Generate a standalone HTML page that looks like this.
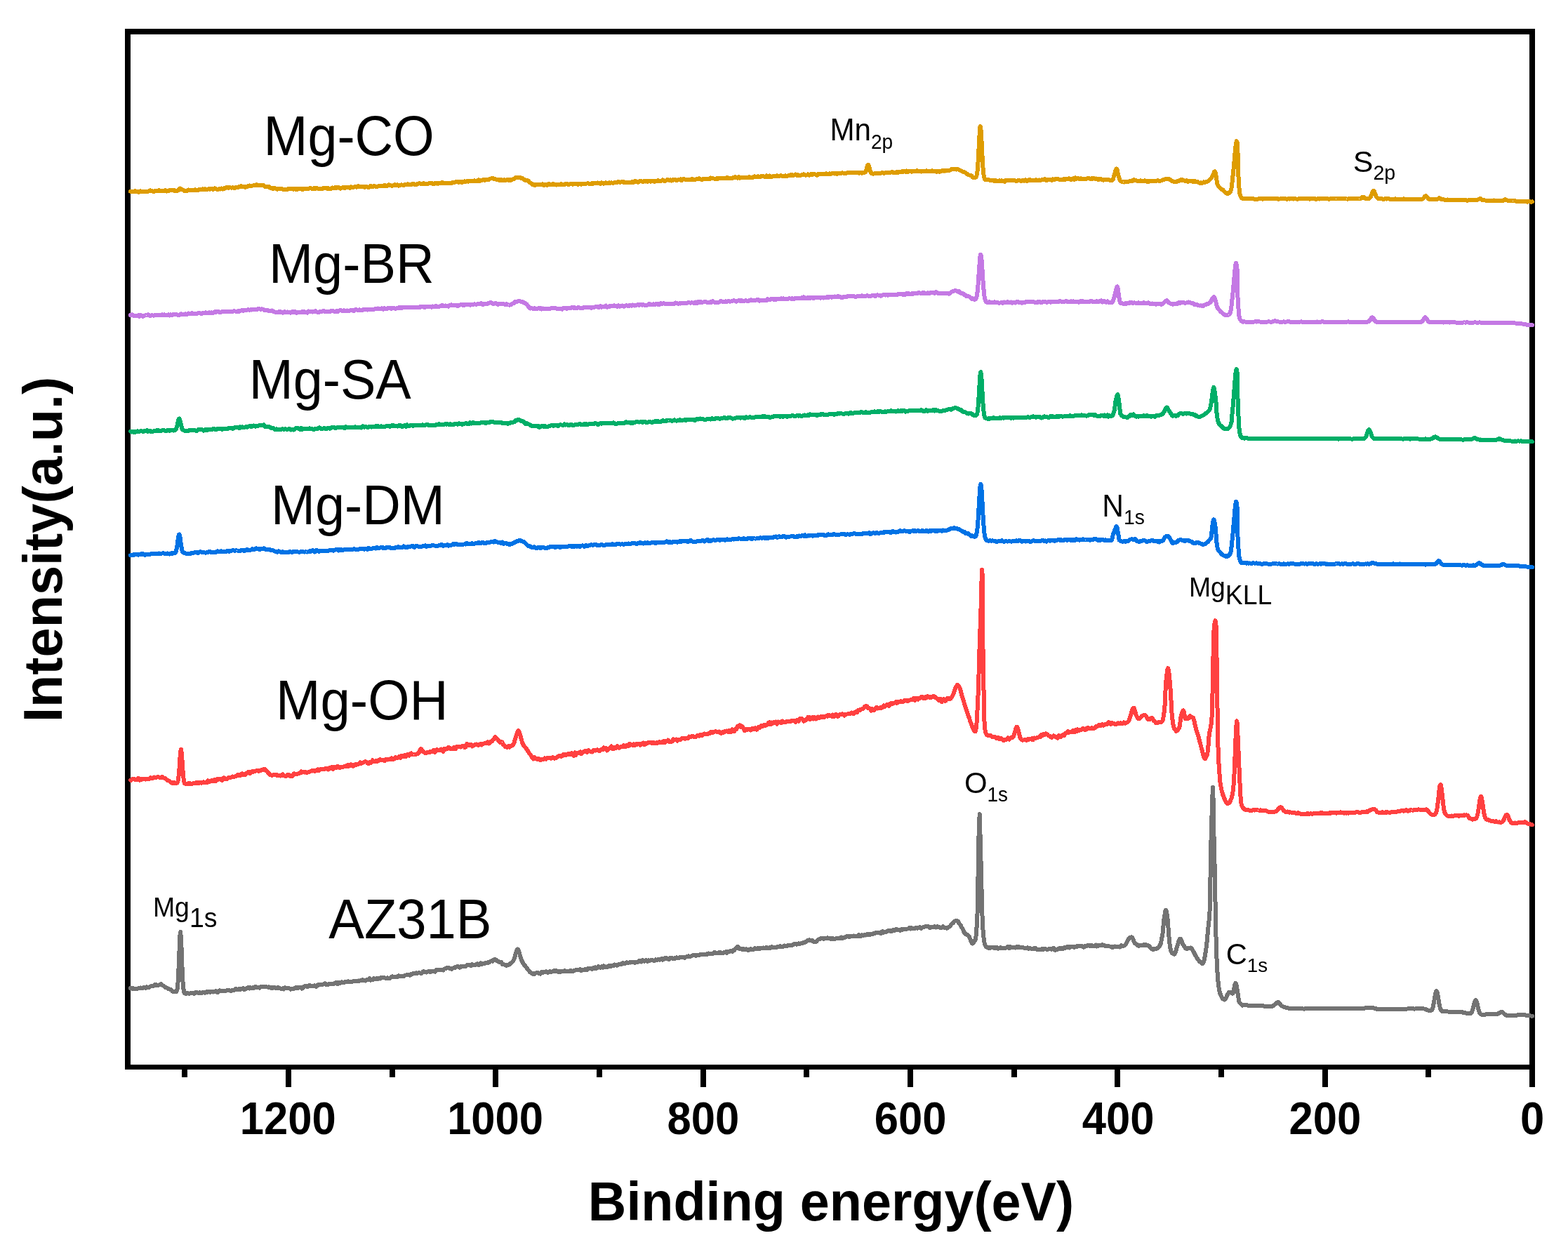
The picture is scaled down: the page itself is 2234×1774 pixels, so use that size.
<!DOCTYPE html>
<html lang="en"><head><meta charset="utf-8"><title>XPS survey spectra</title>
<style>
html,body{margin:0;padding:0;background:#fff;}
body{width:2234px;height:1774px;overflow:hidden;}
svg{display:block;}
text{white-space:pre;}
</style></head><body>
<svg xmlns="http://www.w3.org/2000/svg" width="2234" height="1774" viewBox="0 0 2234 1774">
<rect x="0" y="0" width="2234" height="1774" fill="#fff"/>
<g fill="#000" shape-rendering="crispEdges">
<rect x="178" y="41" width="2009" height="8"/>
<rect x="178" y="1517" width="2009" height="7"/>
<rect x="178" y="41" width="8" height="1483"/>
<rect x="2179" y="41" width="8" height="1483"/>
<rect x="2179" y="1520" width="8" height="29"/>
<rect x="2031" y="1520" width="8" height="15"/>
<rect x="1884" y="1520" width="8" height="29"/>
<rect x="1736" y="1520" width="8" height="15"/>
<rect x="1588" y="1520" width="8" height="29"/>
<rect x="1441" y="1520" width="8" height="15"/>
<rect x="1293" y="1520" width="8" height="29"/>
<rect x="1145" y="1520" width="8" height="15"/>
<rect x="998" y="1520" width="8" height="29"/>
<rect x="850" y="1520" width="8" height="15"/>
<rect x="702" y="1520" width="8" height="29"/>
<rect x="555" y="1520" width="8" height="15"/>
<rect x="407" y="1520" width="8" height="29"/>
<rect x="259" y="1520" width="8" height="15"/>
</g>
<g fill="none" stroke-width="6" stroke-linejoin="round" stroke-linecap="round" shape-rendering="crispEdges">
<path id="c-gray" stroke="#737373" d="M186.0,1408.0 L186.8,1408.0 L187.5,1408.3 L188.2,1408.7 L189.0,1408.6 L189.8,1408.4 L190.5,1408.5 L191.2,1408.6 L192.0,1408.9 L192.8,1409.1 L193.5,1409.2 L194.2,1409.1 L195.0,1409.0 L195.8,1408.8 L196.5,1408.4 L197.2,1408.0 L198.0,1407.8 L198.8,1407.7 L199.5,1407.6 L200.2,1407.5 L201.0,1407.7 L201.8,1407.8 L202.5,1407.9 L203.2,1407.9 L204.0,1407.5 L204.8,1407.1 L205.5,1407.0 L206.2,1407.0 L207.0,1407.5 L207.8,1407.8 L208.5,1406.9 L209.0,1406.3 L209.2,1406.3 L210.0,1406.8 L210.8,1407.3 L211.5,1407.4 L212.2,1407.2 L213.0,1406.5 L213.8,1405.8 L214.5,1405.5 L215.2,1405.3 L216.0,1405.2 L216.8,1405.2 L217.5,1405.5 L218.2,1405.4 L219.0,1404.8 L219.8,1404.1 L220.5,1403.2 L221.2,1402.8 L222.0,1403.1 L222.8,1403.5 L223.5,1403.9 L224.2,1404.0 L225.0,1403.8 L225.8,1403.7 L226.5,1403.5 L227.2,1403.2 L227.2,1403.2 L228.0,1402.9 L228.8,1402.5 L229.5,1402.1 L230.2,1402.6 L231.0,1403.7 L231.8,1404.2 L232.5,1404.4 L233.2,1404.9 L234.0,1405.4 L234.8,1406.2 L235.5,1407.2 L236.2,1407.4 L237.0,1407.2 L237.6,1407.5 L237.8,1407.5 L238.5,1408.0 L239.2,1408.5 L240.0,1409.1 L240.8,1409.3 L241.5,1409.4 L242.2,1409.8 L243.0,1410.1 L243.8,1410.5 L244.5,1410.9 L245.2,1411.9 L246.0,1412.8 L246.8,1413.0 L247.5,1413.1 L248.2,1413.0 L249.0,1413.2 L249.8,1413.3 L250.5,1413.4 L251.2,1413.0 L252.0,1411.7 L252.8,1408.2 L253.0,1406.2 L253.5,1400.5 L254.2,1387.1 L255.0,1368.2 L255.8,1347.7 L256.5,1332.2 L257.1,1328.0 L257.2,1328.3 L258.0,1337.7 L258.8,1356.4 L259.5,1377.3 L260.2,1394.5 L261.0,1405.7 L261.8,1411.8 L262.5,1414.4 L263.2,1415.5 L264.0,1415.8 L264.8,1415.8 L264.9,1415.8 L265.5,1415.7 L266.2,1415.4 L267.0,1415.1 L267.8,1415.3 L268.5,1415.6 L269.2,1415.9 L270.0,1415.8 L270.8,1415.4 L271.5,1415.1 L272.2,1414.9 L273.0,1414.8 L273.8,1414.8 L274.5,1414.9 L275.2,1415.2 L276.0,1415.5 L276.8,1415.8 L277.5,1415.3 L278.2,1414.4 L279.0,1413.9 L279.8,1413.6 L280.5,1413.9 L281.2,1414.6 L282.0,1414.7 L282.8,1414.6 L283.5,1414.4 L284.2,1414.1 L285.0,1414.5 L285.8,1415.1 L286.5,1415.2 L287.0,1415.2 L287.2,1415.2 L288.0,1414.7 L288.8,1414.1 L289.5,1414.1 L290.2,1414.1 L291.0,1414.4 L291.8,1414.7 L292.5,1414.3 L293.2,1413.8 L294.0,1413.4 L294.8,1412.9 L295.5,1413.4 L296.2,1413.8 L297.0,1413.4 L297.8,1413.1 L298.5,1413.5 L299.2,1413.9 L300.0,1413.5 L300.8,1413.1 L301.5,1413.2 L302.2,1413.3 L303.0,1413.5 L303.8,1413.6 L304.5,1413.3 L305.2,1413.0 L306.0,1412.7 L306.8,1412.5 L307.5,1412.2 L308.2,1412.4 L309.0,1413.4 L309.8,1414.0 L310.5,1413.7 L311.2,1413.1 L312.0,1412.0 L312.8,1411.3 L313.5,1411.4 L314.2,1411.7 L315.0,1412.3 L315.8,1412.4 L316.5,1411.9 L317.2,1411.7 L318.0,1411.8 L318.8,1412.1 L319.5,1412.3 L320.2,1412.2 L321.0,1411.9 L321.8,1411.6 L322.5,1411.5 L323.2,1411.3 L324.0,1411.1 L324.8,1411.0 L325.5,1411.1 L326.0,1411.2 L326.2,1411.2 L327.0,1411.4 L327.8,1411.7 L328.5,1412.2 L329.2,1412.1 L330.0,1411.7 L330.8,1411.2 L331.5,1410.6 L332.2,1410.7 L333.0,1411.1 L333.8,1410.8 L334.5,1410.4 L335.2,1409.7 L336.0,1409.0 L336.8,1409.3 L337.5,1409.7 L338.2,1410.1 L339.0,1410.4 L339.8,1409.8 L340.5,1409.0 L341.2,1409.5 L342.0,1410.0 L342.8,1409.4 L343.5,1408.8 L344.2,1408.9 L345.0,1408.9 L345.8,1408.3 L346.5,1407.8 L347.2,1409.1 L348.0,1410.1 L348.8,1409.3 L349.5,1408.7 L350.2,1408.8 L351.0,1408.8 L351.8,1408.1 L352.5,1407.5 L353.2,1407.0 L354.0,1406.9 L354.8,1407.9 L355.5,1408.4 L356.2,1407.5 L357.0,1407.2 L357.8,1408.1 L358.5,1408.4 L359.2,1407.6 L360.0,1407.3 L360.8,1408.0 L361.5,1408.0 L362.2,1407.0 L363.0,1406.2 L363.8,1405.8 L364.5,1406.0 L365.2,1407.0 L366.0,1407.3 L366.8,1406.9 L367.5,1406.8 L368.2,1406.8 L369.0,1407.0 L369.8,1407.5 L370.0,1407.6 L370.5,1407.2 L371.2,1406.4 L372.0,1406.0 L372.8,1405.8 L373.5,1405.8 L374.2,1405.9 L375.0,1405.8 L375.8,1405.6 L376.5,1405.5 L377.2,1405.5 L378.0,1405.7 L378.8,1405.9 L379.5,1406.1 L380.2,1406.3 L381.0,1406.5 L381.8,1406.7 L382.5,1406.5 L383.2,1406.3 L384.0,1406.6 L384.8,1407.1 L385.5,1407.5 L385.8,1407.6 L386.2,1407.9 L387.0,1407.6 L387.8,1407.2 L388.5,1407.5 L389.2,1407.8 L390.0,1407.3 L390.8,1406.9 L391.5,1407.4 L392.2,1407.9 L393.0,1408.1 L393.8,1408.2 L394.5,1407.8 L395.2,1407.4 L396.0,1407.1 L396.8,1407.0 L397.5,1407.6 L398.2,1408.1 L399.0,1408.2 L399.8,1408.5 L400.5,1409.1 L401.2,1409.4 L402.0,1408.7 L402.8,1408.5 L403.5,1409.3 L404.2,1409.5 L405.0,1408.0 L405.8,1407.3 L406.5,1408.0 L407.2,1408.5 L408.0,1408.4 L408.8,1408.4 L409.0,1408.4 L409.5,1408.4 L410.2,1408.4 L411.0,1408.4 L411.8,1408.4 L412.5,1408.6 L413.2,1409.0 L414.0,1409.6 L414.8,1409.5 L415.5,1408.8 L416.2,1408.7 L417.0,1409.2 L417.8,1409.1 L418.5,1408.5 L419.2,1408.3 L420.0,1408.3 L420.8,1407.7 L421.5,1406.8 L422.2,1407.0 L423.0,1407.8 L423.8,1408.1 L424.5,1408.2 L425.2,1407.7 L426.0,1406.9 L426.8,1406.8 L427.5,1406.9 L428.2,1406.8 L429.0,1406.6 L429.8,1407.5 L430.5,1408.6 L431.2,1407.6 L432.0,1406.2 L432.8,1406.1 L433.5,1406.1 L434.2,1405.5 L435.0,1404.9 L435.8,1404.9 L436.5,1405.0 L437.2,1405.6 L438.0,1406.2 L438.8,1405.5 L439.5,1404.8 L440.2,1404.4 L441.0,1404.0 L441.8,1404.6 L442.5,1405.1 L443.2,1405.2 L444.0,1405.2 L444.8,1405.2 L445.5,1405.1 L446.2,1405.1 L447.0,1404.9 L447.8,1404.4 L448.5,1404.3 L449.2,1405.4 L450.0,1405.9 L450.8,1404.6 L451.5,1403.8 L452.2,1404.1 L453.0,1404.0 L453.8,1403.2 L454.5,1402.8 L455.2,1403.0 L456.0,1402.9 L456.8,1402.5 L457.5,1402.5 L458.2,1403.1 L459.0,1403.2 L459.8,1402.9 L460.5,1402.6 L461.2,1402.3 L462.0,1401.8 L462.8,1401.4 L463.5,1401.7 L464.2,1402.6 L465.0,1403.0 L465.8,1403.0 L466.5,1403.0 L467.2,1402.9 L468.0,1402.6 L468.8,1402.1 L469.5,1402.1 L470.2,1402.3 L471.0,1402.4 L471.8,1402.4 L472.5,1402.2 L473.2,1402.0 L474.0,1402.1 L474.8,1402.4 L475.5,1401.9 L476.2,1401.2 L477.0,1401.1 L477.8,1401.2 L478.5,1400.5 L479.2,1399.7 L480.0,1400.8 L480.8,1402.2 L481.5,1401.2 L482.2,1400.0 L483.0,1400.2 L483.8,1400.6 L484.5,1400.6 L485.2,1400.6 L486.0,1400.0 L486.8,1399.4 L487.5,1399.6 L488.2,1399.8 L489.0,1400.0 L489.8,1400.1 L490.5,1399.7 L491.2,1399.4 L492.0,1399.2 L492.8,1399.1 L493.5,1399.0 L494.2,1398.8 L495.0,1398.6 L495.8,1398.4 L496.5,1398.6 L497.2,1398.7 L498.0,1398.8 L498.8,1398.9 L499.5,1398.9 L500.2,1398.9 L501.0,1399.1 L501.8,1399.0 L502.5,1398.5 L503.2,1398.1 L504.0,1397.8 L504.8,1397.8 L505.5,1398.2 L506.2,1398.4 L507.0,1398.1 L507.8,1398.0 L508.0,1398.1 L508.5,1398.2 L509.2,1398.1 L510.0,1397.7 L510.8,1397.5 L511.5,1397.6 L512.2,1397.6 L513.0,1397.4 L513.8,1397.4 L514.5,1397.5 L515.2,1397.0 L516.0,1396.3 L516.8,1396.2 L517.5,1396.5 L518.2,1396.6 L519.0,1396.6 L519.8,1397.0 L520.5,1397.6 L521.2,1397.1 L522.0,1396.3 L522.8,1396.3 L523.5,1396.4 L524.2,1396.2 L525.0,1395.9 L525.8,1395.1 L526.5,1394.3 L527.2,1395.3 L528.0,1396.6 L528.8,1396.4 L529.5,1396.1 L530.2,1396.2 L531.0,1396.4 L531.8,1395.3 L532.5,1394.2 L533.2,1394.8 L534.0,1395.4 L534.8,1395.2 L535.5,1395.1 L536.2,1394.3 L537.0,1393.7 L537.8,1394.4 L538.5,1395.0 L539.2,1394.5 L540.0,1394.2 L540.8,1394.5 L541.5,1394.6 L542.2,1393.7 L543.0,1393.0 L543.8,1393.3 L544.5,1393.5 L545.2,1393.4 L546.0,1393.3 L546.8,1392.9 L547.5,1392.8 L548.2,1393.4 L549.0,1393.9 L549.8,1394.3 L550.5,1394.3 L551.2,1393.7 L552.0,1393.4 L552.8,1393.6 L553.5,1393.8 L554.2,1394.1 L555.0,1394.0 L555.8,1393.6 L556.5,1393.1 L557.2,1392.6 L558.0,1392.0 L558.8,1391.3 L559.5,1391.5 L560.0,1392.0 L560.2,1392.3 L561.0,1392.4 L561.8,1392.1 L562.5,1391.8 L563.2,1391.7 L564.0,1391.9 L564.8,1392.2 L565.5,1392.2 L566.2,1392.1 L567.0,1391.3 L567.8,1390.4 L568.5,1390.6 L569.2,1391.2 L570.0,1391.1 L570.8,1390.7 L571.5,1391.0 L572.2,1391.3 L573.0,1391.0 L573.8,1390.5 L574.5,1390.7 L575.2,1391.0 L576.0,1390.3 L576.8,1389.5 L577.5,1389.5 L578.2,1389.5 L579.0,1389.3 L579.8,1389.1 L580.5,1389.1 L581.2,1389.2 L582.0,1389.0 L582.8,1388.9 L583.5,1389.3 L584.2,1389.7 L585.0,1388.7 L585.8,1387.8 L586.5,1388.1 L587.2,1388.3 L588.0,1387.7 L588.8,1387.1 L589.5,1386.9 L590.2,1386.7 L591.0,1386.9 L591.8,1387.0 L592.5,1386.5 L593.2,1386.3 L594.0,1386.8 L594.8,1387.0 L595.5,1386.5 L596.2,1386.2 L597.0,1386.2 L597.8,1386.2 L598.5,1386.5 L599.2,1386.8 L600.0,1387.1 L600.8,1386.8 L601.5,1385.9 L602.2,1385.0 L603.0,1384.3 L603.8,1384.3 L604.5,1384.8 L605.2,1385.0 L606.0,1385.0 L606.8,1385.2 L607.5,1385.6 L608.2,1385.4 L609.0,1384.8 L609.8,1384.3 L610.5,1383.8 L611.2,1384.0 L612.0,1384.6 L612.8,1384.8 L613.5,1384.7 L614.2,1384.3 L615.0,1383.6 L615.8,1383.5 L616.5,1383.6 L617.2,1383.6 L618.0,1383.5 L618.8,1384.0 L619.5,1384.6 L620.2,1383.7 L621.0,1382.4 L621.8,1382.2 L622.5,1382.1 L623.2,1382.1 L624.0,1382.1 L624.8,1382.3 L625.5,1382.5 L626.2,1382.0 L627.0,1381.5 L627.8,1381.7 L628.5,1381.9 L629.2,1381.9 L630.0,1382.0 L630.8,1382.3 L631.5,1382.5 L632.2,1381.5 L633.0,1380.6 L633.8,1380.5 L634.5,1380.3 L635.2,1380.1 L636.0,1379.9 L636.8,1379.2 L637.5,1378.6 L638.2,1378.8 L639.0,1379.0 L639.8,1379.4 L640.5,1379.7 L641.2,1379.6 L642.0,1379.7 L642.8,1380.4 L643.5,1380.7 L644.2,1380.2 L645.0,1379.8 L645.8,1379.5 L646.5,1379.3 L647.2,1379.5 L648.0,1379.2 L648.8,1378.2 L649.5,1377.7 L650.2,1377.6 L651.0,1377.4 L651.8,1377.3 L652.5,1377.2 L653.2,1377.4 L654.0,1377.9 L654.8,1378.7 L655.5,1378.4 L656.2,1377.3 L657.0,1376.7 L657.8,1376.5 L658.5,1376.5 L659.2,1376.7 L660.0,1376.9 L660.8,1377.1 L661.5,1377.0 L662.2,1376.7 L663.0,1376.7 L663.8,1376.8 L664.0,1376.7 L664.5,1376.0 L665.2,1375.1 L666.0,1375.0 L666.8,1375.0 L667.5,1375.2 L668.2,1375.4 L669.0,1375.4 L669.8,1375.5 L670.5,1375.9 L671.2,1376.3 L672.0,1375.3 L672.8,1374.1 L673.5,1374.8 L674.2,1375.5 L675.0,1375.1 L675.8,1374.6 L676.5,1374.9 L677.2,1375.1 L678.0,1374.5 L678.8,1374.0 L679.5,1373.6 L680.2,1373.4 L681.0,1374.3 L681.8,1375.1 L682.5,1374.6 L683.2,1374.1 L684.0,1373.1 L684.8,1372.5 L685.5,1373.5 L686.2,1374.0 L687.0,1373.2 L687.8,1372.7 L688.5,1372.9 L689.2,1373.1 L690.0,1373.0 L690.8,1372.6 L691.5,1371.9 L692.2,1371.7 L693.0,1372.4 L693.8,1372.4 L694.5,1371.5 L695.2,1371.2 L696.0,1371.6 L696.8,1371.5 L697.5,1370.8 L698.2,1370.2 L699.0,1369.9 L699.8,1369.5 L700.5,1369.1 L701.2,1369.2 L702.0,1369.6 L702.8,1369.0 L703.5,1367.7 L704.2,1367.2 L705.0,1367.2 L705.6,1367.2 L705.8,1367.2 L706.5,1367.4 L707.2,1368.0 L708.0,1369.0 L708.8,1369.5 L709.5,1369.9 L710.2,1370.1 L711.0,1370.2 L711.8,1370.7 L712.5,1371.3 L713.2,1371.3 L714.0,1371.1 L714.8,1372.3 L715.5,1373.8 L715.6,1374.0 L716.2,1373.8 L717.0,1373.6 L717.8,1374.1 L718.5,1374.6 L719.2,1374.8 L720.0,1375.0 L720.8,1375.5 L721.5,1376.0 L722.0,1375.9 L722.2,1375.7 L723.0,1375.3 L723.8,1375.3 L724.5,1375.1 L725.2,1374.6 L726.0,1374.1 L726.8,1373.4 L727.5,1372.6 L728.2,1372.0 L729.0,1371.4 L729.8,1370.7 L730.5,1370.0 L731.2,1369.2 L731.2,1369.1 L732.0,1367.8 L732.8,1365.8 L733.5,1363.5 L734.2,1360.9 L735.0,1358.3 L735.8,1355.7 L736.5,1353.7 L737.2,1352.6 L737.7,1352.4 L738.0,1352.5 L738.8,1353.8 L739.5,1356.0 L740.2,1358.8 L741.0,1361.8 L741.8,1364.5 L742.5,1366.8 L742.9,1367.6 L743.2,1368.3 L744.0,1369.8 L744.8,1371.5 L745.5,1372.9 L746.2,1374.1 L747.0,1375.0 L747.8,1375.6 L748.5,1376.5 L749.2,1377.6 L749.4,1377.8 L750.0,1378.7 L750.8,1379.8 L751.5,1380.8 L752.2,1381.5 L753.0,1382.4 L753.8,1383.4 L754.5,1384.4 L755.2,1385.3 L756.0,1385.9 L756.8,1386.2 L757.5,1386.9 L758.2,1387.5 L758.5,1387.6 L759.0,1387.4 L759.8,1386.9 L760.5,1387.3 L761.2,1388.1 L762.0,1387.6 L762.8,1386.8 L763.5,1386.5 L764.2,1386.3 L765.0,1386.0 L765.8,1385.6 L766.5,1386.1 L767.2,1386.6 L767.6,1386.8 L768.0,1387.0 L768.8,1387.3 L769.5,1387.5 L770.2,1387.6 L771.0,1386.2 L771.8,1384.8 L772.5,1385.4 L773.2,1385.9 L774.0,1385.2 L774.8,1384.7 L775.5,1385.1 L776.2,1385.4 L777.0,1384.8 L777.8,1384.4 L778.0,1384.5 L778.5,1384.6 L779.2,1385.0 L780.0,1385.5 L780.8,1385.8 L781.5,1385.1 L782.2,1384.5 L783.0,1384.4 L783.8,1384.4 L784.5,1384.9 L785.2,1385.1 L786.0,1384.8 L786.8,1384.5 L787.5,1384.3 L788.2,1383.9 L789.0,1383.3 L789.8,1383.2 L790.5,1383.7 L791.2,1383.7 L792.0,1383.2 L792.8,1383.2 L793.5,1384.0 L794.2,1384.4 L795.0,1384.6 L795.8,1384.5 L796.5,1384.3 L797.2,1384.6 L798.0,1385.3 L798.8,1384.8 L799.5,1383.6 L800.2,1383.5 L801.0,1384.1 L801.8,1384.2 L802.5,1384.0 L803.2,1383.6 L804.0,1383.1 L804.8,1383.4 L805.5,1384.1 L806.2,1384.3 L807.0,1384.4 L807.8,1384.4 L808.5,1384.5 L809.2,1384.1 L810.0,1383.5 L810.8,1383.6 L811.5,1383.9 L812.2,1383.4 L813.0,1382.8 L813.8,1383.5 L814.5,1384.3 L815.2,1384.4 L816.0,1384.5 L816.8,1383.8 L817.5,1383.1 L818.2,1383.0 L819.0,1382.9 L819.8,1382.4 L820.5,1381.8 L821.2,1382.2 L822.0,1382.5 L822.8,1382.3 L823.5,1382.1 L824.2,1382.2 L825.0,1382.2 L825.8,1381.5 L826.5,1381.1 L827.2,1382.3 L828.0,1383.1 L828.8,1382.4 L829.5,1381.9 L830.2,1382.2 L831.0,1382.2 L831.8,1381.9 L832.5,1381.6 L833.2,1381.2 L834.0,1381.2 L834.8,1382.0 L835.5,1382.3 L836.2,1381.9 L837.0,1381.1 L837.8,1380.0 L838.5,1379.6 L839.2,1380.1 L840.0,1380.3 L840.8,1380.1 L841.5,1379.8 L842.2,1379.5 L843.0,1379.9 L843.8,1381.0 L844.5,1380.6 L845.2,1379.2 L846.0,1379.2 L846.8,1380.2 L847.5,1379.7 L848.2,1378.3 L849.0,1378.6 L849.8,1379.7 L850.5,1379.5 L851.2,1378.6 L852.0,1377.8 L852.8,1377.0 L853.5,1377.5 L854.2,1378.4 L855.0,1378.6 L855.8,1378.6 L856.0,1378.5 L856.5,1378.1 L857.2,1377.4 L858.0,1377.9 L858.8,1378.6 L859.5,1377.6 L860.2,1376.4 L861.0,1377.2 L861.8,1378.3 L862.5,1378.0 L863.2,1377.7 L864.0,1378.1 L864.8,1378.4 L865.5,1377.4 L866.2,1376.5 L867.0,1376.9 L867.8,1377.2 L868.5,1376.5 L869.2,1375.9 L870.0,1376.4 L870.8,1376.7 L871.5,1376.4 L872.2,1376.1 L873.0,1376.2 L873.8,1376.1 L874.5,1375.1 L875.2,1374.5 L876.0,1375.1 L876.8,1375.5 L877.5,1375.3 L878.2,1375.3 L879.0,1375.6 L879.8,1375.6 L880.5,1374.7 L881.2,1374.2 L882.0,1374.1 L882.8,1374.1 L883.5,1374.3 L884.2,1374.4 L885.0,1374.2 L885.8,1373.6 L886.5,1372.4 L887.2,1372.0 L888.0,1372.7 L888.8,1373.2 L889.5,1373.5 L890.2,1373.4 L891.0,1372.8 L891.8,1372.1 L892.5,1371.4 L893.2,1371.4 L894.0,1371.9 L894.8,1372.0 L895.5,1372.1 L896.2,1371.7 L897.0,1371.3 L897.8,1371.3 L898.5,1371.6 L899.2,1371.3 L900.0,1370.7 L900.8,1370.8 L901.5,1371.0 L902.2,1371.1 L903.0,1371.1 L903.8,1371.6 L904.5,1372.1 L905.2,1371.7 L906.0,1371.0 L906.8,1371.2 L907.5,1371.4 L908.0,1371.2 L908.2,1371.0 L909.0,1370.5 L909.8,1369.9 L910.5,1369.2 L911.2,1369.1 L912.0,1369.0 L912.8,1369.7 L913.5,1370.4 L914.2,1369.3 L915.0,1368.3 L915.8,1368.3 L916.5,1368.3 L917.2,1369.2 L918.0,1369.9 L918.8,1369.1 L919.5,1368.5 L920.2,1368.3 L921.0,1368.3 L921.8,1369.3 L922.5,1369.9 L923.2,1368.8 L924.0,1368.1 L924.8,1368.7 L925.5,1368.9 L926.2,1368.6 L927.0,1368.4 L927.8,1368.4 L928.5,1368.3 L929.2,1368.2 L930.0,1368.3 L930.8,1368.6 L931.5,1368.8 L932.2,1369.0 L933.0,1368.6 L933.8,1367.5 L934.5,1367.4 L935.2,1368.3 L936.0,1368.4 L936.8,1367.6 L937.5,1367.3 L938.2,1367.2 L939.0,1367.3 L939.8,1367.6 L940.5,1367.4 L941.2,1366.8 L942.0,1366.5 L942.8,1366.2 L943.5,1366.8 L944.2,1367.7 L945.0,1367.3 L945.8,1366.4 L946.5,1365.7 L947.2,1365.0 L948.0,1364.7 L948.8,1364.6 L949.5,1365.3 L950.2,1366.3 L951.0,1366.2 L951.8,1366.0 L952.5,1366.5 L953.2,1367.2 L954.0,1366.2 L954.8,1364.9 L955.5,1364.7 L956.2,1364.6 L957.0,1365.0 L957.8,1365.4 L958.5,1365.9 L959.2,1366.3 L960.0,1366.3 L960.8,1366.2 L961.5,1365.6 L962.2,1365.0 L963.0,1364.6 L963.8,1364.3 L964.5,1364.5 L965.2,1364.8 L966.0,1365.2 L966.8,1365.5 L967.5,1364.8 L968.2,1364.1 L969.0,1363.9 L969.8,1363.8 L970.5,1364.0 L971.2,1364.2 L972.0,1364.0 L972.8,1363.8 L973.5,1363.7 L974.2,1363.8 L975.0,1364.5 L975.8,1364.8 L976.5,1364.1 L977.2,1363.6 L978.0,1363.2 L978.8,1362.9 L979.5,1362.7 L980.2,1362.5 L981.0,1362.4 L981.8,1362.5 L982.5,1362.7 L983.2,1362.8 L984.0,1362.8 L984.8,1362.4 L985.5,1361.8 L986.2,1361.5 L987.0,1361.4 L987.8,1361.4 L988.5,1361.4 L989.2,1361.2 L990.0,1360.8 L990.8,1361.2 L991.5,1361.9 L992.2,1361.5 L993.0,1360.6 L993.8,1360.6 L994.5,1360.9 L995.2,1361.2 L996.0,1361.4 L996.8,1360.8 L997.5,1359.9 L998.2,1359.7 L999.0,1359.6 L999.8,1359.8 L1000.5,1360.0 L1001.2,1360.1 L1002.0,1360.3 L1002.8,1360.1 L1003.5,1359.9 L1004.2,1359.7 L1005.0,1359.6 L1005.8,1360.0 L1006.5,1360.4 L1007.2,1359.5 L1008.0,1358.7 L1008.8,1358.6 L1009.5,1358.5 L1010.2,1358.9 L1011.0,1359.3 L1011.8,1359.0 L1012.0,1358.9 L1012.5,1358.8 L1013.2,1359.0 L1014.0,1359.3 L1014.8,1359.2 L1015.5,1359.0 L1016.2,1358.1 L1017.0,1357.3 L1017.8,1356.8 L1018.5,1356.7 L1019.2,1357.7 L1020.0,1358.3 L1020.8,1358.0 L1021.5,1357.9 L1022.2,1357.9 L1023.0,1357.8 L1023.8,1357.3 L1024.5,1357.2 L1025.2,1357.8 L1026.0,1358.0 L1026.8,1357.5 L1027.5,1357.4 L1028.2,1357.6 L1029.0,1357.8 L1029.8,1357.9 L1030.5,1357.7 L1031.2,1357.3 L1032.0,1357.0 L1032.8,1356.9 L1033.5,1356.6 L1034.2,1356.3 L1035.0,1356.8 L1035.8,1357.9 L1036.5,1357.3 L1037.2,1355.8 L1038.0,1355.7 L1038.8,1356.4 L1039.5,1356.0 L1040.2,1355.0 L1041.0,1354.8 L1041.8,1355.0 L1042.5,1355.4 L1043.0,1355.8 L1043.2,1356.0 L1044.0,1355.3 L1044.8,1354.1 L1045.5,1353.8 L1046.2,1353.8 L1047.0,1352.8 L1047.8,1351.6 L1048.5,1351.3 L1049.2,1351.2 L1050.0,1350.2 L1050.8,1349.2 L1051.0,1349.2 L1051.5,1349.3 L1052.2,1349.6 L1053.0,1350.8 L1053.8,1352.1 L1054.5,1352.2 L1055.2,1352.3 L1056.0,1352.2 L1056.8,1352.2 L1057.5,1352.7 L1058.2,1353.1 L1058.8,1352.6 L1059.0,1352.5 L1059.8,1352.0 L1060.5,1352.6 L1061.2,1353.2 L1062.0,1352.7 L1062.8,1352.4 L1063.5,1352.5 L1064.2,1352.8 L1065.0,1353.8 L1065.8,1354.3 L1066.5,1353.4 L1067.2,1352.8 L1068.0,1352.7 L1068.8,1352.5 L1069.5,1352.3 L1070.2,1352.3 L1071.0,1353.0 L1071.8,1353.3 L1072.5,1353.2 L1073.2,1352.9 L1074.0,1352.3 L1074.8,1351.7 L1075.5,1351.3 L1076.2,1351.3 L1077.0,1351.8 L1077.8,1352.1 L1078.5,1352.2 L1079.2,1351.7 L1080.0,1350.8 L1080.8,1351.0 L1081.5,1352.2 L1082.2,1352.2 L1083.0,1351.2 L1083.8,1351.1 L1084.5,1351.4 L1085.2,1351.2 L1086.0,1350.8 L1086.8,1350.6 L1087.5,1350.5 L1088.2,1350.9 L1089.0,1351.5 L1089.8,1351.4 L1090.0,1351.3 L1090.5,1351.0 L1091.2,1350.3 L1092.0,1349.6 L1092.8,1350.0 L1093.5,1350.7 L1094.2,1350.9 L1095.0,1351.0 L1095.8,1350.6 L1096.5,1350.1 L1097.2,1350.5 L1098.0,1350.9 L1098.8,1350.1 L1099.5,1349.2 L1100.2,1349.8 L1101.0,1350.5 L1101.8,1350.1 L1102.5,1349.8 L1103.2,1349.7 L1104.0,1349.6 L1104.8,1350.0 L1105.5,1350.3 L1106.2,1350.0 L1107.0,1349.6 L1107.8,1349.1 L1108.5,1348.7 L1109.2,1349.0 L1110.0,1349.1 L1110.8,1348.5 L1111.5,1348.2 L1112.2,1348.6 L1113.0,1348.9 L1113.8,1349.1 L1114.5,1349.3 L1115.2,1349.2 L1116.0,1348.8 L1116.8,1347.9 L1117.5,1347.4 L1118.2,1347.5 L1119.0,1347.6 L1119.8,1347.9 L1120.5,1348.0 L1121.2,1347.9 L1122.0,1347.5 L1122.8,1346.9 L1123.5,1346.6 L1124.2,1346.9 L1125.0,1347.1 L1125.8,1347.0 L1126.5,1347.2 L1127.2,1347.5 L1128.0,1347.3 L1128.8,1346.7 L1129.5,1346.3 L1130.2,1346.0 L1131.0,1345.6 L1131.8,1345.1 L1132.5,1344.7 L1133.2,1344.5 L1134.0,1344.9 L1134.8,1345.7 L1135.5,1345.6 L1136.2,1345.1 L1137.0,1344.8 L1137.8,1344.4 L1138.5,1344.7 L1139.2,1345.1 L1140.0,1344.9 L1140.8,1344.5 L1141.5,1344.2 L1142.0,1343.9 L1142.2,1343.8 L1143.0,1343.8 L1143.8,1343.9 L1144.5,1343.3 L1145.2,1342.6 L1146.0,1342.6 L1146.8,1342.7 L1147.5,1342.3 L1148.2,1341.8 L1149.0,1341.2 L1149.8,1340.6 L1150.5,1340.3 L1151.2,1340.1 L1152.0,1339.7 L1152.8,1339.4 L1153.5,1339.9 L1154.2,1340.3 L1155.0,1339.9 L1155.8,1339.6 L1156.5,1339.6 L1157.2,1339.8 L1158.0,1340.8 L1158.8,1341.8 L1159.5,1342.1 L1160.2,1342.3 L1161.0,1342.4 L1161.5,1342.3 L1161.8,1342.3 L1162.5,1342.1 L1163.2,1341.6 L1164.0,1340.8 L1164.8,1339.9 L1165.5,1339.1 L1166.2,1338.6 L1167.0,1338.5 L1167.8,1338.2 L1168.0,1338.0 L1168.5,1337.5 L1169.2,1337.0 L1170.0,1336.7 L1170.8,1336.5 L1171.5,1336.5 L1172.2,1336.8 L1173.0,1337.7 L1173.8,1337.7 L1174.5,1336.8 L1175.2,1336.6 L1176.0,1336.9 L1176.8,1336.9 L1177.5,1336.7 L1178.2,1336.5 L1179.0,1336.4 L1179.8,1336.5 L1180.5,1336.8 L1181.2,1336.9 L1182.0,1336.9 L1182.8,1337.5 L1183.5,1338.3 L1184.2,1337.8 L1185.0,1336.9 L1185.8,1336.8 L1186.5,1337.1 L1187.2,1337.6 L1188.0,1338.3 L1188.8,1338.2 L1189.5,1338.0 L1190.2,1337.6 L1191.0,1337.3 L1191.8,1337.3 L1192.5,1337.4 L1193.2,1337.0 L1194.0,1336.6 L1194.8,1336.8 L1195.5,1337.1 L1196.2,1336.9 L1197.0,1336.6 L1197.8,1336.1 L1198.5,1335.6 L1199.2,1336.6 L1200.0,1337.4 L1200.8,1336.7 L1201.5,1336.0 L1202.2,1336.2 L1203.0,1336.2 L1203.8,1335.7 L1204.5,1335.2 L1205.2,1334.9 L1206.0,1334.5 L1206.8,1334.2 L1207.5,1334.0 L1208.2,1333.7 L1209.0,1333.8 L1209.8,1334.8 L1210.5,1335.3 L1211.2,1334.2 L1212.0,1333.7 L1212.8,1334.1 L1213.5,1334.4 L1214.2,1334.5 L1215.0,1334.3 L1215.8,1333.6 L1216.5,1333.4 L1217.2,1333.7 L1218.0,1334.0 L1218.8,1334.2 L1219.5,1334.2 L1220.0,1334.0 L1220.2,1333.9 L1221.0,1333.8 L1221.8,1334.1 L1222.5,1333.5 L1223.2,1332.3 L1224.0,1332.4 L1224.8,1333.4 L1225.5,1333.9 L1226.2,1333.9 L1227.0,1333.3 L1227.8,1332.3 L1228.5,1332.4 L1229.2,1333.2 L1230.0,1333.0 L1230.8,1332.5 L1231.5,1332.3 L1232.2,1332.2 L1233.0,1332.4 L1233.8,1332.6 L1234.5,1331.9 L1235.2,1331.0 L1236.0,1331.5 L1236.8,1332.3 L1237.5,1331.9 L1238.2,1331.1 L1239.0,1331.5 L1239.8,1332.0 L1240.0,1331.9 L1240.5,1331.6 L1241.2,1331.2 L1242.0,1331.2 L1242.8,1331.2 L1243.5,1330.6 L1244.2,1330.1 L1245.0,1330.3 L1245.8,1330.4 L1246.5,1329.8 L1247.2,1329.3 L1248.0,1329.4 L1248.8,1329.4 L1249.5,1329.0 L1250.2,1328.6 L1251.0,1329.0 L1251.8,1329.3 L1252.5,1328.8 L1253.2,1328.6 L1254.0,1329.8 L1254.8,1330.4 L1255.5,1329.0 L1256.2,1327.8 L1257.0,1327.1 L1257.8,1327.0 L1258.5,1328.1 L1259.2,1328.7 L1260.0,1328.0 L1260.8,1327.6 L1261.5,1327.8 L1262.2,1327.8 L1263.0,1327.5 L1263.8,1327.1 L1264.5,1326.6 L1265.2,1326.3 L1266.0,1326.3 L1266.8,1326.1 L1267.5,1325.8 L1268.2,1326.1 L1269.0,1326.9 L1269.8,1327.1 L1270.5,1326.7 L1271.2,1326.0 L1272.0,1325.1 L1272.8,1325.2 L1273.5,1326.0 L1274.2,1326.1 L1275.0,1325.9 L1275.8,1325.1 L1276.5,1324.2 L1277.2,1324.0 L1278.0,1324.2 L1278.8,1324.6 L1279.0,1324.7 L1279.5,1325.0 L1280.2,1325.0 L1281.0,1324.9 L1281.8,1325.3 L1282.5,1326.0 L1283.2,1325.3 L1284.0,1324.4 L1284.8,1324.5 L1285.5,1324.8 L1286.2,1324.3 L1287.0,1323.7 L1287.8,1323.7 L1288.5,1323.7 L1289.2,1323.7 L1290.0,1323.7 L1290.8,1323.6 L1291.5,1323.5 L1292.2,1323.5 L1293.0,1323.5 L1293.8,1323.4 L1294.5,1323.3 L1295.2,1322.5 L1296.0,1321.9 L1296.8,1322.8 L1297.5,1323.4 L1298.2,1322.6 L1299.0,1322.1 L1299.8,1322.8 L1300.5,1323.4 L1301.2,1323.2 L1302.0,1323.1 L1302.8,1323.1 L1303.5,1322.9 L1304.2,1322.3 L1305.0,1322.0 L1305.8,1322.3 L1306.5,1322.5 L1307.2,1322.6 L1308.0,1322.5 L1308.8,1322.0 L1309.5,1321.5 L1310.2,1321.0 L1311.0,1321.3 L1311.8,1322.5 L1312.5,1322.8 L1313.2,1322.0 L1314.0,1321.5 L1314.8,1321.3 L1315.5,1321.1 L1316.2,1320.9 L1317.0,1320.7 L1317.8,1320.5 L1318.0,1320.5 L1318.5,1320.2 L1319.2,1319.8 L1320.0,1319.9 L1320.8,1320.3 L1321.5,1320.4 L1322.2,1320.3 L1323.0,1320.3 L1323.8,1320.4 L1324.5,1321.1 L1325.2,1322.2 L1326.0,1321.9 L1326.8,1321.0 L1327.5,1320.7 L1328.2,1320.5 L1329.0,1320.6 L1329.8,1320.8 L1330.5,1320.5 L1331.2,1320.1 L1332.0,1320.7 L1332.8,1321.5 L1333.5,1321.6 L1334.2,1321.5 L1335.0,1320.8 L1335.8,1320.0 L1336.5,1320.6 L1337.2,1321.3 L1338.0,1321.2 L1338.8,1321.1 L1338.8,1321.1 L1339.5,1321.7 L1340.2,1322.3 L1341.0,1322.0 L1341.8,1321.7 L1342.5,1320.8 L1343.2,1320.0 L1344.0,1320.5 L1344.8,1321.0 L1345.5,1321.7 L1346.2,1322.2 L1347.0,1322.2 L1347.8,1322.2 L1348.5,1322.5 L1349.0,1322.6 L1349.2,1322.5 L1350.0,1321.9 L1350.8,1321.3 L1351.5,1320.9 L1352.2,1320.6 L1353.0,1320.3 L1353.8,1319.7 L1354.5,1318.6 L1355.2,1317.5 L1356.0,1316.5 L1356.8,1315.8 L1357.5,1315.7 L1358.2,1315.1 L1359.0,1313.7 L1359.8,1312.8 L1360.5,1312.4 L1361.2,1312.0 L1362.0,1311.6 L1362.2,1311.5 L1362.8,1311.7 L1363.5,1312.3 L1364.2,1312.8 L1365.0,1313.0 L1365.8,1314.2 L1366.5,1316.1 L1367.2,1317.0 L1368.0,1317.3 L1368.8,1318.6 L1369.5,1320.4 L1370.0,1321.2 L1370.2,1321.5 L1371.0,1322.4 L1371.8,1323.9 L1372.5,1325.7 L1373.2,1327.4 L1374.0,1329.0 L1374.8,1329.9 L1375.2,1330.3 L1375.5,1330.5 L1376.2,1331.1 L1377.0,1331.7 L1377.8,1332.0 L1378.5,1332.3 L1379.2,1332.8 L1380.0,1333.5 L1380.4,1334.0 L1380.8,1334.6 L1381.5,1336.3 L1382.2,1338.0 L1383.0,1339.8 L1383.8,1341.9 L1384.5,1343.7 L1385.2,1344.5 L1385.6,1344.6 L1386.0,1344.4 L1386.8,1343.7 L1387.5,1342.7 L1388.2,1341.4 L1388.5,1341.0 L1389.0,1340.1 L1389.8,1338.3 L1390.1,1337.0 L1390.5,1334.3 L1391.2,1325.7 L1391.3,1325.0 L1392.0,1313.6 L1392.5,1302.0 L1392.8,1291.8 L1393.4,1255.0 L1393.5,1250.1 L1394.2,1201.0 L1394.2,1200.6 L1395.0,1176.5 L1395.2,1172.0 L1395.7,1160.0 L1395.8,1160.6 L1396.4,1185.0 L1396.5,1188.4 L1397.2,1214.6 L1397.3,1218.0 L1398.0,1245.9 L1398.4,1263.0 L1398.8,1277.9 L1399.3,1300.0 L1399.5,1304.9 L1400.2,1321.7 L1400.3,1322.0 L1401.0,1331.1 L1401.3,1334.0 L1401.8,1338.0 L1402.5,1343.0 L1403.2,1345.8 L1404.0,1347.8 L1404.5,1348.5 L1404.8,1348.7 L1405.5,1349.3 L1406.2,1349.8 L1407.0,1350.1 L1407.8,1350.1 L1408.0,1350.0 L1408.5,1350.2 L1409.2,1351.3 L1410.0,1351.5 L1410.8,1350.7 L1411.5,1350.3 L1412.2,1350.3 L1413.0,1350.3 L1413.8,1350.5 L1414.5,1350.3 L1415.2,1349.9 L1416.0,1350.3 L1416.8,1351.3 L1417.5,1351.1 L1418.2,1350.3 L1419.0,1349.9 L1419.8,1349.7 L1420.5,1350.4 L1421.2,1351.5 L1422.0,1351.6 L1422.8,1351.4 L1423.5,1351.2 L1424.2,1351.0 L1425.0,1350.6 L1425.8,1350.1 L1426.5,1350.7 L1427.2,1351.4 L1428.0,1351.0 L1428.8,1350.5 L1429.5,1350.5 L1430.2,1350.6 L1431.0,1350.9 L1431.8,1351.3 L1432.5,1350.9 L1433.2,1350.5 L1434.0,1350.3 L1434.8,1350.0 L1435.5,1349.3 L1436.2,1348.7 L1437.0,1350.1 L1437.8,1351.2 L1438.5,1349.8 L1439.2,1348.7 L1440.0,1349.3 L1440.8,1349.7 L1441.5,1349.7 L1442.2,1349.6 L1443.0,1349.8 L1443.8,1349.9 L1444.5,1350.0 L1445.2,1350.1 L1446.0,1350.4 L1446.8,1350.6 L1447.5,1350.3 L1448.0,1350.0 L1448.2,1349.8 L1449.0,1349.1 L1449.8,1348.9 L1450.5,1349.8 L1451.2,1350.1 L1452.0,1349.7 L1452.8,1349.5 L1453.5,1349.9 L1454.2,1349.9 L1455.0,1349.6 L1455.8,1349.7 L1456.5,1350.2 L1457.2,1350.4 L1458.0,1350.4 L1458.8,1350.6 L1459.5,1351.1 L1460.2,1351.3 L1461.0,1351.2 L1461.8,1351.3 L1462.5,1351.5 L1463.2,1351.1 L1464.0,1350.2 L1464.8,1350.6 L1465.5,1351.8 L1466.2,1351.7 L1467.0,1351.0 L1467.8,1351.1 L1468.5,1351.5 L1469.2,1351.7 L1470.0,1351.9 L1470.8,1352.0 L1471.5,1352.1 L1472.2,1351.8 L1473.0,1351.5 L1473.8,1351.0 L1474.0,1350.9 L1474.5,1350.6 L1475.2,1351.3 L1476.0,1352.2 L1476.8,1352.5 L1477.5,1352.8 L1478.2,1352.8 L1479.0,1352.8 L1479.8,1352.8 L1480.5,1352.8 L1481.2,1353.1 L1482.0,1353.3 L1482.8,1353.1 L1483.5,1352.8 L1484.2,1352.3 L1485.0,1351.9 L1485.8,1352.4 L1486.5,1352.8 L1487.2,1352.0 L1488.0,1351.5 L1488.8,1351.9 L1489.5,1352.3 L1490.2,1352.4 L1491.0,1352.6 L1491.8,1353.0 L1492.5,1353.2 L1493.2,1352.7 L1494.0,1352.3 L1494.8,1352.4 L1495.5,1352.4 L1496.2,1352.2 L1497.0,1352.3 L1497.8,1352.7 L1498.5,1352.7 L1499.2,1351.8 L1500.0,1351.2 L1500.8,1351.0 L1501.0,1351.0 L1501.5,1351.6 L1502.2,1353.1 L1503.0,1353.8 L1503.8,1353.6 L1504.5,1353.4 L1505.2,1353.1 L1506.0,1352.8 L1506.8,1352.6 L1507.5,1352.3 L1508.2,1351.8 L1509.0,1351.3 L1509.8,1350.9 L1510.5,1351.1 L1511.2,1351.8 L1512.0,1351.5 L1512.8,1350.8 L1513.5,1351.0 L1514.2,1351.7 L1515.0,1351.6 L1515.8,1351.2 L1516.5,1350.5 L1517.2,1349.8 L1518.0,1350.0 L1518.8,1350.5 L1519.5,1349.9 L1520.2,1349.0 L1521.0,1349.1 L1521.8,1349.4 L1522.5,1349.9 L1523.2,1350.5 L1524.0,1349.9 L1524.8,1349.1 L1525.5,1349.2 L1526.0,1349.2 L1526.2,1349.3 L1527.0,1349.1 L1527.8,1348.9 L1528.5,1348.9 L1529.2,1348.8 L1530.0,1349.4 L1530.8,1349.9 L1531.5,1349.6 L1532.2,1349.4 L1533.0,1349.3 L1533.8,1349.2 L1534.5,1348.3 L1535.2,1347.6 L1536.0,1348.1 L1536.8,1348.4 L1537.5,1348.2 L1538.2,1348.0 L1539.0,1348.3 L1539.8,1348.4 L1540.5,1347.9 L1541.2,1347.7 L1542.0,1348.5 L1542.8,1349.1 L1543.5,1349.6 L1544.2,1349.6 L1545.0,1348.7 L1545.8,1348.0 L1546.5,1347.7 L1547.2,1347.7 L1548.0,1348.2 L1548.8,1348.0 L1549.5,1347.0 L1550.2,1346.6 L1551.0,1347.0 L1551.8,1347.5 L1552.5,1348.0 L1553.2,1348.0 L1554.0,1347.4 L1554.8,1347.2 L1555.5,1347.3 L1556.2,1347.7 L1557.0,1348.2 L1557.8,1348.1 L1558.5,1347.6 L1559.2,1347.5 L1560.0,1347.6 L1560.8,1347.2 L1561.5,1346.6 L1562.2,1347.3 L1563.0,1348.5 L1563.8,1348.1 L1564.5,1347.0 L1565.2,1347.0 L1566.0,1347.4 L1566.8,1347.3 L1567.5,1347.1 L1568.2,1347.1 L1569.0,1347.0 L1569.8,1346.6 L1570.0,1346.4 L1570.5,1346.1 L1571.2,1346.4 L1572.0,1346.9 L1572.8,1347.1 L1573.5,1347.3 L1574.2,1347.9 L1575.0,1348.5 L1575.8,1348.1 L1576.5,1347.8 L1577.2,1347.6 L1578.0,1347.5 L1578.8,1347.9 L1579.5,1348.3 L1580.2,1348.4 L1581.0,1348.5 L1581.8,1348.5 L1582.5,1348.6 L1583.2,1348.8 L1584.0,1349.2 L1584.8,1349.8 L1585.5,1350.2 L1586.2,1349.7 L1587.0,1349.1 L1587.8,1348.7 L1588.5,1348.4 L1589.2,1348.7 L1590.0,1349.0 L1590.8,1349.1 L1591.5,1349.1 L1592.2,1348.8 L1593.0,1348.8 L1593.8,1349.1 L1594.5,1349.3 L1595.2,1349.6 L1596.0,1349.2 L1596.8,1347.9 L1597.5,1347.3 L1598.2,1347.5 L1599.0,1347.6 L1599.8,1347.8 L1600.5,1347.8 L1601.2,1347.8 L1602.0,1347.4 L1602.6,1346.9 L1602.8,1346.7 L1603.5,1346.0 L1604.2,1345.2 L1605.0,1343.7 L1605.8,1342.0 L1606.5,1340.3 L1607.2,1338.9 L1607.9,1338.0 L1608.0,1337.9 L1608.8,1337.2 L1609.5,1336.5 L1610.2,1335.7 L1611.0,1335.5 L1611.8,1335.4 L1612.1,1335.4 L1612.5,1335.5 L1613.2,1336.3 L1614.0,1337.7 L1614.8,1339.4 L1615.5,1341.3 L1616.2,1342.9 L1617.0,1344.0 L1617.3,1344.3 L1617.8,1344.6 L1618.5,1344.9 L1619.2,1345.2 L1620.0,1346.0 L1620.8,1347.0 L1621.5,1347.5 L1622.2,1347.9 L1623.0,1347.3 L1623.7,1346.6 L1623.8,1346.6 L1624.5,1346.5 L1625.2,1346.5 L1626.0,1346.5 L1626.8,1346.6 L1627.5,1346.8 L1628.2,1346.9 L1629.0,1346.2 L1629.8,1345.7 L1630.5,1346.5 L1631.2,1347.0 L1632.0,1346.6 L1632.1,1346.5 L1632.8,1346.4 L1633.5,1346.8 L1634.2,1347.1 L1635.0,1347.0 L1635.8,1347.0 L1636.5,1347.4 L1637.2,1348.0 L1638.0,1349.0 L1638.8,1350.1 L1639.5,1351.2 L1640.2,1351.9 L1641.0,1352.0 L1641.8,1352.2 L1642.5,1352.8 L1643.2,1353.0 L1644.0,1352.5 L1644.7,1352.2 L1644.8,1352.2 L1645.5,1352.1 L1646.2,1352.0 L1647.0,1352.0 L1647.8,1351.8 L1648.5,1351.6 L1649.2,1350.9 L1650.0,1350.2 L1650.8,1349.5 L1651.5,1348.7 L1652.1,1348.1 L1652.2,1347.9 L1653.0,1346.5 L1653.8,1344.2 L1654.5,1341.1 L1655.2,1337.4 L1656.0,1333.2 L1656.3,1331.4 L1656.8,1327.8 L1657.5,1319.3 L1658.2,1311.5 L1658.4,1310.3 L1659.0,1306.1 L1659.8,1301.2 L1660.5,1297.7 L1661.1,1296.7 L1661.2,1296.8 L1662.0,1299.2 L1662.8,1303.8 L1663.5,1309.5 L1663.6,1310.3 L1664.2,1317.4 L1665.0,1328.4 L1665.8,1338.6 L1666.1,1341.9 L1666.5,1344.9 L1667.2,1349.9 L1668.0,1353.9 L1668.8,1356.3 L1668.9,1356.6 L1669.5,1357.4 L1670.2,1358.2 L1671.0,1358.9 L1671.8,1359.3 L1672.5,1359.6 L1673.1,1359.7 L1673.2,1359.6 L1674.0,1358.7 L1674.8,1356.8 L1675.5,1354.3 L1676.2,1351.7 L1677.0,1349.3 L1677.3,1348.4 L1677.8,1347.0 L1678.5,1344.5 L1679.2,1341.9 L1680.0,1339.7 L1680.8,1338.2 L1681.5,1337.7 L1682.2,1338.1 L1683.0,1339.5 L1683.8,1341.4 L1684.5,1343.5 L1685.2,1345.3 L1685.7,1346.1 L1686.0,1346.5 L1686.8,1347.7 L1687.5,1348.9 L1688.2,1350.1 L1689.0,1350.9 L1689.8,1351.5 L1689.9,1351.6 L1690.5,1351.7 L1691.2,1351.8 L1692.0,1351.7 L1692.8,1351.1 L1693.5,1350.9 L1694.2,1351.0 L1695.0,1350.9 L1695.8,1350.7 L1696.2,1350.6 L1696.5,1350.5 L1697.2,1350.6 L1698.0,1351.5 L1698.8,1353.0 L1699.5,1354.4 L1700.2,1355.6 L1701.0,1357.1 L1701.5,1358.1 L1701.8,1358.6 L1702.5,1360.1 L1703.2,1361.5 L1704.0,1362.8 L1704.8,1364.0 L1705.5,1365.2 L1706.2,1366.5 L1706.7,1367.1 L1707.0,1367.4 L1707.8,1368.1 L1708.5,1369.1 L1709.2,1370.2 L1710.0,1370.8 L1710.8,1371.4 L1711.5,1372.1 L1712.2,1372.6 L1713.0,1372.9 L1713.7,1373.0 L1713.8,1373.0 L1714.5,1372.1 L1715.2,1369.7 L1716.0,1366.3 L1716.8,1362.2 L1717.5,1357.5 L1718.2,1352.7 L1718.3,1352.4 L1719.0,1347.1 L1719.8,1339.8 L1720.5,1331.7 L1721.2,1323.5 L1721.5,1320.9 L1722.0,1316.4 L1722.8,1309.9 L1723.5,1299.3 L1724.2,1265.7 L1724.3,1263.1 L1725.0,1219.8 L1725.2,1209.3 L1725.8,1186.9 L1726.5,1162.0 L1727.0,1148.6 L1727.2,1139.5 L1728.0,1121.9 L1728.0,1121.8 L1728.5,1136.9 L1728.8,1146.4 L1729.5,1191.8 L1730.2,1220.0 L1730.9,1245.6 L1731.0,1251.0 L1731.7,1297.0 L1731.8,1299.6 L1732.5,1335.0 L1733.0,1352.4 L1733.2,1359.2 L1734.0,1377.1 L1734.8,1390.3 L1735.1,1394.5 L1735.5,1398.4 L1736.2,1404.8 L1737.0,1410.0 L1737.8,1413.7 L1738.3,1415.5 L1738.5,1416.0 L1739.2,1417.8 L1740.0,1419.4 L1740.8,1420.9 L1741.5,1422.2 L1742.2,1423.3 L1743.0,1423.9 L1743.8,1424.4 L1744.5,1424.6 L1744.6,1424.6 L1745.2,1424.4 L1746.0,1423.6 L1746.8,1422.1 L1747.5,1420.3 L1748.2,1418.6 L1749.0,1417.1 L1749.8,1415.7 L1749.9,1415.5 L1750.5,1414.5 L1751.2,1413.9 L1752.0,1413.5 L1752.8,1413.5 L1753.0,1413.6 L1753.5,1413.7 L1754.2,1414.2 L1755.0,1414.9 L1755.8,1415.5 L1756.2,1415.6 L1756.5,1415.4 L1757.2,1413.3 L1758.0,1409.7 L1758.8,1405.8 L1759.5,1402.6 L1760.2,1400.8 L1760.4,1400.8 L1761.0,1401.6 L1761.8,1404.9 L1762.5,1409.4 L1763.2,1414.1 L1763.5,1415.5 L1764.0,1418.7 L1764.8,1424.2 L1765.5,1427.8 L1765.6,1428.0 L1766.2,1428.9 L1767.0,1429.7 L1767.8,1430.4 L1768.5,1431.0 L1769.2,1431.8 L1770.0,1432.7 L1770.8,1432.5 L1770.9,1432.4 L1771.5,1432.2 L1772.2,1432.1 L1773.0,1432.1 L1773.8,1432.3 L1774.5,1432.4 L1775.2,1432.4 L1776.0,1432.4 L1776.8,1432.4 L1777.5,1432.4 L1778.2,1432.7 L1779.0,1432.9 L1779.3,1432.9 L1779.8,1432.9 L1780.5,1432.9 L1781.2,1432.9 L1782.0,1432.9 L1782.8,1432.8 L1783.5,1432.7 L1784.2,1432.7 L1785.0,1432.8 L1785.8,1433.0 L1786.5,1433.1 L1787.2,1433.1 L1788.0,1433.1 L1788.8,1433.2 L1789.5,1433.1 L1790.2,1433.0 L1791.0,1432.9 L1791.8,1432.8 L1792.5,1433.0 L1793.2,1433.2 L1794.0,1433.3 L1794.8,1433.4 L1795.5,1433.4 L1796.2,1433.4 L1797.0,1433.4 L1797.8,1433.4 L1798.5,1433.4 L1799.2,1433.4 L1800.0,1433.4 L1800.3,1433.5 L1800.8,1433.5 L1801.5,1433.5 L1802.2,1433.5 L1803.0,1433.7 L1803.8,1434.0 L1804.5,1434.1 L1805.2,1434.2 L1806.0,1434.1 L1806.8,1433.9 L1807.5,1434.2 L1808.2,1434.5 L1809.0,1434.4 L1809.8,1434.2 L1810.5,1434.4 L1810.9,1434.4 L1811.2,1434.5 L1812.0,1434.2 L1812.8,1433.8 L1813.5,1433.4 L1814.2,1433.0 L1815.0,1432.3 L1815.8,1431.7 L1816.0,1431.5 L1816.5,1431.1 L1817.2,1430.5 L1818.0,1429.9 L1818.8,1429.3 L1819.5,1428.6 L1820.2,1428.2 L1821.0,1428.0 L1821.8,1428.3 L1822.5,1429.0 L1823.2,1430.0 L1824.0,1431.0 L1824.8,1432.0 L1825.5,1432.8 L1826.0,1433.2 L1826.2,1433.4 L1827.0,1433.8 L1827.8,1434.2 L1828.5,1434.6 L1829.0,1434.8 L1829.2,1434.8 L1830.0,1435.1 L1830.8,1435.3 L1831.5,1435.6 L1832.2,1435.8 L1833.0,1436.0 L1833.8,1436.2 L1834.5,1436.3 L1835.2,1436.5 L1836.0,1436.6 L1836.8,1436.8 L1837.5,1437.0 L1838.2,1437.1 L1839.0,1437.1 L1839.8,1437.2 L1840.0,1437.2 L1840.5,1437.2 L1841.2,1437.2 L1842.0,1437.2 L1842.8,1437.2 L1843.0,1437.2 L1843.5,1437.2 L1844.2,1437.2 L1845.0,1437.2 L1845.8,1437.2 L1846.5,1437.2 L1847.2,1437.2 L1848.0,1437.2 L1848.8,1437.2 L1849.5,1437.1 L1850.2,1437.1 L1851.0,1437.1 L1851.8,1437.0 L1852.5,1436.9 L1853.2,1436.9 L1854.0,1437.0 L1854.8,1437.1 L1855.5,1437.2 L1856.2,1437.3 L1857.0,1437.5 L1857.8,1437.5 L1858.5,1437.5 L1859.2,1437.3 L1860.0,1437.2 L1860.8,1437.0 L1861.5,1436.9 L1862.2,1437.1 L1863.0,1437.2 L1863.8,1437.2 L1864.5,1437.2 L1865.2,1437.3 L1866.0,1437.4 L1866.8,1437.2 L1867.5,1437.1 L1868.2,1437.1 L1869.0,1437.1 L1869.8,1437.1 L1870.5,1437.1 L1871.2,1437.2 L1872.0,1437.2 L1872.8,1437.1 L1873.5,1437.0 L1874.2,1437.2 L1875.0,1437.2 L1875.8,1437.1 L1876.5,1437.1 L1877.2,1437.2 L1878.0,1437.2 L1878.8,1437.2 L1879.5,1437.1 L1880.2,1437.0 L1881.0,1436.9 L1881.8,1437.1 L1882.5,1437.2 L1883.2,1437.1 L1884.0,1437.0 L1884.8,1437.0 L1885.5,1437.0 L1886.2,1437.0 L1887.0,1437.0 L1887.8,1437.0 L1888.5,1437.0 L1889.2,1437.1 L1890.0,1437.1 L1890.8,1436.9 L1891.5,1436.9 L1892.2,1437.0 L1893.0,1437.1 L1893.8,1437.2 L1894.5,1437.2 L1895.2,1437.2 L1896.0,1437.3 L1896.8,1437.3 L1897.5,1437.3 L1898.2,1437.3 L1899.0,1437.3 L1899.8,1437.3 L1900.5,1437.3 L1901.2,1437.2 L1902.0,1437.1 L1902.8,1437.1 L1903.5,1437.0 L1904.2,1436.9 L1905.0,1437.0 L1905.8,1437.1 L1906.5,1437.1 L1907.2,1437.2 L1908.0,1437.2 L1908.8,1437.1 L1909.5,1437.1 L1910.2,1437.0 L1911.0,1437.2 L1911.8,1437.3 L1912.5,1437.4 L1913.2,1437.4 L1914.0,1437.3 L1914.8,1437.2 L1915.5,1437.3 L1916.2,1437.4 L1917.0,1437.3 L1917.8,1437.3 L1918.5,1437.1 L1919.2,1437.1 L1920.0,1437.1 L1920.8,1437.2 L1921.5,1437.1 L1922.2,1437.1 L1923.0,1437.3 L1923.8,1437.4 L1924.5,1437.4 L1925.2,1437.4 L1926.0,1437.3 L1926.8,1437.2 L1927.5,1437.2 L1928.2,1437.2 L1929.0,1437.2 L1929.8,1437.3 L1930.5,1437.3 L1931.2,1437.3 L1932.0,1437.3 L1932.8,1437.4 L1933.5,1437.4 L1934.0,1437.4 L1934.2,1437.4 L1935.0,1437.3 L1935.8,1437.2 L1936.5,1437.0 L1937.2,1437.0 L1938.0,1437.1 L1938.8,1437.1 L1939.5,1437.1 L1940.2,1437.0 L1941.0,1436.8 L1941.8,1436.7 L1942.5,1436.6 L1943.2,1436.6 L1944.0,1436.7 L1944.8,1436.5 L1945.5,1436.3 L1946.2,1436.2 L1947.0,1436.2 L1947.8,1436.2 L1948.5,1436.1 L1949.2,1436.0 L1950.0,1435.9 L1950.8,1435.8 L1951.5,1435.7 L1952.2,1435.9 L1953.0,1436.2 L1953.8,1436.0 L1954.5,1435.8 L1954.8,1435.8 L1955.2,1435.8 L1956.0,1435.8 L1956.8,1436.1 L1957.5,1436.5 L1958.2,1436.6 L1959.0,1436.7 L1959.8,1437.0 L1960.5,1437.3 L1961.2,1437.6 L1962.0,1437.8 L1962.8,1437.8 L1963.5,1437.8 L1964.2,1438.0 L1965.0,1438.1 L1965.8,1438.1 L1966.5,1438.1 L1967.2,1438.0 L1968.0,1437.9 L1968.8,1437.8 L1969.5,1437.9 L1970.2,1438.0 L1971.0,1438.1 L1971.8,1438.0 L1972.5,1438.0 L1973.2,1437.9 L1974.0,1437.8 L1974.8,1437.8 L1975.5,1437.8 L1976.2,1437.9 L1977.0,1437.9 L1977.8,1437.8 L1978.5,1437.9 L1979.2,1438.1 L1980.0,1438.2 L1980.8,1438.2 L1981.5,1438.1 L1982.2,1438.0 L1983.0,1437.9 L1983.8,1437.8 L1984.5,1437.7 L1985.2,1437.7 L1986.0,1437.7 L1986.8,1437.7 L1987.5,1437.8 L1988.2,1438.0 L1989.0,1438.0 L1989.8,1438.0 L1990.5,1437.8 L1991.2,1437.6 L1992.0,1437.6 L1992.8,1437.6 L1993.5,1437.7 L1994.2,1437.8 L1995.0,1437.7 L1995.8,1437.6 L1996.5,1437.6 L1997.2,1437.5 L1998.0,1437.6 L1998.8,1437.6 L1999.5,1437.7 L2000.2,1437.7 L2001.0,1437.6 L2001.8,1437.5 L2002.5,1437.7 L2003.2,1437.8 L2004.0,1437.6 L2004.8,1437.5 L2005.5,1437.4 L2006.2,1437.4 L2007.0,1437.3 L2007.8,1437.1 L2008.5,1437.2 L2009.2,1437.2 L2010.0,1437.3 L2010.8,1437.3 L2011.5,1437.3 L2012.2,1437.3 L2013.0,1437.2 L2013.8,1437.2 L2014.5,1437.4 L2015.2,1437.6 L2016.0,1437.5 L2016.8,1437.4 L2017.5,1437.3 L2018.2,1437.3 L2019.0,1437.3 L2019.8,1437.2 L2020.5,1437.2 L2021.2,1437.2 L2022.0,1437.0 L2022.8,1437.0 L2023.5,1437.1 L2024.2,1437.2 L2025.0,1437.1 L2025.8,1437.0 L2026.5,1437.0 L2027.2,1437.1 L2027.6,1437.2 L2028.0,1437.4 L2028.8,1437.5 L2029.5,1437.5 L2030.2,1437.7 L2031.0,1438.0 L2031.8,1438.3 L2032.5,1438.7 L2033.2,1439.0 L2034.0,1439.3 L2034.8,1439.6 L2035.5,1439.8 L2036.2,1440.2 L2037.0,1440.4 L2037.8,1440.4 L2038.0,1440.3 L2038.5,1440.2 L2039.2,1439.7 L2040.0,1438.9 L2040.8,1437.5 L2041.5,1435.3 L2042.2,1432.2 L2043.0,1428.2 L2043.8,1423.6 L2044.5,1419.0 L2045.2,1415.1 L2046.0,1412.6 L2046.6,1412.0 L2046.8,1412.1 L2047.5,1413.5 L2048.2,1416.7 L2049.0,1421.0 L2049.8,1425.7 L2050.5,1430.2 L2051.2,1433.9 L2052.0,1436.7 L2052.8,1438.7 L2053.5,1439.9 L2054.2,1440.7 L2055.0,1441.0 L2055.8,1441.2 L2056.2,1441.3 L2056.5,1441.3 L2057.2,1441.3 L2058.0,1441.3 L2058.8,1441.3 L2059.5,1441.3 L2060.2,1441.3 L2061.0,1441.3 L2061.8,1441.3 L2062.5,1441.4 L2063.2,1441.5 L2064.0,1441.6 L2064.8,1441.8 L2065.5,1441.8 L2066.2,1441.6 L2067.0,1441.5 L2067.8,1441.6 L2068.5,1441.6 L2069.2,1441.6 L2070.0,1441.6 L2070.8,1441.5 L2071.5,1441.5 L2072.2,1441.5 L2073.0,1441.6 L2073.8,1441.9 L2074.5,1441.9 L2075.2,1441.8 L2076.0,1441.7 L2076.8,1441.6 L2077.5,1441.6 L2078.2,1441.6 L2079.0,1441.7 L2079.6,1442.0 L2079.8,1442.0 L2080.5,1442.1 L2081.2,1442.0 L2082.0,1442.0 L2082.8,1442.1 L2083.5,1442.3 L2084.2,1442.6 L2085.0,1442.7 L2085.8,1442.8 L2086.5,1443.0 L2087.2,1443.1 L2088.0,1443.3 L2088.8,1443.5 L2089.5,1443.8 L2090.2,1444.1 L2091.0,1444.1 L2091.8,1444.1 L2092.5,1444.3 L2093.2,1444.4 L2093.9,1444.3 L2094.0,1444.3 L2094.8,1444.2 L2095.5,1443.8 L2096.2,1443.0 L2097.0,1441.9 L2097.8,1440.1 L2098.5,1437.6 L2099.2,1434.7 L2100.0,1431.5 L2100.8,1428.5 L2101.5,1426.2 L2102.2,1425.0 L2102.5,1425.0 L2103.0,1425.3 L2103.8,1427.0 L2104.5,1429.7 L2105.2,1433.0 L2106.0,1436.3 L2106.8,1439.2 L2107.5,1441.6 L2108.2,1443.3 L2109.0,1444.4 L2109.8,1445.1 L2110.5,1445.4 L2111.2,1445.6 L2112.0,1445.7 L2112.8,1445.7 L2113.5,1445.7 L2114.2,1445.7 L2115.0,1445.9 L2115.8,1445.9 L2116.5,1445.6 L2117.2,1445.4 L2118.0,1445.4 L2118.8,1445.4 L2119.5,1445.3 L2120.2,1445.3 L2121.0,1445.2 L2121.8,1445.3 L2122.5,1445.4 L2123.2,1445.4 L2124.0,1445.2 L2124.8,1445.1 L2125.5,1445.1 L2126.2,1445.1 L2127.0,1445.0 L2127.8,1445.0 L2128.5,1445.0 L2129.0,1445.0 L2129.2,1445.1 L2130.0,1445.2 L2130.8,1445.3 L2131.5,1445.2 L2132.2,1445.1 L2133.0,1444.9 L2133.8,1444.6 L2134.5,1444.2 L2135.2,1444.0 L2136.0,1443.7 L2136.8,1443.1 L2137.5,1442.4 L2138.2,1442.0 L2139.0,1441.8 L2139.4,1441.8 L2139.8,1441.9 L2140.5,1442.3 L2141.2,1442.9 L2142.0,1443.7 L2142.8,1444.4 L2143.5,1445.2 L2144.2,1445.6 L2145.0,1445.9 L2145.8,1446.4 L2146.5,1446.8 L2147.2,1447.0 L2148.0,1447.0 L2148.5,1447.1 L2148.8,1447.1 L2149.5,1447.2 L2150.2,1447.0 L2151.0,1446.9 L2151.8,1447.1 L2152.5,1447.1 L2153.2,1447.0 L2154.0,1446.9 L2154.8,1447.0 L2155.5,1447.1 L2156.2,1447.1 L2157.0,1447.1 L2157.8,1446.9 L2158.5,1446.7 L2159.2,1446.7 L2160.0,1446.6 L2160.8,1446.6 L2161.5,1446.5 L2162.2,1446.3 L2163.0,1446.2 L2163.8,1446.4 L2164.5,1446.4 L2165.2,1446.2 L2166.0,1446.1 L2166.8,1446.0 L2167.5,1446.0 L2168.0,1446.2 L2168.2,1446.2 L2169.0,1446.3 L2169.8,1446.4 L2170.5,1446.4 L2171.2,1446.3 L2172.0,1446.3 L2172.8,1446.3 L2173.5,1446.5 L2174.2,1446.8 L2175.0,1446.8 L2175.8,1446.7 L2176.5,1446.8 L2177.2,1447.1 L2178.0,1447.2 L2178.8,1447.2 L2179.5,1447.2 L2180.2,1447.3 L2181.0,1447.5 L2181.8,1447.7 L2182.5,1447.7 L2183.0,1447.7"/>
<path id="c-red" stroke="#FF4040" d="M186.0,1111.8 L186.8,1111.7 L187.5,1111.1 L188.2,1110.3 L189.0,1110.2 L189.8,1110.3 L190.5,1110.2 L191.2,1110.1 L192.0,1110.5 L192.8,1111.0 L193.5,1110.8 L194.2,1110.5 L195.0,1110.7 L195.8,1111.1 L196.5,1110.0 L197.2,1108.8 L198.0,1110.2 L198.8,1111.7 L199.5,1111.0 L200.2,1110.2 L201.0,1110.5 L201.8,1110.8 L202.5,1110.4 L203.2,1110.0 L204.0,1109.8 L204.8,1109.7 L205.5,1110.1 L206.2,1110.4 L207.0,1110.5 L207.8,1110.5 L208.5,1110.0 L209.2,1109.6 L210.0,1109.6 L210.8,1109.6 L211.5,1110.0 L212.2,1110.0 L213.0,1109.3 L213.8,1108.6 L214.5,1108.3 L215.2,1108.3 L216.0,1109.1 L216.8,1109.5 L216.8,1109.5 L217.5,1108.9 L218.2,1108.4 L219.0,1107.7 L219.8,1107.5 L220.5,1107.9 L221.2,1108.1 L222.0,1108.1 L222.8,1107.9 L223.5,1107.4 L224.2,1107.1 L225.0,1106.8 L225.8,1107.0 L226.5,1107.6 L227.2,1108.0 L228.0,1108.3 L228.8,1108.1 L229.5,1107.5 L230.2,1107.2 L231.0,1107.0 L231.8,1107.3 L232.5,1107.9 L233.2,1108.4 L234.0,1108.8 L234.8,1108.9 L235.5,1109.0 L236.2,1109.6 L237.0,1110.5 L237.8,1111.3 L238.5,1112.1 L239.2,1112.3 L240.0,1112.3 L240.8,1112.6 L241.5,1112.9 L242.2,1113.7 L243.0,1114.6 L243.8,1115.0 L244.5,1115.3 L245.2,1115.8 L245.4,1115.9 L246.0,1116.3 L246.8,1115.5 L247.5,1114.6 L248.2,1115.0 L249.0,1115.6 L249.8,1115.8 L250.5,1116.0 L251.2,1116.0 L252.0,1115.8 L252.8,1115.2 L253.0,1114.7 L253.5,1113.3 L254.2,1109.1 L255.0,1101.8 L255.8,1091.2 L256.5,1079.5 L257.2,1070.4 L257.9,1067.6 L258.0,1067.7 L258.8,1072.5 L259.5,1082.8 L260.2,1094.7 L261.0,1104.6 L261.8,1111.2 L262.5,1114.7 L263.2,1116.3 L263.6,1116.6 L264.0,1116.9 L264.8,1117.0 L265.5,1117.0 L266.2,1117.0 L267.0,1117.4 L267.8,1117.5 L268.5,1117.0 L269.2,1115.8 L270.0,1115.6 L270.8,1116.5 L271.5,1116.8 L272.2,1116.5 L273.0,1116.5 L273.8,1116.9 L274.5,1116.7 L275.2,1116.1 L276.0,1115.9 L276.8,1116.0 L277.5,1116.0 L278.2,1116.1 L279.0,1115.7 L279.8,1115.1 L280.5,1115.3 L281.2,1115.9 L282.0,1115.8 L282.8,1115.4 L283.5,1115.4 L284.2,1115.6 L285.0,1115.2 L285.8,1114.6 L286.5,1115.1 L287.2,1115.7 L288.0,1115.5 L288.8,1115.2 L289.5,1114.8 L290.2,1114.3 L291.0,1114.5 L291.8,1114.8 L292.5,1115.0 L293.2,1115.1 L294.0,1115.3 L294.8,1115.4 L295.5,1113.8 L296.2,1112.2 L297.0,1113.2 L297.8,1114.1 L298.5,1113.8 L299.2,1113.5 L300.0,1113.1 L300.8,1112.7 L301.5,1112.2 L302.2,1111.9 L303.0,1112.8 L303.8,1113.3 L304.5,1112.0 L305.2,1111.2 L306.0,1111.9 L306.8,1112.5 L307.5,1112.7 L308.2,1112.4 L309.0,1111.0 L309.8,1110.1 L310.5,1110.6 L311.2,1110.7 L312.0,1110.1 L312.8,1109.9 L313.5,1110.5 L314.2,1111.0 L315.0,1111.4 L315.8,1111.7 L316.5,1111.8 L317.2,1111.0 L318.0,1109.1 L318.8,1108.4 L319.5,1108.8 L320.2,1109.2 L321.0,1109.6 L321.8,1110.0 L322.5,1110.2 L323.2,1109.9 L324.0,1109.3 L324.8,1108.6 L325.5,1107.9 L326.0,1107.8 L326.2,1107.9 L327.0,1108.2 L327.8,1108.1 L328.5,1107.8 L329.2,1107.5 L330.0,1107.3 L330.8,1106.9 L331.5,1106.5 L332.2,1106.6 L333.0,1107.0 L333.8,1106.8 L334.5,1106.6 L335.2,1106.3 L336.0,1105.9 L336.8,1105.6 L337.5,1105.3 L338.2,1104.7 L339.0,1104.0 L339.8,1104.1 L340.5,1104.3 L341.2,1104.8 L342.0,1105.3 L342.8,1104.5 L343.5,1103.7 L344.2,1102.9 L345.0,1102.2 L345.8,1103.3 L346.5,1104.2 L347.2,1103.6 L348.0,1103.2 L348.8,1103.7 L349.5,1103.9 L350.2,1102.8 L351.0,1101.8 L351.8,1101.4 L352.5,1100.9 L353.2,1100.3 L354.0,1100.0 L354.8,1101.1 L355.5,1101.9 L356.2,1102.2 L357.0,1101.8 L357.8,1100.3 L358.5,1099.3 L359.2,1099.2 L360.0,1099.3 L360.8,1099.7 L361.5,1099.6 L362.2,1098.9 L362.4,1098.7 L363.0,1098.5 L363.8,1098.6 L364.5,1098.5 L365.2,1098.4 L366.0,1098.3 L366.8,1098.4 L367.5,1098.6 L368.2,1098.9 L369.0,1098.6 L369.8,1098.0 L370.5,1097.9 L371.2,1098.2 L372.0,1097.9 L372.8,1097.2 L373.5,1097.1 L374.2,1097.4 L375.0,1096.7 L375.8,1095.7 L376.5,1095.7 L376.7,1095.8 L377.2,1096.0 L378.0,1097.0 L378.8,1098.2 L379.5,1098.6 L380.2,1098.8 L381.0,1099.7 L381.8,1100.9 L382.5,1101.7 L383.2,1102.4 L384.0,1103.3 L384.8,1104.1 L385.5,1104.3 L385.8,1104.3 L386.2,1104.3 L387.0,1104.6 L387.8,1104.8 L388.5,1104.6 L389.2,1104.3 L390.0,1104.1 L390.8,1104.0 L391.5,1104.1 L392.2,1104.2 L393.0,1104.5 L393.8,1104.6 L394.5,1104.4 L395.2,1104.3 L396.0,1104.6 L396.8,1104.9 L397.5,1105.1 L398.2,1105.3 L398.8,1105.5 L399.0,1105.5 L399.8,1105.6 L400.5,1105.2 L401.2,1104.7 L402.0,1103.7 L402.8,1103.3 L403.5,1104.3 L404.2,1105.1 L405.0,1105.2 L405.8,1105.5 L406.5,1105.9 L407.2,1106.0 L408.0,1105.6 L408.8,1105.1 L409.5,1104.2 L410.2,1103.7 L411.0,1103.5 L411.8,1104.1 L412.5,1105.6 L413.2,1106.0 L414.0,1105.1 L414.8,1104.9 L415.5,1105.5 L416.2,1105.7 L417.0,1105.8 L417.8,1104.7 L418.5,1102.7 L419.2,1102.3 L420.0,1102.9 L420.8,1103.1 L421.5,1103.0 L422.2,1102.9 L423.0,1102.8 L423.8,1102.7 L424.5,1102.6 L425.2,1102.3 L426.0,1101.9 L426.8,1101.7 L427.5,1101.6 L428.2,1100.7 L429.0,1099.5 L429.8,1099.9 L430.0,1100.2 L430.5,1100.6 L431.2,1100.3 L432.0,1099.9 L432.8,1100.2 L433.5,1100.6 L434.2,1100.2 L435.0,1099.7 L435.8,1100.2 L436.5,1100.8 L437.2,1100.8 L438.0,1100.8 L438.8,1100.4 L439.5,1100.0 L440.2,1099.9 L441.0,1099.8 L441.8,1099.5 L442.5,1099.2 L443.2,1098.8 L444.0,1098.4 L444.8,1098.5 L445.5,1098.5 L446.2,1098.2 L447.0,1098.0 L447.8,1098.4 L448.5,1098.7 L449.2,1098.4 L450.0,1098.2 L450.8,1098.4 L451.5,1098.2 L452.2,1096.9 L453.0,1096.5 L453.8,1097.7 L454.5,1098.1 L455.2,1097.0 L456.0,1096.3 L456.8,1096.2 L457.5,1096.2 L458.2,1096.4 L459.0,1096.4 L459.8,1096.0 L460.5,1096.1 L461.2,1096.5 L462.0,1096.3 L462.8,1095.7 L463.5,1095.2 L464.2,1094.8 L465.0,1094.6 L465.8,1094.6 L466.5,1095.4 L467.2,1096.6 L468.0,1096.4 L468.8,1095.5 L469.5,1094.7 L470.2,1093.8 L471.0,1094.0 L471.8,1094.6 L472.5,1094.0 L473.2,1092.9 L474.0,1094.1 L474.8,1096.0 L475.5,1094.7 L476.2,1092.6 L477.0,1093.2 L477.8,1094.3 L478.5,1094.3 L479.2,1094.3 L480.0,1093.1 L480.8,1091.8 L481.5,1092.5 L482.0,1093.2 L482.2,1093.5 L483.0,1093.8 L483.8,1094.1 L484.5,1093.7 L485.2,1093.3 L486.0,1093.0 L486.8,1092.8 L487.5,1093.1 L488.2,1093.3 L489.0,1092.7 L489.8,1092.2 L490.5,1092.2 L491.2,1092.1 L492.0,1091.7 L492.8,1091.5 L493.5,1091.8 L494.2,1091.9 L495.0,1090.8 L495.8,1090.2 L496.5,1091.1 L497.2,1091.6 L498.0,1090.7 L498.8,1089.9 L499.5,1089.4 L500.2,1089.4 L501.0,1090.1 L501.8,1090.9 L502.5,1091.5 L503.2,1091.7 L504.0,1091.2 L504.8,1090.4 L505.5,1089.4 L506.2,1089.1 L507.0,1089.8 L507.8,1089.7 L508.5,1088.9 L509.2,1088.5 L510.0,1088.6 L510.8,1088.6 L511.5,1088.6 L512.2,1087.8 L513.0,1086.3 L513.8,1086.5 L514.5,1087.8 L515.2,1087.7 L516.0,1086.9 L516.8,1086.7 L517.5,1086.7 L518.2,1086.3 L519.0,1085.8 L519.8,1085.5 L520.5,1085.3 L521.2,1085.5 L522.0,1085.7 L522.8,1086.5 L523.5,1087.4 L524.2,1087.9 L525.0,1088.3 L525.8,1087.4 L526.5,1086.2 L527.2,1086.6 L528.0,1087.2 L528.8,1086.3 L529.5,1085.4 L530.2,1084.3 L531.0,1083.2 L531.8,1084.2 L532.5,1085.3 L533.2,1085.4 L534.0,1085.4 L534.8,1084.8 L535.5,1084.2 L536.2,1084.5 L537.0,1084.8 L537.8,1084.8 L538.5,1084.7 L539.2,1083.7 L540.0,1082.8 L540.8,1082.3 L541.5,1082.0 L542.2,1082.6 L543.0,1083.1 L543.8,1082.9 L544.5,1082.8 L545.2,1082.5 L546.0,1082.6 L546.8,1083.2 L547.5,1083.8 L548.2,1084.1 L549.0,1083.8 L549.8,1082.4 L550.5,1081.7 L551.2,1082.2 L552.0,1082.5 L552.8,1082.5 L553.5,1082.4 L554.2,1082.1 L555.0,1082.0 L555.8,1082.1 L556.5,1081.6 L557.2,1080.6 L558.0,1080.4 L558.8,1080.9 L559.5,1081.5 L560.2,1082.2 L561.0,1081.9 L561.8,1081.0 L562.5,1080.1 L563.2,1079.1 L564.0,1079.1 L564.8,1079.7 L565.5,1080.1 L566.2,1080.3 L567.0,1079.9 L567.8,1079.2 L568.5,1078.5 L569.2,1077.8 L570.0,1078.6 L570.8,1079.7 L571.5,1078.4 L572.2,1076.6 L573.0,1077.1 L573.8,1078.0 L574.5,1077.8 L575.2,1077.3 L576.0,1076.5 L576.8,1075.7 L577.5,1076.9 L578.2,1078.2 L579.0,1077.6 L579.8,1076.9 L580.5,1075.9 L581.2,1074.9 L582.0,1075.9 L582.8,1076.7 L583.5,1076.0 L584.2,1075.2 L585.0,1074.2 L585.8,1073.4 L586.0,1073.6 L586.5,1074.0 L587.2,1074.6 L588.0,1075.0 L588.8,1075.4 L589.5,1075.5 L590.2,1075.5 L591.0,1075.1 L591.8,1074.8 L592.5,1074.6 L593.2,1074.5 L594.0,1074.5 L594.8,1074.3 L595.5,1073.7 L596.2,1073.0 L597.0,1072.2 L597.8,1070.8 L598.5,1068.8 L599.2,1067.5 L599.8,1067.1 L600.0,1067.2 L600.8,1067.9 L601.5,1069.2 L602.2,1070.5 L603.0,1071.1 L603.8,1071.6 L604.5,1072.1 L605.2,1072.6 L606.0,1073.3 L606.8,1073.5 L606.8,1073.5 L607.5,1073.0 L608.2,1072.4 L609.0,1072.0 L609.8,1071.9 L610.5,1072.2 L611.2,1071.9 L612.0,1071.2 L612.8,1071.3 L613.5,1071.6 L614.2,1071.2 L615.0,1070.5 L615.8,1070.7 L616.5,1071.1 L617.2,1070.2 L618.0,1069.0 L618.8,1070.1 L619.5,1071.7 L620.2,1070.9 L621.0,1069.7 L621.8,1068.8 L622.5,1068.1 L623.2,1068.6 L624.0,1069.3 L624.8,1069.1 L625.5,1068.9 L626.2,1069.1 L627.0,1069.3 L627.8,1068.4 L628.5,1067.5 L629.2,1068.3 L630.0,1069.1 L630.8,1070.1 L631.5,1070.7 L632.2,1068.5 L633.0,1066.7 L633.8,1067.5 L634.5,1068.1 L635.2,1067.6 L636.0,1067.2 L636.8,1067.4 L637.5,1067.2 L638.0,1066.4 L638.2,1065.9 L639.0,1065.0 L639.8,1065.2 L640.5,1065.7 L641.2,1066.5 L642.0,1067.0 L642.8,1066.5 L643.5,1066.5 L644.2,1067.4 L645.0,1067.4 L645.8,1065.8 L646.5,1065.0 L647.2,1065.4 L648.0,1066.1 L648.8,1067.2 L649.5,1066.9 L650.2,1065.0 L651.0,1063.9 L651.8,1063.6 L652.5,1063.7 L653.2,1064.1 L654.0,1064.2 L654.8,1064.1 L655.5,1064.2 L656.2,1064.6 L657.0,1064.4 L657.8,1063.9 L658.5,1063.2 L659.2,1062.5 L660.0,1062.6 L660.8,1063.1 L661.5,1064.0 L662.2,1065.1 L663.0,1064.8 L663.8,1064.1 L664.5,1062.3 L665.2,1060.0 L666.0,1060.5 L666.8,1061.6 L667.5,1061.4 L668.2,1060.8 L669.0,1061.4 L669.8,1062.2 L670.5,1061.8 L671.2,1061.2 L672.0,1062.2 L672.8,1063.4 L673.5,1062.8 L674.2,1062.1 L675.0,1062.0 L675.8,1061.9 L676.5,1061.4 L677.0,1061.0 L677.2,1060.9 L678.0,1060.7 L678.8,1060.5 L679.5,1060.7 L680.2,1060.9 L681.0,1061.5 L681.8,1061.8 L682.5,1061.3 L683.2,1060.8 L684.0,1060.2 L684.8,1060.0 L685.5,1061.0 L686.2,1061.5 L687.0,1060.8 L687.8,1060.2 L688.5,1060.0 L689.2,1059.7 L690.0,1059.3 L690.8,1059.0 L691.5,1059.0 L692.2,1059.1 L693.0,1059.0 L693.8,1058.5 L694.5,1057.7 L695.0,1057.4 L695.2,1057.9 L696.0,1059.3 L696.8,1059.6 L697.5,1058.9 L698.2,1058.0 L699.0,1057.0 L699.8,1056.4 L700.5,1056.3 L701.2,1055.7 L702.0,1054.7 L702.8,1053.9 L703.5,1053.3 L704.2,1052.0 L705.0,1050.3 L705.8,1050.2 L706.5,1051.2 L707.2,1051.8 L708.0,1052.5 L708.8,1053.4 L709.5,1054.5 L710.2,1055.4 L711.0,1056.3 L711.8,1057.1 L712.5,1057.7 L713.2,1057.6 L714.0,1057.2 L714.8,1057.3 L715.5,1057.5 L715.6,1057.5 L716.2,1059.1 L717.0,1061.0 L717.8,1061.6 L718.5,1062.0 L719.2,1063.1 L720.0,1064.2 L720.8,1064.2 L721.5,1064.1 L722.2,1064.6 L723.0,1064.9 L723.4,1064.4 L723.8,1064.0 L724.5,1063.0 L725.2,1064.0 L726.0,1064.6 L726.8,1063.9 L727.5,1063.2 L728.2,1063.1 L729.0,1062.7 L729.8,1062.2 L730.5,1061.6 L731.2,1060.8 L731.2,1060.8 L732.0,1059.4 L732.8,1057.4 L733.5,1054.9 L734.2,1052.3 L735.0,1050.0 L735.8,1047.9 L736.5,1045.5 L737.2,1043.3 L738.0,1041.7 L738.5,1041.3 L738.8,1041.3 L739.5,1042.3 L740.2,1044.2 L741.0,1046.7 L741.8,1049.5 L742.0,1050.4 L742.5,1052.1 L743.2,1055.0 L744.0,1057.7 L744.2,1058.3 L744.8,1059.6 L745.5,1061.1 L746.2,1062.4 L747.0,1063.4 L747.8,1064.3 L748.5,1065.1 L749.2,1065.9 L750.0,1067.0 L750.8,1068.2 L751.5,1069.3 L752.0,1070.0 L752.2,1070.4 L753.0,1071.7 L753.8,1073.0 L754.5,1073.9 L755.2,1074.5 L756.0,1075.7 L756.8,1077.0 L757.5,1078.2 L758.2,1079.2 L759.0,1080.3 L759.8,1081.4 L759.8,1081.4 L760.5,1080.5 L761.2,1079.0 L762.0,1079.8 L762.8,1081.3 L763.5,1081.1 L764.2,1080.7 L765.0,1081.2 L765.8,1081.9 L766.5,1081.5 L767.2,1081.0 L768.0,1081.5 L768.8,1082.0 L768.9,1082.2 L769.5,1082.8 L770.2,1083.4 L771.0,1082.7 L771.8,1082.0 L772.5,1082.0 L773.2,1082.0 L774.0,1081.9 L774.8,1081.7 L775.5,1081.0 L776.2,1080.4 L777.0,1081.1 L777.8,1081.6 L778.5,1081.1 L779.2,1080.5 L780.0,1080.0 L780.8,1079.8 L781.5,1080.1 L782.2,1080.3 L783.0,1080.1 L783.8,1080.1 L784.5,1080.5 L785.2,1080.6 L786.0,1080.0 L786.8,1079.5 L787.5,1079.0 L788.2,1079.2 L789.0,1080.2 L789.8,1080.7 L790.5,1080.2 L791.2,1080.0 L792.0,1080.0 L792.8,1079.8 L793.5,1079.2 L794.2,1078.7 L795.0,1078.1 L795.8,1077.6 L796.5,1077.3 L797.2,1077.1 L798.0,1077.1 L798.8,1077.4 L799.5,1078.0 L800.2,1077.8 L801.0,1077.2 L801.8,1076.3 L802.5,1075.2 L803.2,1075.4 L804.0,1076.1 L804.8,1075.6 L805.5,1074.7 L806.2,1075.1 L807.0,1075.9 L807.8,1075.4 L808.5,1074.4 L809.2,1074.1 L810.0,1074.0 L810.8,1074.6 L811.5,1075.3 L812.2,1075.1 L813.0,1074.9 L813.8,1073.9 L814.5,1072.8 L815.2,1074.0 L816.0,1075.4 L816.8,1076.1 L817.5,1076.8 L818.2,1074.5 L819.0,1072.3 L819.8,1074.2 L820.5,1075.8 L821.2,1074.2 L822.0,1072.7 L822.8,1072.7 L823.5,1072.7 L824.2,1072.8 L825.0,1072.7 L825.8,1071.8 L826.5,1071.4 L827.2,1072.9 L828.0,1074.0 L828.8,1073.4 L829.5,1072.7 L830.2,1071.8 L831.0,1071.2 L831.8,1071.4 L832.5,1071.2 L833.2,1070.4 L834.0,1070.0 L834.8,1070.6 L835.5,1071.2 L836.2,1071.9 L837.0,1071.5 L837.8,1069.8 L838.5,1069.1 L839.2,1069.8 L840.0,1070.2 L840.8,1070.5 L841.5,1070.8 L842.2,1071.2 L843.0,1071.5 L843.8,1071.5 L844.5,1070.9 L845.2,1069.6 L846.0,1069.0 L846.8,1068.7 L847.5,1069.0 L848.2,1069.6 L849.0,1069.4 L849.8,1068.8 L850.5,1068.5 L851.2,1068.4 L852.0,1068.9 L852.8,1069.7 L853.5,1070.0 L854.2,1070.3 L855.0,1069.6 L855.8,1068.6 L856.0,1068.4 L856.5,1068.1 L857.2,1067.7 L858.0,1068.0 L858.8,1068.3 L859.5,1066.9 L860.2,1065.3 L861.0,1066.1 L861.8,1067.2 L862.5,1066.5 L863.2,1065.8 L864.0,1067.6 L864.8,1069.4 L865.5,1068.4 L866.2,1067.4 L867.0,1067.0 L867.8,1066.5 L868.5,1066.2 L869.2,1065.8 L870.0,1064.4 L870.8,1063.5 L871.5,1065.2 L872.2,1066.6 L873.0,1067.1 L873.8,1067.1 L874.5,1065.6 L875.2,1064.6 L876.0,1065.3 L876.8,1065.9 L877.5,1065.8 L878.2,1065.3 L879.0,1063.8 L879.8,1063.2 L880.5,1064.6 L881.2,1065.6 L882.0,1065.7 L882.8,1065.5 L883.5,1064.7 L884.2,1064.2 L885.0,1063.9 L885.8,1063.9 L886.5,1064.3 L887.2,1063.8 L888.0,1062.3 L888.8,1062.0 L889.5,1062.9 L890.2,1063.5 L891.0,1064.0 L891.8,1063.4 L892.5,1061.9 L893.2,1062.0 L894.0,1063.3 L894.8,1063.2 L895.5,1062.2 L896.2,1061.1 L897.0,1060.0 L897.8,1060.5 L898.5,1061.6 L899.2,1061.4 L900.0,1060.8 L900.8,1061.1 L901.5,1061.8 L902.2,1061.2 L903.0,1060.2 L903.8,1061.0 L904.5,1062.3 L905.2,1061.5 L906.0,1060.3 L906.8,1060.7 L907.5,1061.2 L908.0,1060.9 L908.2,1060.7 L909.0,1060.0 L909.8,1060.0 L910.5,1060.1 L911.2,1060.9 L912.0,1061.7 L912.8,1061.1 L913.5,1060.4 L914.2,1059.9 L915.0,1059.5 L915.8,1058.9 L916.5,1058.5 L917.2,1059.9 L918.0,1061.0 L918.8,1060.7 L919.5,1060.3 L920.2,1059.6 L921.0,1059.0 L921.8,1059.3 L922.5,1059.3 L923.2,1058.5 L924.0,1057.8 L924.8,1057.8 L925.5,1057.7 L926.2,1057.8 L927.0,1058.0 L927.8,1058.6 L928.5,1059.0 L929.2,1058.9 L930.0,1058.6 L930.8,1057.9 L931.5,1057.8 L932.2,1058.6 L933.0,1059.1 L933.8,1059.0 L934.5,1058.8 L935.2,1058.3 L936.0,1058.3 L936.8,1058.8 L937.5,1058.5 L938.2,1057.7 L939.0,1057.3 L939.8,1057.3 L940.5,1057.5 L941.2,1057.8 L942.0,1057.6 L942.8,1057.3 L943.5,1057.4 L944.2,1057.8 L945.0,1057.0 L945.8,1055.7 L946.5,1056.5 L947.2,1058.0 L948.0,1057.3 L948.8,1055.9 L949.5,1055.8 L950.2,1056.1 L951.0,1055.5 L951.8,1054.6 L952.5,1055.5 L953.2,1056.6 L954.0,1057.0 L954.8,1057.3 L955.5,1057.1 L956.2,1056.9 L957.0,1056.7 L957.8,1056.4 L958.5,1054.9 L959.2,1053.3 L960.0,1053.7 L960.8,1054.1 L961.5,1054.1 L962.2,1054.2 L963.0,1053.8 L963.8,1053.5 L964.5,1054.6 L965.2,1055.5 L966.0,1054.8 L966.8,1054.2 L967.5,1053.9 L968.2,1053.8 L969.0,1053.9 L969.8,1053.8 L970.5,1052.8 L971.2,1052.0 L972.0,1051.9 L972.8,1051.8 L973.5,1051.6 L974.2,1051.7 L975.0,1052.4 L975.8,1052.8 L976.5,1052.5 L977.2,1052.3 L978.0,1052.3 L978.8,1052.4 L979.5,1052.5 L980.2,1051.9 L981.0,1050.2 L981.8,1049.5 L982.5,1049.8 L983.2,1050.1 L984.0,1050.3 L984.8,1049.9 L985.5,1048.8 L986.2,1048.5 L987.0,1048.9 L987.8,1049.4 L988.5,1050.2 L989.2,1050.4 L990.0,1050.3 L990.8,1050.1 L991.5,1049.9 L992.2,1049.3 L993.0,1048.6 L993.8,1048.1 L994.5,1047.8 L995.2,1048.2 L996.0,1048.8 L996.8,1048.1 L997.5,1047.1 L998.2,1047.1 L999.0,1047.4 L999.8,1047.8 L1000.5,1048.2 L1001.2,1047.3 L1002.0,1046.1 L1002.8,1045.7 L1003.5,1045.4 L1004.2,1045.6 L1005.0,1045.8 L1005.8,1046.1 L1006.5,1046.3 L1007.2,1046.1 L1008.0,1045.9 L1008.8,1045.6 L1009.5,1045.3 L1010.2,1045.4 L1011.0,1045.4 L1011.8,1044.0 L1012.0,1043.5 L1012.5,1042.8 L1013.2,1043.1 L1014.0,1043.5 L1014.8,1044.0 L1015.5,1044.3 L1016.2,1043.6 L1017.0,1042.9 L1017.8,1042.6 L1018.5,1042.4 L1019.2,1042.4 L1020.0,1042.4 L1020.8,1042.5 L1021.5,1042.7 L1022.2,1043.1 L1023.0,1043.2 L1023.8,1042.6 L1024.5,1042.5 L1025.2,1043.2 L1026.0,1044.0 L1026.8,1044.8 L1027.5,1044.8 L1028.2,1043.6 L1029.0,1043.4 L1029.8,1044.2 L1030.5,1044.2 L1031.2,1043.6 L1032.0,1042.8 L1032.8,1041.9 L1033.5,1041.7 L1034.2,1042.1 L1035.0,1042.0 L1035.8,1041.5 L1036.5,1041.9 L1037.2,1042.9 L1038.0,1042.4 L1038.8,1041.1 L1039.5,1041.7 L1040.2,1043.0 L1041.0,1043.0 L1041.8,1042.4 L1042.5,1041.0 L1043.2,1039.5 L1044.0,1040.3 L1044.8,1041.5 L1045.5,1041.9 L1045.8,1042.0 L1046.2,1042.0 L1047.0,1040.7 L1047.8,1039.0 L1048.5,1038.9 L1049.2,1038.9 L1050.0,1037.0 L1050.8,1034.9 L1051.5,1035.0 L1052.2,1035.4 L1053.0,1034.3 L1053.6,1033.4 L1053.8,1033.3 L1054.5,1034.4 L1055.2,1035.8 L1056.0,1035.1 L1056.8,1034.5 L1057.5,1034.9 L1058.2,1035.5 L1059.0,1037.4 L1059.8,1039.2 L1060.5,1040.5 L1061.2,1041.2 L1061.4,1040.9 L1062.0,1039.8 L1062.8,1038.7 L1063.5,1039.5 L1064.2,1040.0 L1065.0,1039.6 L1065.8,1039.2 L1066.5,1038.9 L1067.2,1038.8 L1068.0,1039.3 L1068.8,1039.9 L1069.5,1040.5 L1070.2,1040.2 L1071.0,1038.4 L1071.8,1037.7 L1072.5,1038.7 L1073.2,1039.2 L1074.0,1039.0 L1074.4,1038.9 L1074.8,1038.4 L1075.5,1037.3 L1076.2,1037.3 L1077.0,1038.9 L1077.8,1039.6 L1078.5,1039.5 L1079.2,1038.4 L1080.0,1036.4 L1080.8,1036.1 L1081.5,1037.2 L1082.2,1036.9 L1083.0,1035.6 L1083.8,1034.7 L1084.5,1034.2 L1085.2,1034.4 L1086.0,1035.0 L1086.8,1034.5 L1087.5,1033.4 L1088.2,1033.0 L1089.0,1032.8 L1089.8,1033.1 L1090.0,1033.3 L1090.5,1033.7 L1091.2,1033.6 L1092.0,1033.3 L1092.8,1033.0 L1093.5,1032.6 L1094.2,1031.3 L1095.0,1029.8 L1095.8,1029.4 L1096.5,1029.2 L1097.2,1030.5 L1098.0,1032.1 L1098.8,1030.9 L1099.5,1029.6 L1100.2,1030.1 L1101.0,1030.6 L1101.8,1029.8 L1102.5,1029.0 L1103.2,1029.5 L1104.0,1029.9 L1104.8,1029.1 L1105.5,1028.6 L1106.2,1030.3 L1107.0,1031.6 L1107.8,1029.9 L1108.5,1028.5 L1109.2,1029.0 L1110.0,1029.3 L1110.8,1029.2 L1111.5,1029.3 L1112.2,1030.0 L1113.0,1030.2 L1113.8,1028.5 L1114.5,1027.5 L1115.2,1028.3 L1116.0,1028.7 L1116.8,1028.5 L1117.5,1028.5 L1118.2,1028.9 L1119.0,1029.1 L1119.8,1028.9 L1120.5,1028.6 L1121.2,1027.9 L1122.0,1027.7 L1122.8,1028.0 L1123.5,1028.0 L1124.2,1027.6 L1125.0,1027.5 L1125.8,1027.9 L1126.5,1027.9 L1127.2,1027.5 L1128.0,1027.1 L1128.8,1026.6 L1129.5,1026.6 L1130.2,1026.9 L1131.0,1027.1 L1131.8,1027.3 L1132.5,1028.0 L1133.2,1029.0 L1134.0,1028.2 L1134.8,1026.5 L1135.5,1026.2 L1136.2,1026.6 L1137.0,1027.2 L1137.8,1027.8 L1138.5,1026.2 L1139.2,1024.0 L1140.0,1023.6 L1140.8,1023.7 L1141.5,1024.0 L1142.0,1024.1 L1142.2,1024.2 L1143.0,1024.7 L1143.8,1025.3 L1144.5,1026.5 L1145.2,1027.8 L1146.0,1026.8 L1146.8,1025.6 L1147.5,1025.9 L1148.2,1026.3 L1149.0,1025.4 L1149.8,1024.4 L1150.5,1023.1 L1151.2,1021.9 L1152.0,1021.8 L1152.8,1021.8 L1153.5,1023.7 L1154.2,1025.3 L1155.0,1024.7 L1155.8,1024.0 L1156.5,1023.0 L1157.2,1022.4 L1158.0,1023.8 L1158.8,1024.5 L1159.5,1022.8 L1160.2,1021.8 L1161.0,1023.4 L1161.8,1024.5 L1162.5,1024.6 L1163.2,1024.2 L1164.0,1022.8 L1164.8,1021.7 L1165.5,1021.4 L1166.2,1021.6 L1167.0,1022.7 L1167.8,1022.8 L1168.5,1021.6 L1169.2,1021.3 L1170.0,1022.4 L1170.8,1022.3 L1171.5,1021.0 L1172.2,1020.8 L1173.0,1021.9 L1173.8,1022.2 L1174.5,1021.7 L1175.2,1021.2 L1176.0,1020.8 L1176.8,1020.4 L1177.5,1020.0 L1178.2,1020.2 L1179.0,1020.8 L1179.8,1020.1 L1180.5,1018.7 L1181.0,1018.6 L1181.2,1018.9 L1182.0,1019.7 L1182.8,1019.9 L1183.5,1019.7 L1184.2,1020.1 L1185.0,1020.7 L1185.8,1019.8 L1186.5,1018.6 L1187.2,1019.7 L1188.0,1021.4 L1188.8,1020.6 L1189.5,1019.3 L1190.2,1018.6 L1191.0,1018.0 L1191.8,1019.2 L1192.5,1020.7 L1193.2,1020.9 L1194.0,1020.9 L1194.8,1019.8 L1195.5,1018.6 L1196.2,1018.1 L1197.0,1017.5 L1197.8,1018.0 L1198.5,1018.4 L1199.2,1017.9 L1200.0,1017.4 L1200.8,1017.5 L1201.5,1017.7 L1202.2,1018.8 L1203.0,1019.5 L1203.8,1018.7 L1204.5,1018.0 L1205.2,1017.7 L1206.0,1017.5 L1206.8,1017.5 L1207.0,1017.5 L1207.5,1017.4 L1208.2,1017.0 L1209.0,1016.8 L1209.8,1017.2 L1210.5,1017.4 L1211.2,1017.3 L1212.0,1016.9 L1212.8,1015.9 L1213.5,1015.4 L1214.2,1015.5 L1215.0,1015.9 L1215.8,1017.0 L1216.5,1017.0 L1217.2,1015.8 L1218.0,1014.8 L1218.8,1014.2 L1219.5,1014.4 L1220.2,1015.5 L1221.0,1015.3 L1221.8,1013.8 L1222.5,1012.7 L1223.2,1011.7 L1224.0,1011.8 L1224.8,1012.5 L1225.5,1012.1 L1226.2,1010.9 L1227.0,1010.5 L1227.8,1010.3 L1227.8,1010.3 L1228.5,1010.3 L1229.2,1010.2 L1230.0,1009.5 L1230.8,1008.6 L1231.5,1007.7 L1232.2,1006.8 L1233.0,1006.4 L1233.8,1006.2 L1234.3,1006.1 L1234.5,1006.1 L1235.2,1006.3 L1236.0,1007.5 L1236.8,1009.0 L1237.5,1009.0 L1238.2,1008.7 L1239.0,1009.2 L1239.8,1009.7 L1240.5,1011.2 L1240.8,1011.8 L1241.2,1012.6 L1242.0,1011.4 L1242.8,1010.0 L1243.5,1011.0 L1244.2,1012.1 L1245.0,1011.9 L1245.8,1011.7 L1246.5,1010.6 L1247.2,1009.6 L1248.0,1008.7 L1248.8,1007.9 L1249.5,1008.8 L1250.2,1009.6 L1251.0,1009.5 L1251.8,1009.4 L1252.5,1009.4 L1253.2,1009.2 L1254.0,1008.4 L1254.8,1007.9 L1255.5,1008.3 L1256.2,1008.6 L1257.0,1008.4 L1257.8,1007.8 L1258.5,1006.1 L1259.2,1005.3 L1260.0,1006.6 L1260.8,1007.0 L1261.5,1006.0 L1262.2,1005.2 L1263.0,1004.5 L1263.8,1004.1 L1264.5,1004.0 L1265.2,1004.5 L1266.0,1005.6 L1266.8,1005.9 L1267.5,1005.2 L1268.2,1003.9 L1269.0,1002.1 L1269.8,1001.7 L1270.5,1002.6 L1271.2,1002.9 L1272.0,1002.6 L1272.8,1002.3 L1273.5,1002.1 L1274.2,1001.8 L1275.0,1001.4 L1275.8,1000.8 L1276.5,1000.1 L1277.2,1000.7 L1278.0,1001.9 L1278.8,1001.3 L1279.5,1000.1 L1280.2,999.9 L1281.0,1000.1 L1281.8,999.9 L1282.5,999.6 L1283.2,999.3 L1284.0,999.1 L1284.8,999.7 L1285.5,1000.4 L1286.2,1000.2 L1287.0,999.8 L1287.8,999.1 L1288.5,998.3 L1289.2,997.9 L1290.0,997.6 L1290.8,997.8 L1291.5,997.9 L1292.0,998.4 L1292.2,998.7 L1293.0,999.4 L1293.8,998.7 L1294.5,998.1 L1295.2,998.0 L1296.0,997.9 L1296.8,997.4 L1297.5,997.0 L1298.2,996.9 L1299.0,996.8 L1299.8,997.0 L1300.5,996.8 L1301.2,995.4 L1302.0,994.8 L1302.8,996.7 L1303.5,997.8 L1304.2,996.2 L1305.0,995.0 L1305.8,995.0 L1306.5,995.3 L1307.2,996.3 L1308.0,996.7 L1308.8,995.9 L1309.5,995.3 L1310.2,995.1 L1311.0,994.7 L1311.8,994.2 L1312.5,993.6 L1313.2,992.9 L1314.0,993.0 L1314.8,993.9 L1315.5,994.7 L1316.2,995.2 L1317.0,994.7 L1317.8,993.3 L1318.5,993.5 L1319.2,994.8 L1320.0,994.3 L1320.8,992.8 L1321.5,992.3 L1322.2,992.5 L1323.0,993.0 L1323.8,993.7 L1324.5,993.7 L1325.2,993.3 L1326.0,993.5 L1326.8,993.9 L1327.5,993.4 L1328.0,992.8 L1328.2,992.6 L1329.0,992.4 L1329.8,992.4 L1330.5,992.3 L1331.2,992.3 L1332.0,992.9 L1332.8,993.8 L1333.5,994.4 L1334.2,994.9 L1335.0,995.2 L1335.8,995.5 L1336.5,996.7 L1337.2,997.9 L1338.0,997.6 L1338.8,997.2 L1338.8,997.1 L1339.5,996.4 L1340.2,995.7 L1341.0,998.1 L1341.8,1000.3 L1342.5,998.4 L1343.2,996.7 L1344.0,996.3 L1344.8,996.2 L1345.5,997.6 L1346.2,998.7 L1347.0,998.6 L1347.8,998.1 L1348.5,996.6 L1349.2,995.3 L1350.0,995.0 L1350.8,994.7 L1351.5,995.1 L1352.2,995.4 L1353.0,996.0 L1353.8,996.0 L1354.4,995.4 L1354.5,995.3 L1355.2,994.5 L1356.0,993.4 L1356.8,992.0 L1357.5,990.6 L1358.2,988.9 L1359.0,987.2 L1359.8,985.1 L1360.5,982.5 L1361.2,980.5 L1362.0,979.0 L1362.8,977.6 L1363.5,976.3 L1364.2,976.0 L1364.8,976.3 L1365.0,976.4 L1365.8,977.2 L1366.5,978.4 L1367.2,980.1 L1368.0,982.2 L1368.8,984.7 L1369.5,987.3 L1370.2,990.2 L1371.0,993.1 L1371.8,995.6 L1372.5,997.7 L1372.6,997.9 L1373.2,1000.0 L1374.0,1002.6 L1374.8,1004.9 L1375.5,1007.0 L1376.2,1009.2 L1377.0,1011.6 L1377.8,1014.0 L1378.5,1016.3 L1379.2,1018.5 L1380.0,1020.6 L1380.4,1021.7 L1380.8,1022.7 L1381.5,1025.0 L1382.2,1027.2 L1383.0,1029.4 L1383.8,1031.5 L1384.5,1033.6 L1385.2,1035.4 L1386.0,1037.0 L1386.8,1039.0 L1387.5,1040.3 L1388.2,1041.4 L1389.0,1042.0 L1389.7,1042.2 L1389.8,1042.2 L1390.5,1039.1 L1391.2,1032.5 L1391.5,1030.0 L1392.0,1022.2 L1392.8,1006.0 L1392.8,1005.0 L1393.5,991.5 L1394.0,980.0 L1394.2,972.2 L1395.0,942.6 L1395.2,937.0 L1395.8,915.0 L1396.1,905.0 L1396.5,896.5 L1397.1,884.0 L1397.2,880.3 L1398.0,847.9 L1398.1,845.0 L1398.7,820.0 L1398.8,818.8 L1399.2,811.8 L1399.5,817.0 L1399.6,820.0 L1400.0,873.0 L1400.2,899.0 L1400.9,956.0 L1401.0,959.8 L1401.8,997.1 L1401.8,997.5 L1402.5,1028.0 L1402.6,1030.0 L1403.2,1038.3 L1404.0,1043.0 L1404.8,1044.9 L1405.5,1046.3 L1406.2,1047.2 L1406.9,1047.6 L1407.0,1047.6 L1407.8,1048.0 L1408.5,1048.2 L1409.2,1048.1 L1410.0,1047.8 L1410.8,1047.6 L1411.5,1048.0 L1412.2,1048.8 L1413.0,1049.6 L1413.8,1050.2 L1414.5,1050.4 L1415.2,1050.3 L1416.0,1050.2 L1416.8,1050.2 L1417.5,1050.3 L1418.2,1050.4 L1419.0,1051.1 L1419.8,1052.2 L1420.5,1051.8 L1421.2,1050.8 L1422.0,1051.0 L1422.8,1051.7 L1423.5,1052.4 L1424.2,1053.2 L1425.0,1052.7 L1425.8,1051.9 L1426.5,1052.1 L1427.2,1052.6 L1428.0,1053.3 L1428.8,1054.0 L1429.5,1054.6 L1430.2,1055.2 L1431.0,1054.6 L1431.8,1053.9 L1432.4,1053.9 L1432.5,1053.9 L1433.2,1053.9 L1434.0,1053.6 L1434.8,1053.3 L1435.5,1052.3 L1436.2,1051.4 L1437.0,1052.6 L1437.8,1053.6 L1438.5,1052.6 L1439.2,1051.7 L1440.0,1051.2 L1440.8,1051.2 L1441.5,1051.5 L1442.2,1051.4 L1443.0,1050.6 L1443.8,1049.4 L1444.5,1047.9 L1445.2,1045.7 L1446.0,1043.1 L1446.8,1040.2 L1447.5,1037.5 L1448.2,1035.9 L1448.8,1035.8 L1449.0,1036.0 L1449.8,1037.3 L1450.5,1039.5 L1451.2,1042.5 L1452.0,1045.9 L1452.8,1048.9 L1453.5,1051.1 L1454.2,1052.6 L1455.0,1053.6 L1455.8,1054.2 L1456.0,1054.3 L1456.5,1054.5 L1457.2,1054.6 L1458.0,1054.5 L1458.8,1054.4 L1459.5,1054.3 L1460.2,1054.1 L1461.0,1054.0 L1461.8,1054.3 L1462.5,1054.9 L1463.2,1054.4 L1464.0,1053.2 L1464.8,1053.2 L1465.5,1053.7 L1466.2,1053.6 L1467.0,1053.1 L1467.8,1053.0 L1468.5,1053.0 L1469.2,1052.7 L1470.0,1052.3 L1470.8,1053.1 L1471.5,1054.4 L1472.2,1053.2 L1473.0,1051.4 L1473.8,1051.4 L1474.0,1051.6 L1474.5,1051.8 L1475.2,1051.7 L1476.0,1051.5 L1476.8,1051.5 L1477.5,1051.4 L1478.2,1051.1 L1479.0,1050.8 L1479.8,1050.5 L1480.5,1050.1 L1481.2,1050.2 L1482.0,1050.2 L1482.8,1048.4 L1483.5,1046.8 L1484.2,1047.4 L1485.0,1047.9 L1485.8,1046.9 L1486.5,1046.1 L1487.2,1046.8 L1488.0,1047.2 L1488.8,1046.2 L1489.5,1045.4 L1490.2,1045.4 L1491.0,1045.6 L1491.8,1046.1 L1492.0,1046.2 L1492.5,1046.7 L1493.2,1047.7 L1494.0,1048.5 L1494.8,1048.5 L1495.5,1048.7 L1496.2,1049.1 L1497.0,1049.7 L1497.8,1050.8 L1498.5,1051.1 L1499.2,1050.1 L1500.0,1049.2 L1500.8,1048.5 L1501.5,1048.4 L1502.2,1049.3 L1503.0,1049.7 L1503.8,1049.7 L1504.5,1050.0 L1505.2,1050.8 L1506.0,1051.3 L1506.8,1051.6 L1507.5,1050.5 L1508.2,1048.2 L1509.0,1048.3 L1509.8,1050.1 L1510.5,1050.4 L1511.2,1049.8 L1512.0,1049.1 L1512.8,1048.4 L1513.5,1047.7 L1514.2,1047.2 L1515.0,1047.5 L1515.8,1048.3 L1516.5,1047.4 L1517.2,1045.8 L1518.0,1045.0 L1518.8,1044.4 L1519.5,1044.3 L1520.2,1044.4 L1521.0,1043.5 L1521.8,1042.3 L1522.5,1042.9 L1523.2,1043.7 L1524.0,1043.3 L1524.8,1042.8 L1525.5,1042.8 L1526.0,1042.9 L1526.2,1042.9 L1527.0,1042.8 L1527.8,1042.7 L1528.5,1041.7 L1529.2,1040.8 L1530.0,1042.1 L1530.8,1043.3 L1531.5,1041.8 L1532.2,1040.4 L1533.0,1041.5 L1533.8,1042.3 L1534.5,1040.6 L1535.2,1039.4 L1536.0,1040.5 L1536.8,1041.3 L1537.5,1040.5 L1538.2,1039.9 L1539.0,1040.3 L1539.8,1040.5 L1540.5,1040.0 L1541.2,1039.4 L1542.0,1038.3 L1542.8,1037.8 L1543.5,1038.3 L1544.2,1038.9 L1545.0,1039.5 L1545.8,1040.0 L1546.5,1040.2 L1547.2,1039.8 L1548.0,1038.4 L1548.8,1037.4 L1549.5,1036.9 L1550.2,1036.9 L1551.0,1037.5 L1551.8,1037.9 L1552.0,1038.0 L1552.5,1038.2 L1553.2,1038.1 L1554.0,1037.6 L1554.8,1037.3 L1555.5,1036.9 L1556.2,1037.2 L1557.0,1038.0 L1557.8,1038.2 L1558.5,1038.0 L1559.2,1037.6 L1560.0,1037.2 L1560.8,1036.3 L1561.5,1035.0 L1562.2,1034.8 L1563.0,1035.1 L1563.8,1034.9 L1564.5,1034.5 L1565.2,1033.6 L1566.0,1032.6 L1566.8,1033.2 L1567.5,1034.3 L1568.2,1033.9 L1569.0,1033.2 L1569.8,1032.6 L1570.5,1032.0 L1571.2,1032.7 L1572.0,1033.6 L1572.8,1033.2 L1573.5,1032.6 L1574.2,1032.4 L1575.0,1032.3 L1575.8,1032.4 L1576.5,1032.5 L1577.2,1032.1 L1578.0,1031.7 L1578.8,1030.5 L1579.5,1029.3 L1580.2,1029.8 L1581.0,1030.3 L1581.8,1031.1 L1582.5,1031.7 L1583.2,1030.6 L1584.0,1029.7 L1584.8,1030.2 L1585.5,1030.6 L1586.2,1030.8 L1587.0,1031.1 L1587.8,1031.7 L1588.5,1032.1 L1589.2,1032.0 L1590.0,1031.8 L1590.8,1031.6 L1591.5,1031.2 L1592.2,1030.5 L1593.0,1030.3 L1593.8,1030.9 L1594.5,1031.2 L1595.2,1031.0 L1596.0,1030.6 L1596.8,1030.2 L1597.5,1030.3 L1598.2,1031.2 L1599.0,1031.4 L1599.8,1030.8 L1600.5,1030.1 L1601.2,1029.3 L1602.0,1029.6 L1602.8,1030.7 L1603.5,1030.6 L1604.0,1029.8 L1604.2,1029.6 L1605.0,1029.5 L1605.8,1029.4 L1606.5,1029.0 L1607.2,1028.4 L1607.5,1028.1 L1608.0,1027.7 L1608.8,1026.2 L1609.5,1023.8 L1610.2,1021.1 L1611.0,1018.7 L1611.8,1016.4 L1612.5,1013.6 L1613.2,1011.0 L1614.0,1009.3 L1614.8,1008.6 L1615.1,1008.5 L1615.5,1008.6 L1616.2,1009.9 L1617.0,1012.6 L1617.8,1015.6 L1618.5,1018.2 L1618.9,1019.2 L1619.2,1020.0 L1620.0,1021.4 L1620.8,1022.6 L1621.5,1023.7 L1622.2,1024.4 L1622.4,1024.4 L1623.0,1023.9 L1623.8,1022.9 L1624.5,1022.7 L1625.2,1022.5 L1626.0,1021.4 L1626.8,1020.3 L1627.5,1020.0 L1628.2,1019.8 L1629.0,1019.3 L1629.4,1019.2 L1629.8,1019.1 L1630.5,1018.8 L1631.2,1018.7 L1632.0,1019.3 L1632.8,1020.1 L1633.5,1021.4 L1634.2,1022.6 L1635.0,1024.0 L1635.6,1024.9 L1635.8,1024.9 L1636.5,1024.9 L1637.2,1024.9 L1638.0,1025.1 L1638.8,1024.8 L1639.5,1023.6 L1640.2,1023.0 L1640.8,1023.0 L1641.0,1023.0 L1641.8,1023.6 L1642.5,1024.9 L1643.2,1026.1 L1644.0,1026.9 L1644.8,1027.6 L1645.5,1028.2 L1646.2,1029.0 L1647.0,1030.0 L1647.8,1030.4 L1648.5,1030.4 L1648.7,1030.3 L1649.2,1029.9 L1650.0,1029.3 L1650.8,1029.0 L1651.5,1029.0 L1652.2,1029.3 L1653.0,1029.4 L1653.8,1029.1 L1654.5,1028.6 L1655.2,1028.1 L1655.7,1027.8 L1656.0,1027.4 L1656.8,1025.5 L1657.5,1022.2 L1658.2,1017.6 L1659.0,1011.9 L1659.2,1010.2 L1659.8,1001.4 L1660.5,983.9 L1661.0,975.2 L1661.2,972.4 L1662.0,964.4 L1662.8,957.8 L1663.5,953.4 L1664.1,952.2 L1664.2,952.3 L1665.0,955.2 L1665.8,961.1 L1666.5,968.8 L1667.1,975.2 L1667.2,976.9 L1668.0,988.8 L1668.8,1003.2 L1669.5,1015.6 L1669.8,1019.0 L1670.2,1023.2 L1671.0,1029.4 L1671.8,1034.1 L1672.4,1036.5 L1672.5,1036.7 L1673.2,1038.2 L1674.0,1039.3 L1674.8,1040.4 L1675.5,1041.2 L1675.9,1041.8 L1676.2,1041.6 L1677.0,1040.7 L1677.8,1040.1 L1678.5,1039.3 L1679.2,1038.2 L1680.0,1036.9 L1680.3,1036.4 L1680.8,1034.6 L1681.5,1029.0 L1682.2,1022.7 L1682.9,1019.1 L1683.0,1018.7 L1683.8,1016.3 L1684.5,1014.2 L1685.2,1012.9 L1686.0,1012.3 L1686.1,1012.3 L1686.8,1013.9 L1687.5,1018.1 L1688.2,1022.4 L1689.0,1024.3 L1689.8,1024.3 L1690.5,1024.0 L1691.2,1023.5 L1692.0,1023.1 L1692.8,1023.9 L1693.5,1023.7 L1694.2,1021.6 L1695.0,1020.4 L1695.2,1020.3 L1695.8,1020.2 L1696.5,1021.2 L1697.2,1021.8 L1698.0,1022.1 L1698.8,1022.4 L1699.5,1022.6 L1699.6,1022.7 L1700.2,1023.4 L1701.0,1025.7 L1701.8,1028.9 L1702.5,1032.4 L1703.2,1035.7 L1703.9,1038.2 L1704.0,1038.5 L1704.8,1040.9 L1705.5,1043.4 L1706.2,1045.9 L1707.0,1048.3 L1707.8,1050.8 L1708.3,1052.6 L1708.5,1053.4 L1709.2,1056.3 L1710.0,1059.2 L1710.8,1062.1 L1711.5,1065.1 L1712.2,1068.0 L1712.7,1069.5 L1713.0,1070.6 L1713.8,1073.5 L1714.5,1076.4 L1715.2,1079.0 L1716.0,1080.8 L1716.6,1081.3 L1716.8,1081.3 L1717.5,1080.5 L1718.2,1079.2 L1719.0,1077.3 L1719.5,1076.0 L1719.8,1075.2 L1720.5,1072.3 L1721.1,1068.7 L1721.2,1067.3 L1722.0,1055.2 L1722.3,1051.2 L1722.8,1047.4 L1723.5,1042.7 L1724.2,1039.3 L1725.0,1035.7 L1725.8,1030.7 L1726.4,1024.3 L1726.5,1022.9 L1727.2,1005.0 L1727.2,1003.3 L1728.0,965.5 L1728.1,960.0 L1728.8,918.1 L1729.0,910.0 L1729.5,898.2 L1730.2,890.0 L1730.2,889.7 L1731.0,885.4 L1731.5,884.4 L1731.8,884.8 L1732.4,889.0 L1732.5,890.3 L1733.0,905.0 L1733.2,917.2 L1733.8,955.0 L1734.0,970.4 L1734.8,1030.0 L1735.5,1064.8 L1735.6,1068.0 L1736.2,1083.7 L1736.6,1090.0 L1737.0,1096.4 L1737.8,1107.0 L1738.5,1114.7 L1738.6,1115.4 L1739.2,1119.6 L1740.0,1123.7 L1740.8,1127.1 L1741.5,1129.9 L1742.2,1132.3 L1742.5,1132.9 L1743.0,1134.2 L1743.8,1136.1 L1744.5,1138.0 L1745.2,1139.8 L1746.0,1141.4 L1746.8,1142.8 L1747.5,1143.9 L1748.2,1144.6 L1749.0,1144.9 L1749.5,1144.9 L1749.8,1144.7 L1750.5,1144.1 L1751.2,1143.9 L1752.0,1143.1 L1752.8,1141.6 L1753.5,1139.8 L1754.2,1137.9 L1754.8,1136.4 L1755.0,1135.8 L1755.8,1132.7 L1756.5,1128.1 L1757.2,1122.0 L1757.9,1115.4 L1758.0,1114.1 L1758.8,1097.1 L1759.4,1080.3 L1759.5,1078.1 L1760.2,1059.2 L1761.0,1040.7 L1761.8,1028.8 L1762.1,1027.2 L1762.5,1029.1 L1763.2,1041.0 L1764.0,1058.9 L1764.8,1077.1 L1764.9,1080.3 L1765.5,1093.4 L1766.2,1110.2 L1766.5,1115.4 L1767.0,1126.5 L1767.8,1140.4 L1767.9,1141.7 L1768.5,1145.0 L1769.2,1147.9 L1770.0,1149.7 L1770.5,1150.5 L1770.8,1150.8 L1771.5,1151.6 L1772.2,1152.3 L1773.0,1152.9 L1773.8,1153.6 L1774.5,1154.1 L1775.2,1154.0 L1775.8,1153.8 L1776.0,1153.7 L1776.8,1153.8 L1777.5,1153.9 L1778.2,1154.2 L1779.0,1154.5 L1779.8,1154.5 L1780.5,1154.6 L1781.2,1155.0 L1782.0,1155.1 L1782.8,1154.9 L1783.5,1154.8 L1784.2,1154.6 L1785.0,1154.4 L1785.8,1154.3 L1786.5,1154.3 L1787.2,1154.5 L1788.0,1154.5 L1788.8,1154.4 L1789.5,1154.2 L1790.2,1154.0 L1791.0,1154.0 L1791.8,1154.4 L1792.5,1154.5 L1793.2,1154.5 L1794.0,1154.5 L1794.8,1154.5 L1795.5,1154.5 L1796.2,1154.4 L1797.0,1154.8 L1797.8,1155.3 L1798.5,1155.3 L1799.2,1155.1 L1800.0,1155.1 L1800.8,1155.3 L1801.5,1155.2 L1802.2,1155.0 L1803.0,1155.1 L1803.8,1155.2 L1804.5,1155.6 L1805.2,1156.0 L1806.0,1156.4 L1806.8,1156.7 L1807.5,1156.8 L1808.2,1156.7 L1809.0,1156.8 L1809.8,1156.8 L1810.5,1157.1 L1811.2,1157.3 L1812.0,1157.2 L1812.8,1157.0 L1813.5,1156.7 L1814.2,1156.5 L1815.0,1156.6 L1815.8,1156.6 L1816.5,1156.5 L1817.2,1156.3 L1818.0,1156.1 L1818.8,1155.8 L1819.5,1154.9 L1820.2,1153.9 L1821.0,1153.1 L1821.8,1152.2 L1822.5,1151.4 L1823.2,1150.8 L1824.0,1150.3 L1824.3,1150.2 L1824.8,1150.3 L1825.5,1150.5 L1826.2,1151.2 L1827.0,1152.2 L1827.8,1153.3 L1828.5,1154.4 L1829.2,1155.3 L1830.0,1155.9 L1830.8,1156.4 L1831.5,1156.8 L1832.2,1156.9 L1832.6,1156.9 L1833.0,1156.9 L1833.8,1156.7 L1834.5,1156.5 L1835.2,1156.7 L1836.0,1157.4 L1836.8,1157.6 L1837.5,1157.5 L1838.2,1157.4 L1839.0,1157.5 L1839.8,1157.6 L1840.5,1157.7 L1841.2,1157.7 L1842.0,1157.5 L1842.8,1157.6 L1843.5,1157.9 L1844.2,1158.1 L1845.0,1158.4 L1845.8,1158.7 L1846.5,1159.0 L1847.2,1159.0 L1848.0,1158.9 L1848.8,1158.6 L1849.5,1158.1 L1850.2,1158.5 L1851.0,1159.0 L1851.8,1159.3 L1852.5,1159.5 L1853.2,1159.7 L1854.0,1160.0 L1854.8,1159.9 L1855.5,1159.8 L1856.0,1160.0 L1856.2,1160.1 L1857.0,1160.5 L1857.8,1160.3 L1858.5,1160.1 L1859.2,1160.1 L1860.0,1160.1 L1860.8,1160.0 L1861.5,1159.9 L1862.2,1159.4 L1863.0,1158.9 L1863.8,1159.4 L1864.5,1159.8 L1865.2,1159.7 L1866.0,1159.7 L1866.8,1159.4 L1867.5,1159.2 L1868.2,1159.4 L1869.0,1159.6 L1869.8,1159.6 L1870.5,1159.5 L1871.2,1159.3 L1872.0,1159.1 L1872.8,1159.2 L1873.5,1159.2 L1874.2,1159.2 L1875.0,1159.1 L1875.8,1159.2 L1876.5,1159.2 L1877.2,1159.1 L1878.0,1159.0 L1878.8,1159.2 L1879.5,1159.1 L1880.2,1158.6 L1881.0,1158.4 L1881.8,1158.7 L1882.5,1158.7 L1883.2,1158.4 L1884.0,1158.3 L1884.8,1158.6 L1885.5,1158.8 L1886.2,1159.0 L1887.0,1159.0 L1887.8,1158.9 L1888.5,1158.8 L1889.2,1158.8 L1890.0,1158.7 L1890.8,1158.8 L1891.5,1159.0 L1892.2,1159.3 L1893.0,1159.0 L1893.8,1158.3 L1894.5,1158.4 L1895.2,1158.9 L1896.0,1158.6 L1896.8,1158.0 L1897.5,1158.0 L1898.2,1158.2 L1899.0,1158.4 L1899.8,1158.5 L1900.5,1158.3 L1901.2,1158.1 L1902.0,1158.2 L1902.8,1158.4 L1903.5,1158.5 L1904.2,1158.6 L1905.0,1158.2 L1905.8,1157.8 L1906.5,1157.9 L1907.2,1158.2 L1908.0,1158.1 L1908.8,1158.0 L1909.5,1157.6 L1910.2,1157.3 L1911.0,1157.7 L1911.8,1158.0 L1912.5,1157.9 L1913.2,1157.8 L1914.0,1158.2 L1914.8,1158.6 L1915.5,1158.1 L1916.2,1157.7 L1917.0,1158.3 L1917.8,1158.7 L1918.5,1158.1 L1919.2,1157.8 L1920.0,1158.4 L1920.8,1158.7 L1921.5,1158.4 L1922.2,1158.1 L1923.0,1158.1 L1923.8,1158.1 L1924.5,1158.2 L1925.2,1158.2 L1926.0,1158.2 L1926.8,1158.3 L1927.5,1158.4 L1928.2,1158.4 L1929.0,1158.5 L1929.8,1158.3 L1930.5,1157.8 L1931.2,1157.5 L1932.0,1157.2 L1932.8,1157.0 L1933.5,1156.8 L1934.2,1156.9 L1935.0,1157.2 L1935.8,1157.5 L1936.5,1157.8 L1937.2,1157.8 L1938.0,1157.7 L1938.8,1157.6 L1939.5,1157.5 L1940.2,1157.4 L1941.0,1157.2 L1941.8,1157.1 L1942.5,1157.0 L1943.2,1157.0 L1944.0,1157.0 L1944.8,1157.1 L1945.5,1157.2 L1946.2,1156.9 L1947.0,1156.3 L1947.8,1156.6 L1948.5,1156.9 L1949.2,1156.3 L1950.0,1155.5 L1950.8,1155.2 L1951.5,1155.1 L1952.2,1154.6 L1953.0,1154.1 L1953.8,1153.7 L1954.5,1153.4 L1955.2,1153.0 L1956.0,1152.7 L1956.8,1152.6 L1956.9,1152.6 L1957.5,1152.7 L1958.2,1153.1 L1959.0,1153.7 L1959.8,1154.2 L1960.5,1154.7 L1961.2,1156.1 L1962.0,1157.2 L1962.8,1157.4 L1963.5,1157.5 L1964.2,1157.8 L1965.0,1157.9 L1965.2,1158.0 L1965.8,1158.0 L1966.5,1158.0 L1967.2,1157.8 L1968.0,1157.6 L1968.8,1157.3 L1969.5,1157.3 L1970.2,1157.7 L1971.0,1158.0 L1971.8,1158.1 L1972.5,1158.0 L1973.2,1157.5 L1974.0,1157.4 L1974.8,1157.7 L1975.5,1157.7 L1976.2,1157.4 L1977.0,1157.3 L1977.8,1157.5 L1978.5,1157.6 L1979.2,1157.6 L1980.0,1157.6 L1980.8,1157.6 L1981.5,1157.5 L1982.2,1157.4 L1983.0,1157.2 L1983.8,1156.9 L1984.5,1156.9 L1985.2,1157.2 L1986.0,1157.0 L1986.8,1156.7 L1987.5,1156.6 L1988.2,1156.7 L1989.0,1156.7 L1989.8,1156.7 L1990.5,1156.5 L1991.2,1156.2 L1992.0,1155.9 L1992.8,1155.6 L1993.5,1155.8 L1994.2,1156.1 L1995.0,1155.8 L1995.8,1155.3 L1996.5,1155.2 L1997.2,1155.2 L1998.0,1155.1 L1998.8,1154.9 L1999.5,1155.2 L2000.2,1155.6 L2001.0,1155.3 L2001.8,1155.0 L2002.5,1154.5 L2003.2,1154.0 L2004.0,1154.6 L2004.8,1155.2 L2005.5,1155.4 L2006.2,1155.6 L2007.0,1155.5 L2007.8,1155.3 L2008.5,1154.7 L2009.2,1154.2 L2010.0,1154.3 L2010.8,1154.4 L2011.5,1154.5 L2012.0,1154.5 L2012.2,1154.5 L2013.0,1154.6 L2013.8,1154.6 L2014.5,1154.3 L2015.2,1154.1 L2016.0,1153.8 L2016.8,1153.7 L2017.5,1154.0 L2018.2,1154.3 L2019.0,1154.2 L2019.8,1154.0 L2020.5,1153.5 L2021.2,1153.3 L2022.0,1153.5 L2022.8,1153.6 L2023.5,1153.7 L2024.2,1153.8 L2025.0,1153.7 L2025.8,1153.7 L2026.5,1153.8 L2027.2,1153.8 L2028.0,1153.9 L2028.8,1153.8 L2029.5,1153.7 L2030.2,1153.6 L2031.0,1153.5 L2031.5,1153.4 L2031.8,1153.3 L2032.5,1153.4 L2033.2,1153.9 L2034.0,1154.9 L2034.8,1155.9 L2035.5,1156.8 L2036.2,1157.8 L2037.0,1158.8 L2037.8,1159.4 L2038.5,1159.8 L2039.2,1160.3 L2040.0,1160.7 L2040.6,1160.9 L2040.8,1161.0 L2041.5,1161.2 L2042.2,1161.1 L2043.0,1161.0 L2043.8,1160.7 L2044.5,1160.3 L2045.2,1159.6 L2046.0,1158.1 L2046.8,1155.7 L2047.5,1152.0 L2048.2,1146.9 L2049.0,1140.4 L2049.8,1133.3 L2050.5,1126.4 L2051.2,1121.0 L2052.0,1118.2 L2052.3,1117.9 L2052.8,1118.5 L2053.5,1121.9 L2054.2,1127.8 L2055.0,1134.8 L2055.8,1141.9 L2056.5,1148.1 L2057.2,1153.1 L2058.0,1156.6 L2058.8,1158.8 L2059.5,1160.2 L2060.0,1160.7 L2060.2,1160.9 L2061.0,1161.5 L2061.8,1162.0 L2062.5,1162.4 L2063.2,1162.8 L2064.0,1163.1 L2064.8,1163.1 L2065.5,1163.2 L2066.2,1163.2 L2067.0,1163.1 L2067.8,1162.7 L2068.5,1162.5 L2069.2,1162.7 L2070.0,1162.7 L2070.8,1162.6 L2071.5,1162.4 L2072.2,1162.3 L2073.0,1162.1 L2073.8,1161.9 L2074.5,1161.9 L2075.2,1162.2 L2076.0,1162.2 L2076.8,1161.9 L2077.5,1162.2 L2078.2,1162.8 L2079.0,1162.8 L2079.8,1162.2 L2080.5,1161.9 L2081.2,1161.8 L2082.0,1161.8 L2082.8,1161.7 L2083.5,1162.0 L2084.2,1162.4 L2085.0,1162.1 L2085.8,1161.4 L2086.5,1161.4 L2087.2,1161.5 L2088.0,1161.5 L2088.8,1161.4 L2089.5,1161.4 L2090.0,1161.5 L2090.2,1161.6 L2091.0,1162.1 L2091.8,1162.9 L2092.5,1164.1 L2093.2,1165.4 L2094.0,1166.0 L2094.8,1166.2 L2095.2,1166.5 L2095.5,1166.6 L2096.2,1166.9 L2097.0,1167.2 L2097.8,1167.6 L2098.5,1167.4 L2099.2,1167.0 L2100.0,1167.2 L2100.8,1167.2 L2101.5,1167.1 L2102.2,1166.8 L2103.0,1166.2 L2103.8,1165.1 L2104.5,1163.2 L2105.2,1160.4 L2106.0,1156.4 L2106.8,1151.5 L2107.5,1146.1 L2108.2,1140.9 L2109.0,1136.9 L2109.8,1134.9 L2110.0,1134.8 L2110.5,1135.3 L2111.2,1138.1 L2112.0,1142.7 L2112.8,1148.1 L2113.5,1153.5 L2114.2,1158.2 L2115.0,1161.8 L2115.8,1164.4 L2116.5,1166.1 L2117.2,1167.1 L2118.0,1167.7 L2118.8,1168.0 L2119.5,1168.0 L2120.2,1168.1 L2121.0,1168.7 L2121.8,1169.1 L2122.5,1169.1 L2123.2,1169.3 L2124.0,1169.7 L2124.8,1170.0 L2125.5,1170.2 L2126.2,1170.3 L2127.0,1170.2 L2127.8,1170.3 L2128.5,1170.5 L2129.2,1170.6 L2130.0,1170.6 L2130.8,1170.5 L2131.5,1170.3 L2131.6,1170.3 L2132.2,1170.7 L2133.0,1171.2 L2133.8,1171.5 L2134.5,1171.6 L2135.2,1171.5 L2136.0,1171.4 L2136.8,1171.7 L2137.5,1172.0 L2138.2,1172.0 L2139.0,1171.8 L2139.8,1171.5 L2140.5,1171.0 L2141.2,1170.1 L2142.0,1168.9 L2142.8,1167.3 L2143.5,1165.5 L2144.2,1164.0 L2145.0,1162.6 L2145.8,1161.4 L2146.5,1160.9 L2146.7,1160.9 L2147.2,1161.1 L2148.0,1162.0 L2148.8,1163.5 L2149.5,1165.3 L2150.2,1167.2 L2151.0,1168.9 L2151.8,1170.3 L2152.5,1171.4 L2153.2,1172.1 L2154.0,1172.6 L2154.8,1172.7 L2155.0,1172.7 L2155.5,1172.7 L2156.2,1173.1 L2157.0,1173.4 L2157.8,1172.9 L2158.5,1172.5 L2159.2,1172.7 L2160.0,1172.8 L2160.8,1172.7 L2161.5,1172.6 L2162.2,1172.6 L2163.0,1172.4 L2163.8,1171.9 L2164.5,1171.8 L2165.2,1172.3 L2166.0,1172.5 L2166.8,1172.3 L2167.5,1172.2 L2168.2,1172.1 L2169.0,1172.1 L2169.8,1172.2 L2170.5,1172.0 L2170.6,1172.0 L2171.2,1171.6 L2172.0,1171.3 L2172.8,1171.0 L2173.5,1171.4 L2174.2,1172.1 L2175.0,1172.6 L2175.8,1173.1 L2176.5,1173.4 L2177.2,1173.6 L2178.0,1173.7 L2178.8,1173.7 L2179.5,1174.0 L2180.2,1174.4 L2181.0,1174.9 L2181.8,1175.3 L2182.5,1175.4 L2183.0,1175.4"/>
<path id="c-blue" stroke="#0072E5" d="M186.0,791.3 L186.8,791.1 L187.5,791.1 L188.2,791.0 L189.0,791.2 L189.8,791.4 L190.5,790.8 L191.2,789.9 L192.0,789.8 L192.8,790.0 L193.5,789.8 L194.2,789.5 L195.0,789.8 L195.8,790.1 L196.5,790.4 L197.2,790.7 L198.0,790.4 L198.8,790.1 L199.5,790.2 L200.2,790.3 L201.0,789.6 L201.8,788.8 L202.5,789.4 L203.2,790.0 L204.0,789.6 L204.8,789.4 L205.5,790.2 L206.2,790.8 L207.0,790.5 L207.8,790.3 L208.5,790.2 L209.2,790.2 L210.0,789.8 L210.8,789.6 L211.5,789.8 L212.2,789.9 L213.0,789.9 L213.8,789.8 L214.5,789.5 L215.2,789.2 L216.0,789.1 L216.8,789.1 L217.5,789.2 L218.2,789.2 L219.0,789.0 L219.8,788.9 L220.5,788.9 L221.2,788.9 L222.0,789.0 L222.8,788.9 L223.5,788.8 L224.2,788.9 L225.0,789.3 L225.8,789.1 L226.5,788.4 L227.2,788.5 L228.0,789.2 L228.8,789.2 L229.5,788.7 L230.2,788.5 L231.0,788.5 L231.8,788.4 L232.5,788.1 L233.2,788.3 L234.0,788.6 L234.8,788.7 L235.5,788.6 L236.2,788.7 L237.0,788.8 L237.8,788.6 L238.5,788.4 L239.2,788.5 L240.0,788.6 L240.8,789.1 L241.5,789.6 L242.2,789.3 L243.0,788.8 L243.8,788.5 L244.5,788.2 L245.2,788.6 L246.0,788.9 L246.8,788.5 L247.5,788.4 L248.0,788.3 L248.2,788.3 L249.0,788.1 L249.8,787.5 L250.5,786.3 L251.2,784.0 L252.0,780.3 L252.8,775.2 L253.5,769.5 L254.2,764.6 L255.0,761.8 L255.3,761.5 L255.8,762.1 L256.5,765.4 L257.2,770.7 L258.0,776.3 L258.8,781.0 L259.5,784.4 L260.2,786.4 L261.0,787.4 L261.8,787.8 L262.0,787.9 L262.5,788.0 L263.2,788.1 L264.0,788.4 L264.8,788.7 L265.5,788.9 L266.2,788.7 L267.0,788.6 L267.8,788.6 L268.5,788.6 L269.2,788.6 L270.0,788.7 L270.8,789.0 L271.5,788.8 L272.2,788.2 L273.0,787.9 L273.8,787.8 L274.5,787.8 L275.2,788.0 L276.0,787.8 L276.8,787.3 L277.5,787.0 L278.2,786.7 L279.0,786.8 L279.8,786.9 L280.5,787.3 L281.2,787.6 L282.0,787.7 L282.8,787.7 L283.5,787.2 L284.2,786.6 L285.0,786.3 L285.8,786.2 L286.5,786.6 L287.2,787.0 L288.0,787.1 L288.8,787.1 L289.5,787.1 L290.2,787.1 L291.0,787.3 L291.8,787.5 L292.5,787.6 L293.2,787.7 L294.0,787.4 L294.8,787.1 L295.5,787.2 L296.2,787.2 L297.0,786.7 L297.8,786.2 L298.5,786.1 L299.2,786.1 L300.0,786.5 L300.8,786.8 L301.5,786.9 L302.2,787.0 L303.0,787.0 L303.8,787.0 L304.5,786.9 L305.2,786.8 L306.0,786.9 L306.8,786.9 L307.5,786.8 L308.2,786.6 L309.0,785.8 L309.8,785.3 L310.5,785.6 L311.2,785.9 L312.0,786.2 L312.8,786.4 L313.5,786.4 L314.2,786.1 L315.0,785.4 L315.8,785.4 L316.5,786.2 L317.2,786.3 L318.0,785.8 L318.8,785.6 L319.5,785.6 L320.2,785.6 L321.0,785.8 L321.8,785.9 L322.5,786.0 L323.2,785.6 L324.0,784.9 L324.8,785.1 L325.5,785.7 L326.2,785.8 L327.0,785.5 L327.8,785.1 L328.5,784.8 L329.2,784.8 L330.0,784.9 L330.8,784.5 L331.5,783.9 L332.2,784.1 L333.0,784.5 L333.8,784.7 L334.5,784.9 L335.2,784.7 L336.0,784.4 L336.8,784.4 L337.5,784.5 L338.2,784.5 L339.0,784.5 L339.8,784.5 L340.5,784.5 L341.2,784.7 L342.0,785.0 L342.8,784.6 L343.5,784.3 L344.2,784.1 L345.0,784.0 L345.8,784.2 L346.5,784.4 L347.2,784.9 L348.0,785.1 L348.8,784.3 L349.5,783.7 L350.2,783.9 L351.0,784.0 L351.8,783.3 L352.0,783.0 L352.5,782.9 L353.2,783.7 L354.0,784.3 L354.8,784.0 L355.5,783.8 L356.2,783.9 L357.0,783.8 L357.8,783.3 L358.5,782.8 L359.2,782.4 L360.0,782.4 L360.8,782.9 L361.5,783.1 L362.2,783.0 L363.0,782.6 L363.8,782.0 L364.5,781.6 L365.2,781.4 L366.0,781.5 L366.8,782.0 L367.5,782.1 L368.2,781.9 L369.0,782.2 L369.8,782.9 L370.0,783.2 L370.5,782.7 L371.2,781.9 L372.0,781.6 L372.8,781.7 L373.5,781.8 L374.2,782.0 L375.0,781.8 L375.8,781.4 L376.5,781.5 L377.2,781.8 L378.0,782.5 L378.8,783.4 L379.5,783.3 L380.2,782.8 L381.0,782.7 L381.8,782.7 L382.5,782.6 L383.2,782.5 L384.0,783.1 L384.8,783.7 L385.0,783.8 L385.5,783.9 L386.2,784.1 L387.0,784.2 L387.8,784.3 L388.5,784.3 L389.2,784.3 L390.0,784.8 L390.8,785.2 L391.5,785.5 L392.2,785.7 L393.0,785.6 L393.8,785.6 L394.5,786.2 L395.2,786.6 L396.0,786.0 L396.8,785.4 L397.5,785.8 L398.2,786.1 L398.8,786.3 L399.0,786.4 L399.8,786.6 L400.5,786.7 L401.2,786.7 L402.0,786.3 L402.8,786.2 L403.5,786.7 L404.2,787.0 L405.0,787.3 L405.8,787.3 L406.5,787.1 L407.2,787.0 L408.0,786.9 L408.8,786.9 L409.5,787.1 L410.2,787.2 L411.0,787.0 L411.8,786.7 L412.5,786.2 L413.2,786.1 L414.0,786.4 L414.8,786.7 L415.5,787.2 L416.2,787.0 L417.0,786.2 L417.8,786.1 L418.5,786.4 L419.2,786.5 L420.0,786.3 L420.8,786.2 L421.5,786.0 L422.2,785.9 L423.0,785.8 L423.8,786.0 L424.5,786.4 L425.2,786.5 L426.0,786.5 L426.8,786.5 L427.5,786.5 L428.2,786.0 L429.0,785.5 L429.8,785.6 L430.5,786.0 L431.2,786.1 L432.0,786.3 L432.8,786.5 L433.5,786.6 L434.2,786.5 L435.0,786.4 L435.8,786.4 L436.5,786.5 L437.2,786.5 L438.0,786.5 L438.8,786.4 L439.5,786.3 L440.2,785.8 L441.0,785.3 L441.8,785.5 L442.5,785.7 L443.2,785.4 L444.0,785.1 L444.8,784.7 L445.5,784.3 L446.2,784.4 L447.0,784.7 L447.8,785.8 L448.5,786.4 L449.2,785.4 L450.0,784.6 L450.8,784.2 L451.5,784.1 L452.2,784.6 L453.0,785.1 L453.8,785.7 L454.5,785.9 L455.2,785.4 L456.0,785.1 L456.8,785.2 L457.5,785.1 L458.2,784.9 L459.0,784.8 L459.8,784.8 L460.5,785.0 L461.2,785.3 L462.0,785.4 L462.8,785.2 L463.5,785.0 L464.2,784.7 L465.0,784.7 L465.8,785.0 L466.5,785.1 L467.2,785.1 L468.0,784.8 L468.8,784.4 L469.5,784.3 L470.2,784.4 L471.0,784.4 L471.8,784.4 L472.5,784.1 L473.2,783.8 L474.0,784.1 L474.8,784.6 L475.5,784.4 L476.2,783.9 L477.0,783.7 L477.8,783.5 L478.5,783.2 L479.2,782.9 L480.0,782.9 L480.8,783.0 L481.5,783.7 L482.2,784.5 L483.0,783.8 L483.8,782.9 L484.5,783.3 L485.2,783.8 L486.0,783.5 L486.8,783.2 L487.5,783.4 L488.2,783.7 L489.0,783.6 L489.8,783.6 L490.5,783.1 L491.2,782.7 L492.0,782.9 L492.8,783.0 L493.5,783.0 L494.2,783.1 L495.0,783.1 L495.8,783.0 L496.5,782.9 L497.2,782.9 L498.0,782.7 L498.8,782.7 L499.5,783.0 L500.2,783.2 L501.0,783.4 L501.8,783.4 L502.5,783.1 L503.2,782.8 L504.0,782.4 L504.8,782.2 L505.5,782.6 L506.2,782.7 L507.0,782.5 L507.8,782.5 L508.0,782.5 L508.5,782.6 L509.2,782.8 L510.0,783.2 L510.8,783.0 L511.5,782.4 L512.2,782.1 L513.0,782.2 L513.8,782.0 L514.5,781.7 L515.2,781.7 L516.0,781.8 L516.8,781.8 L517.5,781.7 L518.2,782.1 L519.0,782.7 L519.8,782.6 L520.5,782.1 L521.2,781.8 L522.0,781.5 L522.8,782.0 L523.5,782.8 L524.2,782.0 L525.0,781.0 L525.8,781.4 L526.5,782.0 L527.2,782.1 L528.0,782.1 L528.8,782.0 L529.5,781.8 L530.2,781.5 L531.0,781.3 L531.8,781.3 L532.5,781.3 L533.2,781.2 L534.0,781.1 L534.8,781.4 L535.5,781.6 L536.2,780.7 L537.0,779.9 L537.8,780.4 L538.5,780.8 L539.2,781.0 L540.0,781.1 L540.8,780.8 L541.5,780.5 L542.2,780.1 L543.0,779.9 L543.8,780.4 L544.5,780.6 L545.2,780.4 L546.0,780.4 L546.8,780.9 L547.5,781.2 L548.2,781.4 L549.0,781.3 L549.8,780.9 L550.5,780.4 L551.2,779.7 L552.0,779.6 L552.8,780.0 L553.5,780.2 L554.2,780.0 L555.0,780.0 L555.8,780.5 L556.5,780.9 L557.2,781.1 L558.0,781.0 L558.8,780.6 L559.5,780.6 L560.2,781.1 L561.0,781.2 L561.8,781.0 L562.5,780.8 L563.2,780.5 L564.0,780.1 L564.8,779.6 L565.5,779.6 L566.2,779.9 L567.0,779.6 L567.8,779.1 L568.5,779.5 L569.2,780.2 L570.0,780.2 L570.8,779.8 L571.5,780.1 L572.2,780.4 L573.0,780.2 L573.8,779.8 L574.5,779.1 L575.2,778.4 L576.0,779.0 L576.8,779.8 L577.5,779.9 L578.2,780.0 L579.0,780.1 L579.8,780.3 L580.5,779.5 L581.2,778.7 L582.0,778.7 L582.8,778.7 L583.5,778.9 L584.2,779.1 L585.0,778.7 L585.8,778.4 L586.5,778.3 L587.2,778.2 L588.0,778.2 L588.8,778.4 L589.5,779.4 L590.2,779.9 L591.0,779.0 L591.8,778.3 L592.5,778.2 L593.2,778.1 L594.0,778.3 L594.8,778.4 L595.5,778.5 L596.2,778.7 L597.0,779.0 L597.8,779.2 L598.5,779.0 L599.2,778.9 L600.0,778.8 L600.8,778.7 L601.5,778.4 L602.2,778.3 L603.0,778.3 L603.8,778.1 L604.5,777.9 L605.2,777.6 L606.0,777.3 L606.8,777.7 L607.5,778.8 L608.2,778.7 L609.0,777.9 L609.8,777.9 L610.5,778.3 L611.2,778.1 L612.0,777.7 L612.8,777.6 L613.5,777.6 L614.2,777.6 L615.0,777.5 L615.8,777.2 L616.5,776.8 L617.2,777.0 L618.0,777.3 L618.8,777.5 L619.5,777.6 L620.2,777.7 L621.0,777.8 L621.8,777.7 L622.5,777.6 L623.2,777.7 L624.0,777.8 L624.8,777.5 L625.5,777.3 L626.2,777.2 L627.0,777.0 L627.8,776.4 L628.5,775.8 L629.2,776.2 L630.0,776.6 L630.8,777.2 L631.5,777.7 L632.2,777.2 L633.0,776.9 L633.8,777.0 L634.5,777.1 L635.2,776.8 L636.0,776.5 L636.8,776.3 L637.5,776.3 L638.2,777.1 L639.0,777.6 L639.8,777.0 L640.5,776.7 L641.2,777.0 L642.0,777.1 L642.8,776.8 L643.5,776.5 L644.2,776.2 L645.0,775.8 L645.8,775.2 L646.5,775.1 L647.2,775.7 L648.0,775.9 L648.8,775.3 L649.5,774.9 L650.2,774.7 L651.0,775.1 L651.8,776.1 L652.5,776.5 L653.2,776.3 L654.0,776.2 L654.8,776.1 L655.5,775.9 L656.2,775.7 L657.0,775.6 L657.8,775.5 L658.5,775.6 L659.2,775.7 L660.0,775.6 L660.8,775.5 L661.5,775.4 L662.2,775.3 L663.0,775.5 L663.8,775.6 L664.5,774.9 L665.2,773.9 L666.0,774.5 L666.8,775.4 L667.5,775.1 L668.2,774.6 L669.0,774.9 L669.8,775.3 L670.5,775.4 L671.2,775.5 L672.0,774.9 L672.8,774.2 L673.5,774.6 L674.2,775.1 L675.0,775.0 L675.8,775.0 L676.5,774.5 L677.2,774.0 L678.0,774.0 L678.8,774.0 L679.5,774.1 L680.2,774.2 L681.0,773.4 L681.8,772.8 L682.5,773.3 L683.2,773.8 L684.0,773.9 L684.8,774.0 L685.5,773.7 L686.2,773.4 L687.0,773.0 L687.8,772.8 L688.5,773.1 L689.2,773.5 L690.0,774.0 L690.8,774.3 L691.5,774.2 L692.2,773.9 L693.0,773.4 L693.8,773.0 L694.5,772.7 L695.2,772.6 L696.0,772.7 L696.8,772.7 L697.5,772.7 L698.2,772.5 L699.0,772.2 L699.8,772.0 L700.5,772.1 L701.2,772.2 L702.0,772.4 L702.8,772.5 L703.5,772.6 L704.2,772.0 L705.0,771.0 L705.6,771.1 L705.8,771.3 L706.5,772.3 L707.2,772.5 L708.0,772.3 L708.8,772.5 L709.5,772.9 L710.2,772.9 L711.0,772.7 L711.8,772.8 L712.5,773.1 L713.2,773.6 L714.0,774.2 L714.8,773.4 L715.5,772.5 L716.2,773.5 L717.0,774.8 L717.8,774.7 L718.5,774.5 L719.2,774.1 L720.0,773.6 L720.8,773.7 L721.5,773.7 L722.2,774.5 L723.0,775.4 L723.8,775.1 L724.5,774.8 L725.2,775.4 L726.0,776.0 L726.8,775.7 L727.5,775.3 L728.2,775.0 L729.0,774.7 L729.8,774.7 L730.5,774.6 L731.2,773.9 L732.0,773.4 L732.8,773.1 L733.5,772.8 L734.2,772.4 L735.0,772.0 L735.8,771.5 L736.5,771.1 L737.2,770.9 L738.0,770.8 L738.8,770.7 L739.5,770.4 L740.2,769.8 L741.0,769.7 L741.8,770.2 L742.5,770.7 L743.2,771.0 L744.0,771.4 L744.8,771.7 L745.5,772.0 L746.2,772.1 L747.0,772.6 L747.8,773.4 L748.5,774.2 L749.2,775.0 L750.0,775.7 L750.8,776.2 L751.5,776.9 L752.2,777.8 L753.0,778.1 L753.8,778.0 L754.5,778.3 L755.2,778.8 L756.0,779.1 L756.8,779.4 L757.5,779.7 L758.2,779.9 L759.0,780.0 L759.8,780.0 L759.8,780.0 L760.5,779.7 L761.2,779.3 L762.0,779.7 L762.8,780.4 L763.5,780.7 L764.2,780.9 L765.0,780.9 L765.8,780.9 L766.5,780.3 L767.2,779.6 L768.0,779.8 L768.8,780.1 L769.5,780.7 L770.2,781.3 L771.0,780.7 L771.8,780.1 L772.5,780.2 L773.2,780.3 L774.0,780.1 L774.8,780.0 L775.5,780.4 L776.2,780.6 L777.0,780.6 L777.8,780.6 L778.5,781.0 L779.2,781.1 L780.0,780.6 L780.8,780.2 L781.5,780.1 L782.2,780.0 L783.0,779.4 L783.8,779.1 L784.5,779.3 L785.2,779.4 L786.0,779.3 L786.8,779.3 L787.5,779.4 L788.2,779.3 L789.0,779.0 L789.8,779.1 L790.5,779.8 L791.2,779.9 L792.0,779.2 L792.8,779.0 L793.5,779.4 L794.2,779.3 L795.0,778.8 L795.8,778.8 L796.5,779.3 L797.2,779.7 L798.0,780.1 L798.8,779.7 L799.5,778.9 L800.2,778.9 L801.0,779.2 L801.8,779.2 L802.5,779.1 L803.2,779.1 L804.0,779.1 L804.8,779.2 L805.5,779.2 L806.2,778.9 L807.0,778.6 L807.8,778.6 L808.5,778.7 L809.2,778.6 L810.0,778.4 L810.8,778.3 L811.5,778.2 L812.2,778.1 L813.0,777.9 L813.8,778.5 L814.5,779.1 L815.2,778.7 L816.0,778.1 L816.8,778.5 L817.5,778.9 L818.2,778.8 L819.0,778.7 L819.8,778.2 L820.5,777.8 L821.2,778.4 L822.0,778.9 L822.8,778.2 L823.5,777.8 L824.2,778.2 L825.0,778.6 L825.8,778.8 L826.5,778.8 L827.2,778.1 L828.0,777.6 L828.8,777.5 L829.5,777.4 L830.2,777.4 L831.0,777.6 L831.8,778.5 L832.5,778.9 L833.2,778.1 L834.0,777.4 L834.8,777.1 L835.5,777.2 L836.2,777.8 L837.0,778.0 L837.8,777.6 L838.5,777.4 L839.2,777.5 L840.0,777.3 L840.8,777.0 L841.5,776.6 L842.2,776.2 L843.0,776.2 L843.8,776.6 L844.5,776.7 L845.2,776.6 L846.0,776.4 L846.8,776.2 L847.5,776.2 L848.2,776.3 L849.0,776.4 L849.8,776.4 L850.5,776.7 L851.2,777.2 L852.0,777.3 L852.8,777.2 L853.5,777.2 L854.2,777.1 L855.0,776.8 L855.8,776.4 L856.5,776.1 L857.2,775.9 L858.0,776.2 L858.8,776.6 L859.5,776.7 L860.2,776.7 L861.0,776.8 L861.8,776.9 L862.5,776.6 L863.2,776.3 L864.0,776.2 L864.8,776.1 L865.5,776.2 L866.2,776.3 L867.0,775.9 L867.8,775.5 L868.5,775.5 L869.2,775.5 L870.0,775.9 L870.8,776.2 L871.5,775.6 L872.2,775.1 L873.0,775.4 L873.8,775.7 L874.5,776.0 L875.2,776.1 L876.0,775.9 L876.8,775.7 L877.5,775.8 L878.2,775.6 L879.0,775.1 L879.8,774.9 L880.5,775.1 L881.2,775.3 L882.0,775.2 L882.8,775.2 L883.5,775.5 L884.2,775.6 L885.0,775.5 L885.8,775.3 L886.5,775.2 L887.2,775.4 L888.0,775.9 L888.8,775.9 L889.5,775.5 L890.2,775.1 L891.0,774.8 L891.8,774.6 L892.5,774.5 L893.2,774.5 L894.0,774.7 L894.8,774.6 L895.5,774.4 L896.2,774.7 L897.0,775.4 L897.8,775.3 L898.5,775.0 L899.2,774.7 L900.0,774.3 L900.8,774.2 L901.5,774.0 L902.2,773.9 L903.0,773.7 L903.8,773.9 L904.5,774.1 L905.2,774.5 L906.0,774.9 L906.8,774.8 L907.5,774.7 L908.0,774.5 L908.2,774.4 L909.0,774.1 L909.8,774.1 L910.5,774.1 L911.2,773.5 L912.0,772.8 L912.8,773.6 L913.5,774.3 L914.2,774.0 L915.0,773.7 L915.8,774.2 L916.5,774.5 L917.2,774.0 L918.0,773.6 L918.8,773.4 L919.5,773.4 L920.2,773.6 L921.0,773.6 L921.8,773.4 L922.5,773.3 L923.2,773.8 L924.0,774.2 L924.8,773.8 L925.5,773.6 L926.2,773.6 L927.0,773.5 L927.8,773.5 L928.5,773.4 L929.2,773.2 L930.0,773.1 L930.8,773.3 L931.5,773.4 L932.2,773.3 L933.0,773.4 L933.8,773.9 L934.5,773.8 L935.2,773.3 L936.0,773.1 L936.8,773.1 L937.5,773.0 L938.2,772.7 L939.0,772.6 L939.8,772.6 L940.5,772.6 L941.2,772.6 L942.0,772.9 L942.8,773.3 L943.5,773.2 L944.2,772.8 L945.0,772.9 L945.8,773.1 L946.5,772.9 L947.2,772.5 L948.0,772.3 L948.8,772.3 L949.5,771.9 L950.2,771.4 L951.0,771.9 L951.8,772.7 L952.5,773.2 L953.2,773.5 L954.0,772.9 L954.8,772.2 L955.5,772.6 L956.2,773.0 L957.0,772.9 L957.8,772.7 L958.5,772.2 L959.2,771.7 L960.0,772.1 L960.8,772.5 L961.5,772.0 L962.2,771.5 L963.0,771.6 L963.8,771.8 L964.5,772.2 L965.2,772.6 L966.0,772.2 L966.8,771.8 L967.5,771.4 L968.2,771.2 L969.0,772.0 L969.8,772.4 L970.5,771.6 L971.2,771.1 L972.0,771.3 L972.8,771.5 L973.5,771.4 L974.2,771.3 L975.0,771.4 L975.8,771.3 L976.5,771.1 L977.2,770.8 L978.0,770.6 L978.8,770.8 L979.5,771.8 L980.2,772.0 L981.0,771.2 L981.8,770.7 L982.5,770.7 L983.2,770.4 L984.0,770.0 L984.8,770.1 L985.5,770.8 L986.2,771.3 L987.0,771.7 L987.8,771.8 L988.5,771.8 L989.2,771.9 L990.0,772.1 L990.8,772.0 L991.5,771.8 L992.2,771.5 L993.0,771.2 L993.8,770.9 L994.5,770.8 L995.2,771.1 L996.0,771.5 L996.8,771.2 L997.5,770.7 L998.2,770.6 L999.0,770.7 L999.8,770.4 L1000.5,770.0 L1001.2,770.2 L1002.0,770.5 L1002.8,771.0 L1003.5,771.6 L1004.2,771.0 L1005.0,770.3 L1005.8,770.4 L1006.5,770.5 L1007.2,769.7 L1008.0,768.9 L1008.8,770.0 L1009.5,771.0 L1010.2,770.6 L1011.0,770.4 L1011.8,770.6 L1012.5,770.8 L1013.2,770.5 L1014.0,770.1 L1014.8,769.7 L1015.5,769.4 L1016.2,769.2 L1017.0,769.2 L1017.8,769.7 L1018.5,770.0 L1019.2,769.9 L1020.0,769.6 L1020.8,769.3 L1021.5,769.2 L1022.2,769.4 L1023.0,769.5 L1023.8,769.3 L1024.5,769.3 L1025.2,769.7 L1026.0,769.7 L1026.8,769.4 L1027.5,769.0 L1028.2,768.8 L1029.0,768.7 L1029.8,769.1 L1030.5,769.1 L1031.2,768.9 L1032.0,769.2 L1032.8,769.8 L1033.5,769.7 L1034.2,769.0 L1035.0,768.6 L1035.8,768.3 L1036.5,768.4 L1037.2,768.8 L1038.0,768.8 L1038.8,768.7 L1039.5,768.8 L1040.2,768.9 L1041.0,768.9 L1041.8,768.9 L1042.5,768.5 L1043.2,768.1 L1044.0,768.2 L1044.8,768.5 L1045.5,768.5 L1046.2,768.4 L1047.0,768.1 L1047.8,767.8 L1048.5,767.8 L1049.2,768.0 L1050.0,768.2 L1050.8,768.4 L1051.5,767.9 L1052.2,767.3 L1053.0,767.4 L1053.8,767.5 L1054.5,767.6 L1055.2,767.8 L1056.0,767.9 L1056.8,767.9 L1057.5,768.1 L1058.2,768.2 L1059.0,767.6 L1059.8,767.1 L1060.5,767.5 L1061.2,767.9 L1062.0,768.0 L1062.8,768.1 L1063.5,768.3 L1064.2,768.4 L1065.0,767.8 L1065.8,767.2 L1066.5,767.0 L1067.2,766.8 L1068.0,766.6 L1068.8,766.6 L1069.5,767.2 L1070.2,767.7 L1071.0,767.9 L1071.8,767.8 L1072.5,767.1 L1073.2,766.8 L1074.0,767.2 L1074.8,767.4 L1075.5,767.5 L1076.2,767.5 L1077.0,767.5 L1077.8,767.3 L1078.5,766.8 L1079.2,766.8 L1080.0,767.0 L1080.8,767.0 L1081.5,766.8 L1082.2,766.5 L1083.0,766.2 L1083.8,766.3 L1084.5,766.6 L1085.2,766.7 L1086.0,766.7 L1086.8,766.4 L1087.5,766.0 L1088.2,766.1 L1089.0,766.5 L1089.8,766.9 L1090.5,767.4 L1091.2,766.6 L1092.0,765.5 L1092.8,765.8 L1093.5,766.4 L1094.2,766.6 L1095.0,766.6 L1095.8,766.3 L1096.5,766.0 L1097.2,766.0 L1098.0,766.1 L1098.8,765.9 L1099.5,765.7 L1100.2,766.1 L1101.0,766.5 L1101.8,765.8 L1102.5,765.1 L1103.2,765.3 L1104.0,765.5 L1104.8,764.9 L1105.5,764.4 L1106.2,765.0 L1107.0,765.6 L1107.8,765.6 L1108.5,765.5 L1109.2,764.8 L1110.0,764.3 L1110.8,764.5 L1111.5,764.7 L1112.2,765.1 L1113.0,765.3 L1113.8,765.0 L1114.5,764.7 L1115.2,764.4 L1116.0,764.1 L1116.8,763.8 L1117.5,763.8 L1118.2,764.5 L1119.0,765.1 L1119.8,765.6 L1120.5,765.6 L1121.2,764.8 L1122.0,764.5 L1122.8,764.7 L1123.5,764.8 L1124.2,764.8 L1125.0,764.6 L1125.8,764.5 L1126.5,764.4 L1127.2,764.4 L1128.0,764.4 L1128.8,764.3 L1129.5,764.1 L1130.2,763.8 L1131.0,764.2 L1131.8,765.1 L1132.5,765.5 L1133.2,765.4 L1134.0,765.0 L1134.8,764.4 L1135.5,764.5 L1136.2,764.9 L1137.0,764.4 L1137.8,763.6 L1138.5,763.5 L1139.2,763.6 L1140.0,764.0 L1140.8,764.3 L1141.5,763.8 L1142.0,763.3 L1142.2,763.1 L1143.0,762.9 L1143.8,762.8 L1144.5,763.2 L1145.2,763.7 L1146.0,763.1 L1146.8,762.3 L1147.5,763.3 L1148.2,764.4 L1149.0,764.1 L1149.8,763.8 L1150.5,763.6 L1151.2,763.4 L1152.0,763.5 L1152.8,763.6 L1153.5,763.1 L1154.2,762.6 L1155.0,762.6 L1155.8,762.6 L1156.5,763.1 L1157.2,763.6 L1158.0,763.6 L1158.8,763.5 L1159.5,763.2 L1160.2,763.0 L1161.0,762.9 L1161.8,762.8 L1162.5,762.6 L1163.2,762.7 L1164.0,763.2 L1164.8,763.3 L1165.5,762.4 L1166.2,761.9 L1167.0,762.0 L1167.8,762.2 L1168.5,762.2 L1169.2,762.1 L1170.0,761.8 L1170.8,761.6 L1171.5,761.7 L1172.2,761.7 L1173.0,761.8 L1173.8,762.1 L1174.5,762.7 L1175.2,763.1 L1176.0,763.3 L1176.8,763.1 L1177.5,762.7 L1178.2,762.1 L1179.0,761.5 L1179.8,761.4 L1180.5,761.7 L1181.2,761.9 L1182.0,762.0 L1182.8,762.0 L1183.5,761.9 L1184.2,761.9 L1185.0,761.8 L1185.8,762.0 L1186.5,762.2 L1187.2,761.6 L1188.0,760.9 L1188.8,761.0 L1189.5,761.4 L1190.2,761.7 L1191.0,761.9 L1191.8,762.0 L1192.5,762.1 L1193.2,762.0 L1194.0,761.9 L1194.8,761.7 L1195.5,761.6 L1196.2,761.6 L1197.0,761.5 L1197.8,761.3 L1198.5,761.1 L1199.2,761.3 L1200.0,761.5 L1200.8,761.4 L1201.5,761.3 L1202.2,761.1 L1203.0,761.0 L1203.8,761.6 L1204.5,762.0 L1205.2,762.0 L1206.0,761.9 L1206.8,761.4 L1207.5,761.0 L1208.2,761.3 L1209.0,761.5 L1209.8,761.7 L1210.5,761.7 L1211.2,761.4 L1212.0,761.2 L1212.8,761.1 L1213.5,761.1 L1214.2,761.2 L1215.0,760.9 L1215.8,760.3 L1216.5,759.9 L1217.2,759.9 L1218.0,760.2 L1218.8,760.8 L1219.5,761.0 L1220.2,760.9 L1221.0,761.0 L1221.8,761.3 L1222.5,761.1 L1223.2,760.5 L1224.0,760.5 L1224.8,761.0 L1225.5,761.1 L1226.2,761.1 L1227.0,761.2 L1227.8,761.5 L1228.5,761.0 L1229.2,760.1 L1230.0,759.9 L1230.8,760.0 L1231.5,760.1 L1232.2,760.3 L1233.0,760.3 L1233.8,760.3 L1234.5,759.9 L1235.2,759.5 L1236.0,759.5 L1236.8,759.6 L1237.5,759.4 L1238.2,759.2 L1239.0,760.0 L1239.8,761.0 L1240.0,761.0 L1240.5,760.5 L1241.2,759.8 L1242.0,759.7 L1242.8,759.7 L1243.5,759.5 L1244.2,759.2 L1245.0,759.4 L1245.8,759.6 L1246.5,759.7 L1247.2,759.9 L1248.0,759.5 L1248.8,759.2 L1249.5,759.2 L1250.2,759.3 L1251.0,759.9 L1251.8,760.4 L1252.5,760.0 L1253.2,759.6 L1254.0,759.3 L1254.8,759.1 L1255.5,758.8 L1256.2,758.6 L1257.0,758.7 L1257.8,758.7 L1258.5,758.4 L1259.2,758.3 L1260.0,758.6 L1260.8,758.6 L1261.5,758.3 L1262.2,758.0 L1263.0,758.0 L1263.8,757.9 L1264.5,758.0 L1265.2,757.9 L1266.0,757.6 L1266.8,757.7 L1267.5,758.0 L1268.2,758.4 L1269.0,759.0 L1269.8,758.8 L1270.5,757.9 L1271.2,757.3 L1272.0,756.9 L1272.8,757.2 L1273.5,758.0 L1274.2,758.0 L1275.0,757.6 L1275.8,757.9 L1276.5,758.5 L1277.2,758.3 L1278.0,757.8 L1278.8,757.7 L1279.5,757.8 L1280.2,757.5 L1281.0,756.9 L1281.8,756.6 L1282.5,756.3 L1283.2,756.5 L1284.0,756.9 L1284.8,757.2 L1285.5,757.4 L1286.2,757.0 L1287.0,756.5 L1287.8,756.3 L1288.5,756.0 L1289.2,756.3 L1290.0,756.6 L1290.8,756.6 L1291.5,756.6 L1292.0,756.6 L1292.2,756.6 L1293.0,756.7 L1293.8,756.7 L1294.5,756.9 L1295.2,757.5 L1296.0,758.1 L1296.8,757.4 L1297.5,756.8 L1298.2,756.6 L1299.0,756.5 L1299.8,756.3 L1300.5,756.2 L1301.2,756.8 L1302.0,757.1 L1302.8,756.3 L1303.5,756.0 L1304.2,756.9 L1305.0,757.5 L1305.8,757.0 L1306.5,756.6 L1307.2,756.1 L1308.0,756.0 L1308.8,756.5 L1309.5,756.8 L1310.2,756.7 L1311.0,756.8 L1311.8,757.2 L1312.5,757.0 L1313.2,756.2 L1314.0,756.0 L1314.8,756.5 L1315.5,756.7 L1316.2,756.7 L1317.0,756.8 L1317.8,757.1 L1318.5,756.8 L1319.2,756.2 L1320.0,756.0 L1320.8,756.1 L1321.5,756.7 L1322.2,757.5 L1323.0,757.5 L1323.8,757.1 L1324.5,756.5 L1325.2,755.9 L1326.0,756.1 L1326.8,756.6 L1327.5,756.5 L1328.2,756.2 L1329.0,756.1 L1329.8,756.1 L1330.5,756.0 L1331.2,755.8 L1332.0,756.4 L1332.8,757.0 L1333.5,756.7 L1334.2,756.2 L1335.0,756.4 L1335.8,756.6 L1336.5,756.6 L1337.2,756.5 L1338.0,756.0 L1338.8,755.5 L1339.5,755.8 L1340.2,756.0 L1341.0,756.4 L1341.8,756.8 L1342.5,756.1 L1343.2,755.5 L1344.0,756.0 L1344.8,756.4 L1345.5,756.3 L1346.2,756.1 L1347.0,756.1 L1347.8,756.1 L1348.5,755.9 L1349.2,755.7 L1350.0,755.5 L1350.8,755.2 L1351.5,754.7 L1352.2,754.2 L1353.0,754.0 L1353.8,753.7 L1354.5,753.2 L1355.2,752.8 L1356.0,752.6 L1356.8,752.6 L1357.5,752.9 L1358.2,752.9 L1359.0,752.4 L1359.6,752.2 L1359.8,752.3 L1360.5,752.8 L1361.2,753.2 L1362.0,753.3 L1362.8,753.3 L1363.5,753.0 L1364.2,753.3 L1365.0,754.0 L1365.8,754.3 L1366.5,754.3 L1367.2,754.7 L1368.0,755.4 L1368.8,755.7 L1369.5,755.8 L1370.2,756.3 L1371.0,757.0 L1371.8,757.4 L1372.5,757.7 L1372.6,757.8 L1373.2,757.8 L1374.0,757.8 L1374.8,758.7 L1375.5,759.9 L1376.2,760.3 L1377.0,760.3 L1377.8,760.0 L1378.5,759.7 L1379.2,760.4 L1380.0,761.3 L1380.8,761.5 L1381.5,761.7 L1382.2,762.6 L1383.0,763.7 L1383.8,763.5 L1384.5,763.2 L1385.2,763.6 L1385.6,763.8 L1386.0,764.0 L1386.8,764.2 L1387.5,764.4 L1388.2,764.6 L1389.0,764.7 L1389.8,764.4 L1390.5,763.5 L1391.2,761.3 L1392.0,757.3 L1392.8,750.7 L1393.5,741.1 L1394.2,728.8 L1395.0,715.2 L1395.8,702.4 L1396.5,693.2 L1397.2,689.7 L1397.3,689.7 L1398.0,692.8 L1398.8,701.9 L1399.5,714.9 L1400.2,729.0 L1401.0,742.1 L1401.8,752.5 L1402.5,760.0 L1403.2,764.8 L1404.0,767.6 L1404.8,769.1 L1405.0,769.4 L1405.5,769.8 L1406.2,770.1 L1407.0,770.3 L1407.8,770.6 L1408.5,770.8 L1409.2,770.6 L1410.0,770.4 L1410.8,770.3 L1411.5,770.5 L1412.2,770.7 L1413.0,770.7 L1413.8,770.5 L1414.5,770.4 L1415.2,770.5 L1416.0,770.8 L1416.8,771.3 L1417.5,771.2 L1418.2,770.9 L1419.0,771.3 L1419.8,772.1 L1420.5,772.0 L1421.2,771.6 L1422.0,771.4 L1422.8,771.2 L1423.5,771.0 L1424.2,770.8 L1425.0,770.9 L1425.8,771.0 L1426.5,770.5 L1427.2,770.0 L1428.0,770.5 L1428.8,771.2 L1429.5,771.5 L1430.2,771.7 L1431.0,771.6 L1431.8,771.5 L1432.5,771.2 L1433.2,770.9 L1434.0,771.2 L1434.8,771.5 L1435.5,771.5 L1436.2,771.5 L1437.0,771.3 L1437.8,771.1 L1438.5,771.2 L1439.2,771.3 L1440.0,771.5 L1440.8,771.7 L1441.5,771.5 L1442.2,771.3 L1443.0,771.1 L1443.8,770.9 L1444.5,771.0 L1445.2,771.1 L1446.0,771.1 L1446.8,771.0 L1447.5,770.5 L1448.2,770.2 L1449.0,770.7 L1449.8,771.1 L1450.5,771.0 L1451.2,770.7 L1452.0,770.1 L1452.8,769.7 L1453.5,769.9 L1454.2,770.4 L1455.0,771.4 L1455.8,771.8 L1456.5,771.3 L1457.2,771.2 L1458.0,771.5 L1458.8,771.4 L1459.5,770.9 L1460.2,771.0 L1461.0,771.5 L1461.8,771.6 L1462.5,771.3 L1463.2,770.9 L1464.0,770.5 L1464.8,770.6 L1465.5,770.9 L1466.2,771.2 L1467.0,771.6 L1467.8,771.8 L1468.5,772.0 L1469.2,771.7 L1470.0,771.2 L1470.8,770.8 L1471.5,770.5 L1472.2,770.3 L1473.0,770.2 L1473.8,770.5 L1474.5,771.0 L1475.2,771.2 L1476.0,771.3 L1476.8,771.0 L1477.5,770.7 L1478.2,770.6 L1479.0,770.5 L1479.8,770.8 L1480.5,771.0 L1481.2,770.9 L1482.0,770.8 L1482.8,770.8 L1483.5,770.7 L1484.2,770.1 L1485.0,769.6 L1485.8,769.9 L1486.5,770.3 L1487.2,771.0 L1488.0,771.5 L1488.8,770.9 L1489.5,770.5 L1490.2,771.2 L1491.0,771.6 L1491.8,771.0 L1492.5,770.5 L1493.2,770.3 L1494.0,770.2 L1494.8,770.3 L1495.5,770.5 L1496.2,770.6 L1497.0,770.5 L1497.8,770.1 L1498.5,769.9 L1499.2,770.2 L1500.0,770.3 L1500.8,770.1 L1501.5,770.2 L1502.2,770.7 L1503.0,770.7 L1503.8,770.1 L1504.5,769.9 L1505.2,770.1 L1506.0,769.9 L1506.8,769.4 L1507.5,769.1 L1508.2,769.1 L1509.0,769.4 L1509.8,769.7 L1510.5,769.7 L1511.2,769.4 L1512.0,769.4 L1512.8,769.6 L1513.5,769.7 L1514.2,769.9 L1515.0,769.9 L1515.8,770.0 L1516.5,769.6 L1517.2,768.9 L1518.0,769.1 L1518.8,769.4 L1519.5,769.6 L1520.2,769.9 L1521.0,769.6 L1521.8,769.1 L1522.5,768.9 L1523.2,768.6 L1524.0,768.7 L1524.8,768.9 L1525.5,769.5 L1526.2,770.2 L1527.0,769.7 L1527.8,769.2 L1528.5,769.6 L1529.2,770.1 L1530.0,769.5 L1530.8,768.9 L1531.5,769.3 L1532.2,769.7 L1533.0,768.9 L1533.8,768.1 L1534.5,768.5 L1535.2,768.8 L1536.0,768.9 L1536.8,769.0 L1537.5,769.5 L1538.2,769.8 L1539.0,769.4 L1539.8,769.1 L1540.5,769.3 L1541.2,769.3 L1542.0,768.8 L1542.8,768.5 L1543.5,768.4 L1544.2,768.6 L1545.0,769.1 L1545.8,769.4 L1546.5,769.5 L1547.2,769.5 L1548.0,769.4 L1548.8,769.4 L1549.5,769.3 L1550.2,769.1 L1551.0,768.6 L1551.8,768.7 L1552.0,768.9 L1552.5,769.5 L1553.2,769.6 L1554.0,769.0 L1554.8,768.9 L1555.5,769.3 L1556.2,769.4 L1557.0,769.3 L1557.8,768.8 L1558.5,768.1 L1559.2,767.8 L1560.0,767.8 L1560.8,767.9 L1561.5,768.0 L1562.2,768.5 L1563.0,769.0 L1563.8,769.4 L1564.5,769.8 L1565.2,769.7 L1566.0,769.3 L1566.8,769.5 L1567.5,769.9 L1568.2,769.5 L1569.0,768.9 L1569.8,769.0 L1570.0,769.1 L1570.5,769.2 L1571.2,769.2 L1572.0,769.2 L1572.8,769.5 L1573.5,769.8 L1574.2,769.5 L1575.0,769.2 L1575.8,769.5 L1576.5,769.9 L1577.2,770.1 L1578.0,770.3 L1578.8,770.0 L1579.5,769.8 L1580.2,769.9 L1581.0,770.0 L1581.8,770.0 L1582.5,770.0 L1583.2,770.0 L1583.3,770.0 L1584.0,768.9 L1584.8,766.2 L1585.5,763.0 L1586.0,761.4 L1586.2,760.7 L1587.0,758.8 L1587.8,756.9 L1588.0,756.4 L1588.5,755.0 L1589.2,752.9 L1590.0,751.1 L1590.8,750.2 L1590.9,750.2 L1591.5,751.4 L1592.2,755.2 L1593.0,759.8 L1593.3,761.4 L1593.8,764.2 L1594.5,768.9 L1594.8,769.6 L1595.2,770.0 L1596.0,770.6 L1596.8,771.0 L1597.5,771.3 L1598.2,771.5 L1599.0,771.6 L1599.6,771.6 L1599.8,771.6 L1600.5,771.5 L1601.2,771.4 L1602.0,771.4 L1602.8,771.7 L1603.5,771.7 L1604.2,771.4 L1605.0,771.4 L1605.7,771.5 L1605.8,771.5 L1606.5,771.4 L1607.2,771.0 L1608.0,770.4 L1608.8,769.6 L1609.5,769.1 L1610.2,768.7 L1611.0,768.5 L1611.8,768.4 L1612.5,768.3 L1613.2,768.4 L1614.0,768.6 L1614.8,768.9 L1615.5,768.5 L1616.2,768.0 L1616.4,767.9 L1617.0,767.8 L1617.8,768.1 L1618.5,769.1 L1619.2,770.2 L1620.0,770.9 L1620.8,771.5 L1621.0,771.5 L1621.5,771.5 L1622.2,771.5 L1623.0,771.7 L1623.8,771.9 L1624.5,771.4 L1625.2,770.9 L1626.0,770.7 L1626.8,770.5 L1627.5,770.5 L1628.2,770.5 L1629.0,770.1 L1629.8,769.8 L1630.5,770.0 L1631.2,770.2 L1631.2,770.3 L1632.0,770.9 L1632.8,771.4 L1633.5,771.7 L1634.2,771.8 L1635.0,771.5 L1635.8,771.3 L1636.5,771.0 L1637.2,770.7 L1638.0,770.6 L1638.8,770.5 L1639.5,770.6 L1640.2,770.5 L1641.0,769.9 L1641.8,769.7 L1642.5,770.5 L1643.2,770.9 L1644.0,771.0 L1644.8,770.9 L1645.5,770.7 L1646.2,770.6 L1647.0,770.9 L1647.8,771.0 L1648.5,770.8 L1649.2,771.2 L1650.0,772.2 L1650.6,772.5 L1650.8,772.5 L1651.5,772.5 L1652.2,771.9 L1653.0,770.9 L1653.8,770.8 L1654.5,770.9 L1655.2,770.8 L1656.0,770.5 L1656.7,770.3 L1656.8,770.3 L1657.5,769.7 L1658.2,768.2 L1659.0,766.4 L1659.8,765.3 L1659.8,765.3 L1660.5,764.8 L1661.2,764.4 L1662.0,764.2 L1662.8,763.8 L1663.4,763.5 L1663.5,763.5 L1664.2,763.8 L1665.0,764.6 L1665.8,765.7 L1666.5,766.9 L1666.9,767.5 L1667.2,768.0 L1668.0,769.5 L1668.8,770.8 L1669.5,772.1 L1670.2,773.3 L1671.0,774.0 L1671.8,773.7 L1672.5,773.2 L1673.2,773.2 L1674.0,773.3 L1674.8,773.1 L1675.5,772.8 L1676.1,772.7 L1676.2,772.6 L1677.0,772.2 L1677.8,771.4 L1678.5,770.5 L1679.2,769.9 L1680.0,769.5 L1680.8,769.3 L1681.2,769.3 L1681.5,769.3 L1682.2,769.2 L1683.0,769.3 L1683.8,769.7 L1684.5,769.9 L1685.2,769.6 L1686.0,769.6 L1686.8,770.3 L1687.3,770.8 L1687.5,770.8 L1688.2,771.0 L1689.0,770.8 L1689.8,770.0 L1690.5,769.7 L1691.2,770.2 L1692.0,770.3 L1692.8,769.9 L1693.5,770.1 L1694.2,770.8 L1695.0,771.1 L1695.8,771.2 L1696.5,771.4 L1697.2,771.5 L1697.6,771.5 L1698.0,771.7 L1698.8,772.6 L1699.5,773.4 L1699.6,773.4 L1700.2,773.6 L1701.0,773.8 L1701.8,774.1 L1702.5,774.0 L1703.2,773.9 L1704.0,773.5 L1704.7,773.1 L1704.8,773.1 L1705.5,772.8 L1706.2,772.7 L1707.0,773.1 L1707.8,773.6 L1708.5,773.9 L1709.2,774.1 L1710.0,774.3 L1710.8,774.5 L1711.5,774.8 L1712.2,775.1 L1712.9,775.5 L1713.0,775.6 L1713.8,776.0 L1714.5,775.9 L1715.2,775.6 L1716.0,775.4 L1716.8,775.2 L1717.5,774.7 L1718.0,774.3 L1718.2,774.1 L1719.0,773.6 L1719.8,772.8 L1720.5,772.4 L1721.2,771.8 L1722.0,770.6 L1722.8,769.8 L1723.5,769.1 L1724.2,768.2 L1725.0,766.9 L1725.6,765.5 L1725.8,764.8 L1726.5,757.3 L1727.1,751.2 L1727.2,750.2 L1728.0,744.9 L1728.8,741.0 L1729.2,740.2 L1729.5,740.4 L1730.2,742.7 L1731.0,746.6 L1731.7,751.2 L1731.8,751.6 L1732.5,761.0 L1733.2,771.2 L1733.3,771.6 L1734.0,777.5 L1734.8,781.7 L1734.8,781.8 L1735.5,783.4 L1736.2,784.7 L1737.0,785.7 L1737.8,786.5 L1738.5,787.0 L1739.2,787.6 L1739.4,787.9 L1740.0,788.9 L1740.8,789.9 L1741.5,790.6 L1742.2,791.0 L1743.0,791.1 L1743.8,791.6 L1744.5,792.3 L1745.2,792.4 L1746.0,792.0 L1746.8,792.4 L1747.5,793.3 L1747.6,793.4 L1748.2,793.3 L1749.0,792.9 L1749.8,792.3 L1750.5,791.7 L1751.2,791.0 L1751.5,790.7 L1752.0,790.1 L1752.8,788.5 L1753.5,786.3 L1754.2,783.3 L1754.2,783.0 L1755.0,774.6 L1755.2,772.4 L1755.8,767.4 L1756.2,763.3 L1756.5,760.3 L1757.2,752.8 L1757.2,752.2 L1758.0,743.1 L1758.3,739.4 L1758.8,734.0 L1759.3,727.8 L1759.5,725.6 L1760.2,718.4 L1760.3,718.1 L1761.0,715.1 L1761.1,715.0 L1761.8,716.5 L1762.1,718.2 L1762.5,722.0 L1762.7,725.5 L1763.2,758.0 L1763.2,759.4 L1764.0,772.9 L1764.6,783.5 L1764.8,785.6 L1765.5,793.6 L1766.2,797.1 L1767.0,799.1 L1767.8,800.6 L1768.5,801.7 L1769.2,802.2 L1769.3,802.2 L1770.0,802.1 L1770.8,802.1 L1771.5,802.3 L1772.0,802.3 L1772.2,802.3 L1773.0,802.4 L1773.8,802.4 L1774.5,802.4 L1775.2,802.5 L1776.0,802.6 L1776.8,802.2 L1777.5,802.0 L1778.2,802.4 L1779.0,802.6 L1779.8,802.5 L1780.5,802.4 L1781.2,802.5 L1782.0,802.7 L1782.8,802.8 L1783.5,802.8 L1784.2,802.5 L1785.0,802.3 L1785.8,802.3 L1786.5,802.4 L1787.2,802.5 L1788.0,802.6 L1788.8,802.5 L1789.5,802.4 L1790.0,802.4 L1790.2,802.4 L1791.0,802.5 L1791.8,802.8 L1792.5,803.0 L1793.2,803.2 L1794.0,803.2 L1794.8,803.1 L1795.5,803.1 L1796.2,803.3 L1797.0,803.5 L1797.8,803.8 L1798.5,803.7 L1799.2,803.5 L1800.0,803.4 L1800.8,803.4 L1801.5,803.4 L1802.2,803.4 L1803.0,803.4 L1803.8,803.5 L1804.5,803.4 L1805.2,803.4 L1806.0,803.5 L1806.8,803.6 L1807.5,803.5 L1808.2,803.5 L1809.0,803.6 L1809.8,803.6 L1810.5,803.6 L1811.2,803.5 L1812.0,803.5 L1812.8,803.4 L1813.5,803.3 L1814.2,803.2 L1815.0,803.2 L1815.8,803.2 L1816.5,803.3 L1817.2,803.4 L1818.0,803.4 L1818.8,803.4 L1819.5,803.5 L1820.2,803.5 L1821.0,803.5 L1821.8,803.4 L1822.5,803.4 L1823.2,803.4 L1824.0,803.7 L1824.8,803.9 L1825.5,803.7 L1826.2,803.6 L1827.0,803.7 L1827.8,803.7 L1828.5,803.4 L1829.2,803.3 L1830.0,803.6 L1830.8,803.7 L1831.5,803.7 L1832.2,803.7 L1833.0,803.6 L1833.8,803.5 L1834.5,803.4 L1835.2,803.4 L1836.0,803.7 L1836.8,803.7 L1837.5,803.4 L1838.2,803.3 L1839.0,803.2 L1839.8,803.2 L1840.5,803.1 L1841.2,803.3 L1842.0,803.4 L1842.8,803.5 L1843.5,803.4 L1844.2,803.5 L1845.0,803.6 L1845.8,803.7 L1846.5,803.7 L1847.2,803.7 L1848.0,803.8 L1848.8,803.7 L1849.5,803.6 L1850.2,803.6 L1851.0,803.5 L1851.8,803.5 L1852.5,803.5 L1853.2,803.4 L1854.0,803.4 L1854.8,803.3 L1855.5,803.3 L1856.2,803.3 L1857.0,803.4 L1857.8,803.5 L1858.5,803.6 L1859.2,803.5 L1860.0,803.3 L1860.8,803.4 L1861.5,803.5 L1862.2,803.6 L1863.0,803.7 L1863.8,803.4 L1864.5,803.1 L1865.2,803.2 L1866.0,803.3 L1866.8,803.3 L1867.5,803.3 L1868.2,803.4 L1869.0,803.5 L1869.8,803.3 L1870.5,803.2 L1871.2,803.3 L1872.0,803.5 L1872.8,803.8 L1873.5,803.9 L1874.2,803.5 L1875.0,803.3 L1875.8,803.4 L1876.5,803.5 L1877.2,803.6 L1878.0,803.6 L1878.8,803.5 L1879.5,803.4 L1880.2,803.3 L1881.0,803.4 L1881.8,803.6 L1882.5,803.6 L1883.2,803.3 L1884.0,803.2 L1884.8,803.3 L1885.5,803.4 L1886.2,803.4 L1887.0,803.5 L1887.8,803.4 L1888.5,803.5 L1889.2,803.7 L1890.0,803.7 L1890.8,803.5 L1891.5,803.6 L1892.2,803.9 L1893.0,803.8 L1893.8,803.6 L1894.5,803.6 L1895.2,803.8 L1896.0,803.8 L1896.8,803.7 L1897.5,803.6 L1898.2,803.5 L1899.0,803.5 L1899.8,803.5 L1900.5,803.6 L1901.2,803.7 L1902.0,803.6 L1902.8,803.4 L1903.5,803.5 L1904.2,803.5 L1905.0,803.4 L1905.8,803.4 L1906.5,803.2 L1907.2,803.1 L1908.0,803.4 L1908.8,803.7 L1909.5,803.7 L1910.2,803.7 L1911.0,803.5 L1911.8,803.3 L1912.5,803.5 L1913.2,803.6 L1914.0,803.6 L1914.8,803.5 L1915.5,803.3 L1916.2,803.1 L1917.0,803.2 L1917.8,803.4 L1918.5,803.6 L1919.2,803.7 L1920.0,803.7 L1920.8,803.8 L1921.5,803.7 L1922.2,803.7 L1923.0,803.9 L1923.8,804.0 L1924.5,803.8 L1925.2,803.6 L1926.0,803.5 L1926.8,803.4 L1927.5,803.3 L1928.2,803.4 L1929.0,803.7 L1929.8,803.8 L1930.5,803.6 L1931.2,803.5 L1932.0,803.5 L1932.8,803.5 L1933.5,803.4 L1934.0,803.4 L1934.2,803.4 L1935.0,803.4 L1935.8,803.4 L1936.5,803.5 L1937.2,803.6 L1938.0,803.7 L1938.8,803.7 L1939.5,803.7 L1940.2,803.7 L1941.0,803.7 L1941.8,803.7 L1942.5,803.8 L1943.2,803.7 L1944.0,803.6 L1944.8,803.5 L1945.5,803.4 L1946.2,803.5 L1947.0,803.6 L1947.8,803.4 L1948.5,803.2 L1949.2,803.5 L1950.0,803.7 L1950.8,803.7 L1951.5,803.5 L1952.2,803.3 L1953.0,803.0 L1953.8,802.5 L1954.5,802.0 L1955.2,801.9 L1955.7,801.9 L1956.0,801.9 L1956.8,802.1 L1957.5,802.5 L1958.2,802.8 L1959.0,803.0 L1959.8,803.2 L1960.5,803.3 L1961.2,803.5 L1962.0,803.6 L1962.8,803.7 L1963.5,803.7 L1964.2,803.6 L1965.0,803.6 L1965.8,803.8 L1966.5,804.0 L1967.2,804.1 L1968.0,804.2 L1968.8,804.0 L1969.5,803.8 L1970.2,803.7 L1971.0,803.7 L1971.8,803.7 L1972.5,803.7 L1973.2,804.0 L1974.0,804.1 L1974.8,803.9 L1975.5,803.8 L1976.2,803.9 L1977.0,803.9 L1977.8,803.8 L1978.5,803.8 L1979.2,803.7 L1980.0,803.8 L1980.8,804.0 L1981.5,804.0 L1982.2,803.8 L1983.0,803.8 L1983.8,803.8 L1984.5,803.7 L1985.2,803.4 L1986.0,803.6 L1986.8,804.1 L1987.5,804.2 L1988.2,804.0 L1989.0,803.9 L1989.8,803.8 L1990.5,803.8 L1991.2,803.7 L1992.0,803.7 L1992.8,803.7 L1993.5,803.6 L1994.2,803.5 L1995.0,803.7 L1995.8,803.9 L1996.5,803.9 L1997.2,803.7 L1998.0,803.8 L1998.8,804.0 L1999.5,804.0 L2000.2,804.0 L2001.0,804.2 L2001.8,804.3 L2002.5,804.2 L2003.2,804.0 L2004.0,804.0 L2004.8,804.0 L2005.5,804.0 L2006.2,804.1 L2007.0,803.9 L2007.8,803.8 L2008.5,803.9 L2009.2,803.9 L2010.0,804.0 L2010.8,804.1 L2011.5,804.2 L2012.2,804.3 L2013.0,804.2 L2013.8,804.2 L2014.5,804.1 L2015.2,804.0 L2016.0,804.2 L2016.8,804.3 L2017.5,804.1 L2018.2,804.0 L2019.0,803.8 L2019.8,803.9 L2020.5,804.2 L2021.2,804.4 L2022.0,804.2 L2022.8,804.1 L2023.5,804.1 L2024.2,804.0 L2025.0,803.9 L2025.8,803.9 L2026.5,804.0 L2027.2,804.2 L2028.0,804.4 L2028.8,804.5 L2029.5,804.3 L2030.2,804.3 L2031.0,804.6 L2031.8,804.6 L2032.5,804.3 L2033.2,804.3 L2034.0,804.5 L2034.8,804.4 L2035.5,804.3 L2036.2,804.3 L2037.0,804.2 L2037.8,804.2 L2038.5,804.2 L2039.2,804.3 L2040.0,804.3 L2040.8,804.3 L2041.5,804.2 L2042.2,804.2 L2043.0,804.1 L2043.8,804.1 L2044.5,804.0 L2045.2,803.7 L2046.0,803.1 L2046.8,802.2 L2047.5,801.1 L2048.2,800.1 L2049.0,799.4 L2049.7,799.2 L2049.8,799.2 L2050.5,799.4 L2051.2,800.3 L2052.0,801.5 L2052.8,802.5 L2053.5,803.4 L2054.2,803.9 L2055.0,804.2 L2055.8,804.5 L2056.5,804.7 L2057.2,804.8 L2058.0,804.8 L2058.8,804.7 L2059.5,804.7 L2060.2,805.0 L2061.0,805.3 L2061.8,805.3 L2062.5,805.2 L2063.2,805.2 L2064.0,805.1 L2064.8,805.3 L2065.5,805.3 L2066.2,805.1 L2067.0,805.0 L2067.8,805.1 L2068.0,805.2 L2068.5,805.2 L2069.2,805.4 L2070.0,805.4 L2070.8,805.2 L2071.5,805.2 L2072.2,805.2 L2073.0,805.2 L2073.8,805.1 L2074.5,805.1 L2075.2,805.3 L2076.0,805.4 L2076.8,805.5 L2077.5,805.4 L2078.2,805.2 L2079.0,805.1 L2079.8,805.2 L2080.5,805.2 L2081.2,805.3 L2082.0,805.5 L2082.8,805.6 L2083.5,805.6 L2084.2,805.4 L2085.0,805.3 L2085.8,805.3 L2086.5,805.3 L2087.2,805.4 L2088.0,805.6 L2088.8,805.7 L2089.5,805.5 L2090.2,805.2 L2091.0,805.3 L2091.8,805.5 L2092.5,805.7 L2093.2,805.8 L2094.0,805.7 L2094.8,805.6 L2095.5,805.6 L2096.2,805.6 L2097.0,805.7 L2097.8,805.8 L2098.5,805.6 L2099.2,805.4 L2100.0,805.7 L2100.8,806.0 L2101.5,805.7 L2102.2,805.4 L2103.0,805.0 L2103.8,804.5 L2104.5,804.0 L2105.2,803.4 L2106.0,802.8 L2106.8,802.4 L2107.3,802.3 L2107.5,802.3 L2108.2,802.5 L2109.0,803.0 L2109.8,803.6 L2110.5,804.3 L2111.2,804.9 L2112.0,805.1 L2112.8,805.4 L2113.5,805.8 L2114.2,806.0 L2115.0,805.8 L2115.8,805.7 L2116.5,805.7 L2117.2,805.7 L2118.0,805.8 L2118.8,805.8 L2119.5,806.0 L2120.2,806.1 L2121.0,806.0 L2121.8,806.0 L2122.5,806.2 L2123.2,806.2 L2124.0,806.0 L2124.8,805.9 L2125.5,806.0 L2126.2,806.0 L2127.0,806.0 L2127.8,806.0 L2128.5,806.0 L2129.2,806.1 L2130.0,806.3 L2130.8,806.3 L2131.5,806.3 L2132.2,806.4 L2133.0,806.4 L2133.8,806.2 L2134.5,805.9 L2135.2,805.9 L2136.0,806.1 L2136.8,805.9 L2137.5,805.6 L2138.2,805.4 L2139.0,805.1 L2139.8,804.7 L2140.5,804.3 L2141.2,804.1 L2142.0,804.0 L2142.5,804.1 L2142.8,804.2 L2143.5,804.5 L2144.2,804.8 L2145.0,805.3 L2145.8,805.6 L2146.5,806.0 L2147.2,805.9 L2148.0,805.8 L2148.8,806.0 L2149.5,806.1 L2150.2,806.2 L2151.0,806.3 L2151.8,806.3 L2152.5,806.3 L2153.2,806.3 L2154.0,806.3 L2154.8,806.1 L2155.5,806.0 L2156.2,806.1 L2157.0,806.3 L2157.8,806.4 L2158.5,806.5 L2159.2,806.4 L2160.0,806.4 L2160.8,806.4 L2161.0,806.4 L2161.5,806.4 L2162.2,806.3 L2163.0,806.3 L2163.8,806.4 L2164.5,806.6 L2165.2,806.8 L2166.0,806.9 L2166.8,806.8 L2167.5,806.8 L2168.2,807.0 L2169.0,807.1 L2169.8,807.2 L2170.5,807.1 L2171.2,806.9 L2172.0,806.9 L2172.8,807.2 L2173.5,807.3 L2174.2,807.4 L2175.0,807.5 L2175.8,807.6 L2176.0,807.7 L2176.5,807.6 L2177.2,807.5 L2178.0,807.5 L2178.8,807.6 L2179.5,807.7 L2180.2,807.7 L2181.0,807.9 L2181.8,808.1 L2182.5,808.1 L2183.0,808.2"/>
<path id="c-green" stroke="#00AE67" d="M186.0,614.6 L186.8,615.5 L187.5,615.5 L188.2,615.2 L189.0,615.4 L189.8,615.7 L190.5,615.5 L191.2,615.2 L192.0,615.5 L192.8,615.9 L193.5,615.4 L194.2,614.9 L195.0,614.6 L195.8,614.4 L196.5,614.7 L197.2,615.0 L198.0,614.9 L198.8,614.8 L199.5,614.6 L200.2,614.3 L201.0,614.3 L201.8,614.3 L202.5,614.6 L203.2,614.8 L204.0,614.8 L204.8,614.7 L205.5,614.3 L206.2,614.0 L207.0,614.0 L207.8,613.9 L208.5,613.4 L209.2,613.2 L210.0,614.3 L210.8,614.9 L211.5,614.3 L212.2,614.0 L213.0,614.5 L213.8,614.7 L214.5,614.4 L215.2,614.3 L216.0,614.8 L216.8,615.0 L217.5,614.8 L218.2,614.6 L219.0,614.2 L219.8,614.1 L220.5,614.4 L221.2,614.3 L222.0,613.5 L222.8,613.4 L223.5,614.1 L224.2,614.0 L225.0,613.1 L225.8,613.0 L226.5,613.6 L227.2,613.9 L228.0,614.1 L228.8,614.0 L229.5,613.8 L230.2,613.6 L231.0,613.4 L231.8,613.2 L232.5,613.1 L233.2,613.1 L234.0,613.2 L234.8,613.6 L235.5,614.0 L236.2,614.0 L237.0,614.0 L237.8,613.7 L238.5,613.3 L239.2,613.0 L240.0,612.7 L240.8,613.2 L241.5,613.7 L242.2,613.2 L243.0,612.6 L243.8,612.8 L244.5,613.1 L245.0,613.1 L245.2,613.0 L246.0,613.0 L246.8,613.4 L247.5,613.6 L248.2,613.4 L249.0,613.2 L249.8,612.9 L250.5,612.1 L251.2,610.7 L252.0,608.3 L252.8,605.1 L253.5,601.5 L254.2,598.4 L255.0,596.6 L255.3,596.5 L255.8,596.9 L256.5,599.0 L257.2,602.3 L258.0,605.8 L258.8,608.9 L259.5,611.0 L260.2,612.3 L261.0,612.9 L261.8,613.3 L262.5,613.5 L263.2,613.6 L264.0,613.7 L264.8,613.8 L265.5,613.9 L266.2,613.7 L267.0,613.8 L267.8,614.1 L268.5,614.1 L269.2,613.5 L270.0,613.1 L270.8,613.1 L271.5,613.1 L272.2,613.0 L273.0,613.2 L273.8,613.5 L274.5,613.4 L275.2,613.0 L276.0,612.9 L276.8,612.8 L277.5,613.1 L278.2,613.5 L279.0,613.7 L279.8,613.8 L280.5,613.7 L281.2,613.5 L282.0,612.8 L282.8,611.9 L283.5,612.0 L284.2,612.3 L285.0,612.4 L285.8,612.3 L286.5,612.2 L287.2,612.1 L288.0,612.3 L288.8,612.5 L289.5,613.1 L290.2,613.7 L291.0,613.2 L291.8,612.5 L292.5,612.3 L293.2,612.1 L294.0,612.5 L294.8,612.9 L295.5,612.7 L296.2,612.4 L297.0,612.4 L297.8,612.4 L298.5,612.1 L299.2,611.8 L300.0,612.0 L300.8,612.2 L301.5,612.2 L302.2,612.2 L303.0,611.4 L303.8,610.8 L304.5,610.9 L305.2,611.1 L306.0,611.8 L306.8,612.4 L307.5,612.3 L308.2,612.0 L309.0,611.6 L309.8,611.2 L310.5,611.0 L311.2,610.9 L312.0,611.1 L312.8,611.1 L313.5,610.7 L314.2,610.6 L315.0,610.8 L315.8,611.2 L316.5,611.7 L317.2,611.8 L318.0,611.2 L318.8,611.1 L319.5,611.4 L320.2,611.2 L321.0,610.8 L321.8,610.6 L322.5,610.7 L323.2,610.9 L324.0,611.2 L324.8,610.7 L325.5,609.8 L326.2,609.7 L327.0,609.9 L327.8,610.0 L328.5,610.0 L329.2,610.0 L330.0,610.1 L330.8,610.4 L331.5,610.7 L332.2,610.5 L333.0,610.2 L333.8,609.6 L334.5,608.8 L335.2,609.0 L336.0,609.3 L336.8,609.1 L337.5,608.9 L338.2,608.8 L339.0,608.7 L339.8,609.5 L340.5,610.3 L341.2,609.4 L342.0,608.4 L342.8,608.7 L343.5,609.0 L344.2,608.7 L345.0,608.4 L345.8,608.8 L346.5,609.1 L347.2,608.9 L348.0,608.7 L348.8,608.6 L349.5,608.5 L350.2,608.3 L351.0,608.3 L351.8,608.6 L352.0,608.7 L352.5,608.7 L353.2,608.0 L354.0,607.5 L354.8,607.5 L355.5,607.4 L356.2,607.2 L357.0,607.2 L357.8,607.9 L358.5,608.1 L359.2,607.5 L360.0,607.0 L360.8,606.7 L361.5,606.5 L362.2,606.6 L363.0,607.0 L363.8,607.7 L364.5,607.7 L365.2,606.9 L366.0,606.6 L366.8,606.8 L367.5,606.8 L368.2,606.6 L369.0,606.4 L369.8,606.2 L370.5,606.0 L371.2,605.8 L372.0,605.8 L372.8,605.9 L372.8,605.9 L373.5,605.9 L374.2,606.0 L375.0,605.7 L375.8,605.2 L376.5,606.1 L377.2,607.6 L378.0,607.8 L378.8,607.6 L379.5,607.6 L380.2,607.6 L381.0,607.7 L381.8,607.8 L382.5,607.9 L383.2,608.0 L384.0,608.7 L384.8,609.5 L385.5,609.5 L386.2,609.4 L387.0,609.8 L387.8,610.3 L388.5,610.0 L389.2,609.7 L390.0,610.4 L390.8,611.1 L391.5,611.8 L392.2,612.4 L393.0,611.8 L393.8,611.3 L394.5,611.7 L395.2,612.0 L396.0,611.8 L396.8,611.7 L397.5,612.0 L398.2,612.3 L399.0,612.2 L399.8,612.2 L400.5,611.9 L401.2,611.6 L402.0,611.4 L402.8,611.3 L403.5,611.6 L404.2,611.7 L405.0,611.6 L405.8,611.5 L406.5,611.3 L407.2,611.3 L408.0,611.6 L408.8,611.8 L409.5,611.8 L410.2,611.6 L411.0,611.2 L411.8,611.1 L412.5,611.3 L413.2,611.8 L414.0,612.4 L414.8,612.6 L415.5,612.1 L416.2,611.8 L417.0,611.6 L417.8,611.8 L418.5,612.5 L419.2,612.2 L420.0,611.4 L420.8,610.7 L421.5,610.2 L422.2,610.1 L423.0,610.1 L423.8,610.2 L424.5,610.3 L425.2,610.8 L426.0,611.3 L426.8,611.6 L427.5,611.8 L428.2,611.0 L429.0,610.0 L429.8,610.7 L430.5,611.7 L431.2,611.2 L432.0,610.5 L432.8,610.8 L433.5,611.2 L434.2,611.3 L435.0,611.3 L435.8,611.3 L436.5,611.3 L437.2,611.1 L438.0,611.0 L438.8,611.0 L439.5,611.0 L440.2,610.6 L441.0,610.2 L441.8,610.6 L442.5,611.0 L443.2,611.2 L444.0,611.4 L444.8,611.3 L445.5,611.4 L446.2,611.7 L447.0,611.9 L447.8,611.6 L448.5,611.3 L449.2,611.1 L450.0,611.1 L450.8,611.4 L451.5,611.4 L452.2,611.0 L453.0,610.5 L453.8,610.0 L454.5,609.6 L455.2,609.3 L456.0,609.5 L456.8,610.5 L457.5,611.0 L458.2,610.8 L459.0,610.7 L459.8,610.7 L460.5,610.6 L461.2,610.2 L462.0,610.1 L462.8,610.3 L463.5,610.6 L464.2,611.1 L465.0,611.0 L465.8,610.5 L466.5,610.0 L467.2,609.5 L468.0,609.5 L468.8,609.7 L469.5,610.1 L470.2,610.6 L471.0,610.2 L471.8,609.4 L472.5,608.9 L473.2,608.6 L474.0,608.5 L474.8,608.5 L475.5,608.6 L476.2,608.9 L477.0,609.4 L477.8,610.1 L478.5,609.9 L479.2,609.7 L480.0,609.4 L480.8,609.1 L481.5,608.9 L482.2,608.7 L483.0,609.1 L483.8,609.4 L484.5,609.4 L485.2,609.3 L486.0,609.2 L486.8,609.0 L487.5,609.1 L488.2,609.2 L489.0,609.0 L489.8,608.9 L490.5,609.6 L491.2,610.1 L492.0,608.9 L492.8,608.0 L493.5,608.6 L494.2,609.1 L495.0,608.7 L495.8,608.6 L496.5,609.1 L497.2,609.4 L498.0,609.1 L498.8,608.9 L499.5,609.0 L500.2,609.2 L501.0,609.2 L501.8,609.2 L502.5,609.0 L503.2,609.1 L504.0,609.3 L504.8,609.1 L505.5,608.3 L506.2,608.2 L507.0,608.9 L507.8,609.1 L508.0,609.0 L508.5,608.7 L509.2,608.6 L510.0,608.8 L510.8,609.0 L511.5,609.4 L512.2,609.4 L513.0,609.3 L513.8,609.4 L514.5,609.6 L515.2,608.9 L516.0,607.6 L516.8,607.4 L517.5,607.7 L518.2,608.3 L519.0,608.8 L519.8,608.5 L520.5,607.8 L521.2,607.9 L522.0,608.1 L522.8,608.6 L523.5,609.2 L524.2,609.1 L525.0,608.8 L525.8,608.3 L526.5,607.7 L527.2,608.0 L528.0,608.4 L528.8,608.5 L529.5,608.5 L530.2,608.3 L531.0,608.1 L531.8,608.0 L532.5,608.0 L533.2,608.0 L534.0,608.0 L534.8,607.5 L535.5,607.1 L536.2,607.6 L537.0,607.9 L537.8,607.6 L538.5,607.3 L539.2,607.7 L540.0,608.1 L540.8,608.0 L541.5,608.0 L542.2,607.5 L543.0,607.3 L543.8,607.7 L544.5,608.0 L545.2,607.9 L546.0,607.8 L546.8,607.7 L547.5,607.7 L548.2,607.9 L549.0,607.9 L549.8,607.5 L550.5,607.3 L551.2,607.3 L552.0,607.4 L552.8,607.4 L553.5,607.5 L554.2,607.4 L555.0,607.5 L555.8,607.9 L556.5,607.5 L557.2,606.5 L558.0,606.3 L558.8,606.8 L559.5,606.8 L560.2,606.2 L561.0,606.3 L561.8,606.7 L562.5,607.0 L563.2,607.2 L564.0,607.2 L564.8,607.1 L565.5,607.3 L566.2,607.5 L567.0,607.5 L567.8,607.2 L568.5,606.6 L569.2,605.8 L570.0,605.9 L570.8,606.2 L571.5,606.9 L572.2,607.7 L573.0,607.8 L573.8,607.8 L574.5,607.3 L575.2,606.9 L576.0,606.3 L576.8,605.8 L577.5,606.8 L578.2,607.9 L579.0,606.7 L579.8,605.4 L580.5,606.1 L581.2,606.8 L582.0,606.6 L582.8,606.5 L583.5,606.6 L584.2,606.6 L585.0,606.1 L585.8,605.8 L586.5,606.0 L587.2,606.2 L588.0,606.6 L588.8,606.9 L589.5,606.4 L590.2,605.9 L591.0,605.6 L591.8,605.5 L592.5,605.9 L593.2,606.2 L594.0,606.2 L594.8,606.2 L595.5,606.1 L596.2,605.9 L597.0,605.7 L597.8,605.7 L598.5,606.1 L599.2,606.2 L600.0,606.0 L600.8,605.7 L601.5,605.4 L602.2,605.4 L603.0,605.8 L603.8,605.9 L604.5,605.8 L605.2,605.8 L606.0,605.8 L606.8,605.5 L607.5,604.9 L608.2,604.8 L609.0,605.1 L609.8,605.4 L610.5,605.7 L611.2,605.9 L612.0,606.1 L612.8,606.0 L613.5,605.8 L614.2,605.6 L615.0,605.6 L615.8,605.7 L616.5,605.8 L617.2,605.9 L618.0,605.9 L618.8,606.1 L619.5,606.3 L620.2,606.0 L621.0,605.6 L621.8,605.2 L622.5,604.9 L623.2,605.1 L624.0,605.4 L624.8,604.7 L625.5,604.0 L626.2,604.5 L627.0,605.1 L627.8,604.9 L628.5,604.8 L629.2,604.9 L630.0,605.0 L630.8,605.1 L631.5,605.2 L632.2,605.1 L633.0,604.9 L633.8,604.4 L634.5,604.0 L635.2,604.3 L636.0,604.6 L636.8,604.4 L637.5,604.3 L638.2,604.5 L639.0,604.7 L639.8,604.8 L640.5,604.7 L641.2,604.3 L642.0,604.2 L642.8,604.7 L643.5,605.0 L644.2,605.2 L645.0,605.1 L645.8,604.6 L646.5,604.4 L647.2,604.7 L648.0,604.5 L648.8,603.8 L649.5,603.6 L650.2,603.8 L651.0,604.2 L651.8,604.6 L652.5,604.4 L653.2,603.5 L654.0,603.3 L654.8,603.7 L655.5,603.7 L656.2,603.6 L657.0,603.9 L657.8,604.5 L658.5,604.7 L659.2,604.6 L660.0,604.2 L660.8,603.7 L661.5,603.6 L662.2,603.8 L663.0,603.3 L663.8,602.6 L664.5,603.1 L665.2,604.0 L666.0,604.0 L666.8,603.9 L667.5,604.0 L668.2,604.3 L669.0,603.4 L669.8,602.3 L670.5,602.8 L671.2,603.6 L672.0,603.4 L672.8,603.1 L673.5,602.5 L674.2,601.9 L675.0,602.3 L675.8,602.8 L676.5,602.9 L677.2,603.1 L678.0,603.3 L678.8,603.5 L679.5,603.2 L680.2,603.0 L681.0,602.7 L681.8,602.6 L682.5,602.8 L683.2,603.0 L684.0,602.8 L684.8,602.5 L685.5,602.3 L686.2,602.1 L687.0,602.0 L687.8,601.9 L688.5,602.2 L689.2,602.4 L690.0,602.4 L690.8,602.5 L691.5,602.9 L692.2,602.9 L693.0,602.1 L693.8,601.8 L694.5,602.3 L695.2,602.4 L696.0,601.9 L696.8,601.7 L697.5,601.9 L698.2,601.7 L699.0,601.0 L699.8,600.7 L700.0,600.7 L700.5,600.7 L701.2,600.8 L702.0,601.0 L702.8,601.3 L703.5,601.7 L704.2,601.7 L705.0,601.6 L705.8,601.6 L706.5,601.9 L707.2,601.9 L708.0,601.8 L708.8,602.0 L709.5,602.3 L710.2,602.2 L711.0,602.1 L711.8,601.9 L712.5,601.8 L713.2,602.1 L714.0,602.5 L714.8,602.5 L715.5,602.4 L716.2,602.9 L717.0,603.5 L717.8,603.1 L718.5,602.6 L719.2,602.7 L720.0,602.8 L720.8,602.8 L721.5,602.7 L722.2,603.2 L723.0,603.6 L723.8,603.6 L724.5,603.5 L725.2,603.4 L726.0,603.3 L726.8,602.7 L727.5,602.1 L728.2,601.8 L729.0,601.6 L729.8,601.8 L730.5,601.9 L731.2,601.6 L732.0,601.4 L732.8,601.2 L733.5,600.8 L734.2,599.5 L735.0,598.6 L735.8,598.7 L736.5,598.7 L737.2,598.1 L738.0,597.7 L738.5,597.8 L738.8,597.9 L739.5,598.2 L740.2,598.5 L741.0,599.0 L741.8,599.6 L742.5,599.9 L743.2,599.8 L744.0,599.9 L744.8,600.3 L745.5,600.7 L746.2,601.2 L747.0,601.9 L747.8,602.8 L748.5,603.6 L749.2,604.2 L750.0,604.1 L750.8,603.4 L751.5,603.5 L752.0,603.9 L752.2,604.1 L753.0,604.4 L753.8,604.7 L754.5,605.2 L755.2,606.0 L756.0,606.2 L756.8,606.3 L757.5,606.7 L758.2,607.3 L759.0,607.0 L759.8,606.5 L760.5,606.7 L761.2,607.2 L762.0,607.3 L762.8,607.3 L763.5,607.2 L764.2,607.1 L765.0,607.3 L765.8,607.6 L766.5,607.3 L767.2,607.0 L768.0,607.9 L768.8,608.9 L769.5,608.4 L770.2,607.9 L771.0,607.4 L771.8,607.0 L772.5,607.1 L773.2,607.2 L774.0,607.9 L774.8,608.4 L775.5,607.7 L776.2,607.1 L777.0,607.5 L777.8,607.7 L778.5,607.6 L779.2,607.6 L780.0,607.7 L780.8,607.7 L781.5,607.6 L782.2,607.3 L783.0,607.0 L783.8,606.8 L784.5,606.6 L785.2,606.3 L786.0,605.9 L786.8,605.8 L787.5,606.3 L788.2,606.6 L789.0,606.6 L789.8,606.5 L790.5,606.3 L791.2,606.2 L792.0,606.2 L792.8,606.0 L793.5,605.7 L794.2,606.0 L795.0,607.0 L795.8,606.9 L796.5,606.1 L797.2,605.6 L798.0,605.4 L798.8,605.3 L799.5,605.4 L800.2,605.5 L801.0,605.6 L801.8,605.8 L802.5,606.0 L803.2,605.5 L804.0,604.5 L804.8,604.9 L805.5,605.6 L806.2,605.5 L807.0,605.2 L807.8,605.2 L808.5,605.3 L809.2,605.6 L810.0,605.9 L810.8,605.8 L811.5,605.7 L812.2,605.3 L813.0,604.8 L813.8,604.9 L814.5,605.1 L815.2,605.6 L816.0,606.2 L816.8,606.0 L817.5,605.8 L818.2,605.7 L819.0,605.5 L819.8,605.2 L820.5,604.9 L821.2,605.2 L822.0,605.4 L822.8,605.2 L823.5,605.0 L824.2,604.7 L825.0,604.4 L825.8,604.2 L826.5,604.2 L827.2,604.6 L828.0,604.9 L828.8,604.8 L829.5,604.8 L830.2,605.1 L831.0,605.1 L831.8,604.5 L832.5,604.3 L833.2,604.9 L834.0,605.0 L834.8,604.5 L835.5,604.3 L836.2,604.8 L837.0,604.9 L837.8,604.7 L838.5,604.4 L839.2,604.0 L840.0,603.8 L840.8,603.6 L841.5,603.7 L842.2,603.9 L843.0,604.0 L843.8,603.9 L844.5,604.1 L845.2,604.4 L846.0,604.2 L846.8,603.7 L847.5,603.3 L848.2,603.1 L849.0,603.3 L849.8,603.7 L850.5,604.2 L851.2,604.8 L852.0,604.8 L852.8,604.7 L853.5,604.1 L854.2,603.4 L855.0,603.3 L855.8,603.4 L856.5,603.6 L857.2,603.7 L858.0,603.5 L858.8,603.1 L859.5,603.2 L860.2,603.3 L861.0,603.3 L861.8,603.2 L862.5,603.0 L863.2,602.7 L864.0,602.8 L864.8,602.9 L865.5,602.9 L866.2,603.0 L867.0,603.2 L867.8,603.3 L868.5,602.8 L869.2,602.5 L870.0,602.8 L870.8,603.1 L871.5,602.7 L872.2,602.5 L873.0,602.5 L873.8,602.5 L874.5,602.4 L875.2,602.5 L876.0,603.5 L876.8,604.1 L877.5,603.8 L878.2,603.6 L879.0,603.6 L879.8,603.5 L880.5,603.3 L881.2,603.1 L882.0,602.7 L882.8,602.6 L883.5,602.6 L884.2,602.7 L885.0,602.7 L885.8,602.8 L886.5,602.8 L887.2,602.8 L888.0,602.8 L888.8,602.9 L889.5,603.2 L890.2,602.7 L891.0,601.5 L891.8,601.3 L892.5,601.8 L893.2,602.2 L894.0,602.5 L894.8,602.4 L895.5,602.1 L896.2,602.0 L897.0,602.0 L897.8,602.4 L898.5,602.8 L899.2,602.7 L900.0,602.2 L900.8,602.5 L901.5,602.9 L902.2,602.6 L903.0,602.0 L903.8,601.9 L904.5,602.0 L905.2,601.6 L906.0,601.2 L906.8,600.9 L907.5,600.6 L908.0,600.8 L908.2,600.9 L909.0,601.4 L909.8,601.5 L910.5,601.6 L911.2,601.5 L912.0,601.3 L912.8,601.0 L913.5,600.7 L914.2,601.3 L915.0,601.8 L915.8,601.6 L916.5,601.4 L917.2,601.3 L918.0,601.3 L918.8,601.0 L919.5,600.9 L920.2,601.6 L921.0,602.1 L921.8,602.0 L922.5,601.9 L923.2,601.5 L924.0,601.2 L924.8,601.0 L925.5,600.9 L926.2,601.0 L927.0,601.2 L927.8,601.6 L928.5,601.9 L929.2,602.0 L930.0,601.8 L930.8,601.1 L931.5,600.6 L932.2,600.5 L933.0,600.2 L933.8,599.7 L934.5,600.0 L935.2,601.2 L936.0,601.3 L936.8,600.2 L937.5,600.0 L938.2,600.6 L939.0,600.8 L939.8,600.6 L940.5,600.7 L941.2,600.9 L942.0,600.6 L942.8,599.9 L943.5,599.4 L944.2,599.2 L945.0,599.4 L945.8,599.9 L946.5,600.1 L947.2,600.2 L948.0,600.3 L948.8,600.5 L949.5,599.8 L950.2,598.9 L951.0,599.0 L951.8,599.4 L952.5,599.5 L953.2,599.5 L954.0,599.2 L954.8,598.8 L955.5,599.0 L956.2,599.4 L957.0,599.6 L957.8,599.9 L958.5,599.6 L959.2,599.3 L960.0,598.9 L960.8,598.4 L961.5,598.9 L962.2,599.4 L963.0,599.5 L963.8,599.6 L964.5,599.5 L965.2,599.4 L966.0,599.4 L966.8,599.3 L967.5,598.6 L968.2,598.0 L969.0,598.6 L969.8,599.1 L970.5,599.1 L971.2,599.0 L972.0,598.7 L972.8,598.5 L973.5,598.5 L974.2,598.5 L975.0,598.3 L975.8,598.3 L976.5,598.9 L977.2,599.0 L978.0,598.5 L978.8,598.1 L979.5,597.9 L980.2,597.9 L981.0,598.2 L981.8,598.3 L982.5,598.3 L983.2,598.3 L984.0,598.5 L984.8,598.3 L985.5,597.8 L986.2,597.5 L987.0,597.6 L987.8,597.7 L988.5,598.0 L989.2,598.5 L990.0,599.0 L990.8,598.8 L991.5,598.2 L992.2,597.6 L993.0,597.0 L993.8,597.2 L994.5,597.6 L995.2,597.5 L996.0,597.2 L996.8,596.8 L997.5,596.4 L998.2,596.6 L999.0,596.9 L999.8,597.0 L1000.5,597.0 L1001.2,597.2 L1002.0,597.5 L1002.8,597.7 L1003.5,598.0 L1004.2,597.9 L1005.0,597.8 L1005.8,597.7 L1006.5,597.5 L1007.2,597.1 L1008.0,596.7 L1008.8,596.9 L1009.5,597.0 L1010.2,596.9 L1011.0,596.9 L1011.8,597.3 L1012.5,597.6 L1013.2,596.9 L1014.0,596.3 L1014.8,596.3 L1015.5,596.4 L1016.2,597.0 L1017.0,597.4 L1017.8,597.1 L1018.5,596.8 L1019.2,596.4 L1020.0,596.2 L1020.8,596.4 L1021.5,596.5 L1022.2,596.4 L1023.0,596.4 L1023.8,596.4 L1024.5,596.4 L1025.2,596.6 L1026.0,596.6 L1026.8,596.5 L1027.5,596.3 L1028.2,596.1 L1029.0,595.9 L1029.8,595.8 L1030.5,595.5 L1031.2,595.1 L1032.0,595.1 L1032.8,595.5 L1033.5,595.9 L1034.2,596.3 L1035.0,596.3 L1035.8,596.0 L1036.5,595.7 L1037.2,595.4 L1038.0,595.4 L1038.8,595.5 L1039.5,595.4 L1040.2,595.2 L1041.0,595.3 L1041.8,595.6 L1042.5,596.1 L1043.2,596.6 L1044.0,596.6 L1044.8,596.5 L1045.5,596.4 L1046.2,596.1 L1047.0,596.0 L1047.8,595.8 L1048.5,595.5 L1049.2,595.2 L1050.0,594.8 L1050.8,594.5 L1051.5,594.8 L1052.2,595.2 L1053.0,595.0 L1053.8,594.8 L1054.5,595.2 L1055.2,595.6 L1056.0,595.3 L1056.8,595.1 L1057.5,594.8 L1058.2,594.6 L1059.0,594.9 L1059.8,595.2 L1060.5,595.7 L1061.2,596.0 L1062.0,595.1 L1062.8,594.4 L1063.5,595.0 L1064.2,595.4 L1065.0,595.2 L1065.8,595.0 L1066.5,594.8 L1067.2,594.5 L1068.0,594.3 L1068.8,594.2 L1069.5,594.4 L1070.2,594.6 L1071.0,594.6 L1071.8,594.7 L1072.5,594.8 L1073.2,594.9 L1074.0,594.9 L1074.8,594.8 L1075.5,594.6 L1076.2,594.4 L1077.0,594.1 L1077.8,594.1 L1078.5,594.3 L1079.2,594.3 L1080.0,594.1 L1080.8,593.8 L1081.5,593.6 L1082.2,593.9 L1083.0,594.5 L1083.8,594.4 L1084.5,593.9 L1085.2,593.6 L1086.0,593.4 L1086.8,593.6 L1087.5,593.9 L1088.2,593.6 L1089.0,593.0 L1089.8,593.2 L1090.5,593.7 L1091.2,594.0 L1092.0,594.1 L1092.8,593.9 L1093.5,593.6 L1094.2,593.7 L1095.0,593.9 L1095.8,594.4 L1096.5,594.9 L1097.2,594.8 L1098.0,594.5 L1098.8,594.4 L1099.5,594.2 L1100.2,594.1 L1101.0,593.9 L1101.8,593.6 L1102.5,593.2 L1103.2,593.3 L1104.0,593.4 L1104.8,593.3 L1105.5,593.3 L1106.2,593.3 L1107.0,593.4 L1107.8,593.4 L1108.5,593.3 L1109.2,593.0 L1110.0,592.9 L1110.8,593.6 L1111.5,594.0 L1112.2,593.2 L1113.0,592.6 L1113.8,593.0 L1114.5,593.4 L1115.2,593.6 L1116.0,593.6 L1116.8,593.2 L1117.5,592.9 L1118.2,592.7 L1119.0,592.6 L1119.8,592.8 L1120.5,593.2 L1121.2,593.7 L1122.0,593.8 L1122.8,593.4 L1123.5,593.0 L1124.2,592.7 L1125.0,592.7 L1125.8,592.9 L1126.5,592.9 L1127.2,592.7 L1128.0,592.2 L1128.8,591.7 L1129.5,591.8 L1130.2,592.4 L1131.0,592.8 L1131.8,593.0 L1132.5,593.1 L1133.2,593.1 L1134.0,592.9 L1134.8,592.5 L1135.5,592.0 L1136.2,591.6 L1137.0,592.0 L1137.8,592.8 L1138.5,592.6 L1139.2,592.2 L1140.0,592.3 L1140.8,592.5 L1141.5,592.7 L1142.0,592.7 L1142.2,592.8 L1143.0,592.5 L1143.8,592.3 L1144.5,592.1 L1145.2,591.9 L1146.0,591.7 L1146.8,591.5 L1147.5,591.6 L1148.2,591.6 L1149.0,591.7 L1149.8,591.8 L1150.5,591.6 L1151.2,591.4 L1152.0,591.7 L1152.8,591.8 L1153.5,591.1 L1154.2,590.4 L1155.0,590.7 L1155.8,590.9 L1156.5,591.2 L1157.2,591.4 L1158.0,591.1 L1158.8,591.0 L1159.5,591.0 L1160.2,590.9 L1161.0,590.7 L1161.8,590.7 L1162.5,591.2 L1163.2,591.6 L1164.0,591.9 L1164.8,591.8 L1165.5,591.0 L1166.2,590.6 L1167.0,591.3 L1167.8,591.3 L1168.5,590.5 L1169.2,590.2 L1170.0,590.6 L1170.8,590.6 L1171.5,589.9 L1172.2,589.9 L1173.0,590.6 L1173.8,590.9 L1174.5,590.7 L1175.2,590.6 L1176.0,590.6 L1176.8,590.8 L1177.5,591.1 L1178.2,591.0 L1179.0,590.8 L1179.8,590.6 L1180.5,590.4 L1181.2,590.1 L1182.0,589.8 L1182.8,589.9 L1183.5,590.1 L1184.2,590.0 L1185.0,589.7 L1185.8,589.7 L1186.5,589.7 L1187.2,590.2 L1188.0,590.7 L1188.8,590.6 L1189.5,590.4 L1190.2,590.2 L1191.0,590.0 L1191.8,590.0 L1192.5,590.1 L1193.2,589.5 L1194.0,588.8 L1194.8,589.2 L1195.5,589.6 L1196.2,589.0 L1197.0,588.5 L1197.8,588.7 L1198.5,589.0 L1199.2,589.3 L1200.0,589.5 L1200.8,589.5 L1201.5,589.5 L1202.2,589.5 L1203.0,589.6 L1203.8,589.3 L1204.5,589.2 L1205.2,589.1 L1206.0,589.0 L1206.8,589.0 L1207.5,589.0 L1208.2,589.4 L1209.0,589.7 L1209.8,589.6 L1210.5,589.3 L1211.2,588.4 L1212.0,588.0 L1212.8,588.4 L1213.5,588.8 L1214.2,589.1 L1215.0,589.1 L1215.8,588.6 L1216.5,588.4 L1217.2,588.5 L1218.0,588.4 L1218.8,588.1 L1219.5,587.9 L1220.2,587.6 L1221.0,587.7 L1221.8,588.1 L1222.5,588.2 L1223.2,588.0 L1224.0,587.9 L1224.8,587.9 L1225.5,587.7 L1226.2,587.3 L1227.0,587.1 L1227.8,587.2 L1228.5,587.4 L1229.2,587.7 L1230.0,587.6 L1230.8,587.5 L1231.5,587.7 L1232.2,587.9 L1233.0,587.6 L1233.8,587.1 L1234.5,587.4 L1235.2,587.9 L1236.0,587.9 L1236.8,587.8 L1237.5,587.7 L1238.2,587.5 L1239.0,587.6 L1239.8,587.7 L1240.0,587.7 L1240.5,587.5 L1241.2,587.2 L1242.0,587.1 L1242.8,587.1 L1243.5,587.1 L1244.2,587.1 L1245.0,586.7 L1245.8,586.3 L1246.5,586.6 L1247.2,587.0 L1248.0,587.2 L1248.8,587.3 L1249.5,586.5 L1250.2,586.0 L1251.0,586.6 L1251.8,587.1 L1252.5,586.7 L1253.2,586.3 L1254.0,586.4 L1254.8,586.4 L1255.5,586.5 L1256.2,586.6 L1257.0,586.6 L1257.8,586.7 L1258.5,587.0 L1259.2,587.1 L1260.0,586.6 L1260.8,586.4 L1261.5,587.0 L1262.2,587.1 L1263.0,586.5 L1263.8,586.3 L1264.5,586.4 L1265.2,586.4 L1266.0,586.4 L1266.8,586.3 L1267.5,585.8 L1268.2,585.5 L1269.0,585.3 L1269.8,585.4 L1270.5,585.8 L1271.2,586.0 L1272.0,586.2 L1272.8,586.2 L1273.5,586.3 L1274.2,586.0 L1275.0,585.6 L1275.8,585.9 L1276.5,586.5 L1277.2,586.3 L1278.0,585.7 L1278.8,585.4 L1279.5,585.2 L1280.2,585.5 L1281.0,586.1 L1281.8,586.2 L1282.5,586.2 L1283.2,585.6 L1284.0,585.0 L1284.8,585.3 L1285.5,585.8 L1286.2,585.3 L1287.0,584.7 L1287.8,584.9 L1288.5,585.3 L1289.2,586.0 L1290.0,586.6 L1290.8,586.4 L1291.5,586.1 L1292.0,585.9 L1292.2,585.9 L1293.0,585.7 L1293.8,585.7 L1294.5,585.6 L1295.2,585.2 L1296.0,584.8 L1296.8,585.1 L1297.5,585.4 L1298.2,585.5 L1299.0,585.4 L1299.8,585.0 L1300.5,584.7 L1301.2,585.0 L1302.0,585.3 L1302.8,585.4 L1303.5,585.5 L1304.2,585.4 L1305.0,585.3 L1305.8,585.4 L1306.5,585.4 L1307.2,585.2 L1308.0,584.9 L1308.8,584.7 L1309.5,584.6 L1310.2,585.0 L1311.0,584.9 L1311.8,584.3 L1312.5,584.1 L1313.2,584.5 L1314.0,585.0 L1314.8,585.5 L1315.5,585.9 L1316.2,586.1 L1317.0,586.0 L1317.8,585.5 L1318.5,584.9 L1319.2,584.1 L1320.0,584.4 L1320.8,585.5 L1321.5,585.7 L1322.2,585.5 L1323.0,585.3 L1323.8,585.0 L1324.5,585.2 L1325.2,585.4 L1326.0,585.5 L1326.8,585.4 L1327.5,585.0 L1328.2,584.5 L1329.0,584.3 L1329.8,584.3 L1330.5,584.8 L1331.2,585.5 L1332.0,584.8 L1332.8,583.8 L1333.5,584.4 L1334.2,585.3 L1335.0,585.3 L1335.8,585.2 L1336.5,585.3 L1337.2,585.5 L1338.0,585.8 L1338.8,586.0 L1339.5,585.8 L1340.2,585.7 L1341.0,585.8 L1341.8,585.8 L1342.5,585.6 L1343.2,585.3 L1344.0,585.2 L1344.8,585.1 L1345.5,585.2 L1346.2,585.2 L1347.0,584.8 L1347.8,584.4 L1348.5,583.9 L1349.2,583.6 L1350.0,583.7 L1350.8,583.6 L1351.5,582.9 L1352.2,582.5 L1353.0,582.6 L1353.8,582.8 L1354.5,583.4 L1355.2,583.6 L1356.0,583.0 L1356.8,582.4 L1357.5,582.1 L1358.2,581.8 L1359.0,581.6 L1359.8,581.3 L1360.5,580.9 L1361.0,580.8 L1361.2,580.9 L1362.0,581.3 L1362.8,581.6 L1363.5,581.7 L1364.2,582.0 L1365.0,582.5 L1365.8,582.9 L1366.5,583.2 L1367.2,583.6 L1368.0,583.9 L1368.8,584.0 L1369.5,583.9 L1370.2,584.7 L1371.0,586.1 L1371.8,586.6 L1372.5,586.7 L1373.2,586.9 L1374.0,587.1 L1374.8,587.3 L1375.0,587.3 L1375.5,587.4 L1376.2,587.9 L1377.0,588.3 L1377.8,588.8 L1378.5,589.3 L1379.2,589.5 L1380.0,589.5 L1380.8,589.3 L1381.5,589.0 L1382.2,589.2 L1383.0,589.4 L1383.8,589.3 L1384.5,589.3 L1385.2,590.2 L1386.0,591.1 L1386.8,591.5 L1387.0,591.6 L1387.5,591.8 L1388.2,591.8 L1389.0,592.0 L1389.8,592.1 L1390.5,592.1 L1391.2,591.6 L1392.0,590.1 L1392.8,586.7 L1393.5,580.4 L1394.2,570.7 L1395.0,558.0 L1395.8,544.6 L1396.5,534.2 L1397.2,530.0 L1397.3,530.0 L1398.0,533.6 L1398.8,543.9 L1399.5,557.6 L1400.2,571.0 L1401.0,581.6 L1401.8,588.8 L1402.5,592.9 L1403.2,595.0 L1404.0,595.9 L1404.8,596.3 L1405.5,596.4 L1406.2,596.5 L1406.4,596.5 L1407.0,596.6 L1407.8,596.4 L1408.5,596.3 L1409.2,596.7 L1410.0,596.7 L1410.8,596.4 L1411.5,596.1 L1412.2,595.8 L1413.0,595.7 L1413.8,595.8 L1414.5,595.6 L1415.2,595.3 L1416.0,595.4 L1416.8,595.9 L1417.5,596.3 L1418.2,596.4 L1419.0,596.3 L1419.8,596.1 L1420.5,595.9 L1421.2,595.8 L1422.0,596.0 L1422.8,596.4 L1423.5,595.8 L1424.2,595.1 L1425.0,595.3 L1425.8,595.8 L1426.5,595.7 L1427.2,595.6 L1428.0,595.4 L1428.8,595.2 L1429.5,595.5 L1430.2,595.7 L1431.0,595.3 L1431.8,594.7 L1432.5,595.0 L1433.2,595.3 L1434.0,595.4 L1434.8,595.5 L1435.5,595.0 L1436.2,594.6 L1437.0,594.9 L1437.8,595.1 L1438.5,595.3 L1439.2,595.5 L1440.0,595.6 L1440.8,595.7 L1441.5,595.1 L1442.2,594.7 L1443.0,595.2 L1443.8,595.6 L1444.5,595.2 L1445.2,594.9 L1446.0,595.0 L1446.8,595.0 L1447.5,594.8 L1448.2,594.8 L1449.0,595.2 L1449.8,595.3 L1450.5,594.8 L1451.2,594.6 L1452.0,594.9 L1452.8,595.1 L1453.5,595.1 L1454.2,595.2 L1455.0,595.3 L1455.8,595.1 L1456.5,594.5 L1457.2,594.5 L1458.0,595.0 L1458.8,595.1 L1459.5,594.9 L1460.2,595.0 L1461.0,595.4 L1461.8,595.3 L1462.5,594.7 L1463.2,594.5 L1464.0,594.4 L1464.8,594.4 L1465.5,594.6 L1466.2,594.6 L1467.0,594.5 L1467.8,594.5 L1468.5,594.5 L1469.2,594.3 L1470.0,593.9 L1470.8,593.6 L1471.5,593.4 L1472.2,593.4 L1473.0,593.6 L1473.8,593.9 L1474.5,594.1 L1475.2,594.4 L1476.0,594.7 L1476.8,594.5 L1477.5,594.3 L1478.2,594.1 L1479.0,593.8 L1479.8,594.0 L1480.5,594.3 L1481.2,594.3 L1482.0,594.4 L1482.8,595.0 L1483.5,595.6 L1484.2,595.3 L1485.0,595.0 L1485.8,594.7 L1486.5,594.3 L1487.2,593.8 L1488.0,593.4 L1488.8,593.8 L1489.5,594.1 L1490.2,594.0 L1491.0,594.0 L1491.8,594.3 L1492.5,594.5 L1493.2,595.0 L1494.0,595.2 L1494.8,594.5 L1495.5,593.8 L1496.2,593.2 L1497.0,593.0 L1497.8,593.5 L1498.5,593.7 L1499.2,593.2 L1500.0,593.2 L1500.8,593.9 L1501.5,594.4 L1502.2,594.4 L1503.0,594.4 L1503.8,594.1 L1504.5,593.7 L1505.2,593.1 L1506.0,593.0 L1506.8,593.4 L1507.5,593.7 L1508.2,594.1 L1509.0,593.9 L1509.8,593.2 L1510.5,592.9 L1511.2,593.0 L1512.0,593.2 L1512.8,593.4 L1513.5,593.5 L1514.2,593.6 L1515.0,593.5 L1515.8,593.3 L1516.5,593.3 L1517.2,593.3 L1518.0,593.3 L1518.8,593.2 L1519.5,592.9 L1520.2,592.7 L1521.0,592.7 L1521.8,592.8 L1522.5,592.9 L1523.2,593.0 L1524.0,592.6 L1524.8,592.1 L1525.5,592.4 L1526.2,592.7 L1527.0,592.7 L1527.8,592.6 L1528.5,592.7 L1529.2,592.8 L1530.0,592.7 L1530.8,592.6 L1531.5,592.1 L1532.2,591.7 L1533.0,591.6 L1533.8,591.6 L1534.5,592.0 L1535.2,592.3 L1536.0,592.2 L1536.8,592.1 L1537.5,592.1 L1538.2,592.1 L1539.0,591.9 L1539.8,591.6 L1540.5,591.4 L1541.2,591.3 L1542.0,591.8 L1542.8,592.1 L1543.5,591.9 L1544.2,591.9 L1545.0,592.1 L1545.8,592.3 L1546.5,592.4 L1547.2,592.5 L1548.0,592.5 L1548.8,592.5 L1549.5,592.4 L1550.2,592.1 L1551.0,591.5 L1551.8,591.1 L1552.0,590.9 L1552.5,590.7 L1553.2,590.8 L1554.0,591.2 L1554.8,591.3 L1555.5,591.2 L1556.2,591.1 L1557.0,591.1 L1557.8,591.4 L1558.5,592.0 L1559.2,591.8 L1560.0,591.1 L1560.8,591.4 L1561.5,592.2 L1562.2,592.5 L1563.0,592.6 L1563.8,592.8 L1564.5,593.2 L1565.2,593.0 L1566.0,592.7 L1566.8,592.9 L1567.5,593.2 L1568.2,592.6 L1569.0,591.8 L1569.8,591.7 L1570.0,591.7 L1570.5,591.7 L1571.2,592.2 L1572.0,592.7 L1572.8,592.1 L1573.5,591.5 L1574.2,592.2 L1575.0,593.0 L1575.8,592.6 L1576.5,592.2 L1577.2,591.8 L1578.0,591.3 L1578.8,592.6 L1579.5,593.6 L1580.2,592.7 L1581.0,592.1 L1581.8,592.9 L1582.5,593.1 L1583.2,592.7 L1584.0,592.6 L1584.3,592.6 L1584.8,592.5 L1585.5,591.4 L1586.2,589.6 L1587.0,587.2 L1587.5,585.5 L1587.8,584.4 L1588.5,579.1 L1589.2,573.2 L1589.6,571.1 L1590.0,569.2 L1590.8,565.7 L1591.5,563.0 L1592.2,562.0 L1592.2,562.0 L1593.0,564.1 L1593.8,568.6 L1594.5,574.1 L1594.8,576.3 L1595.2,580.5 L1596.0,588.1 L1596.3,589.6 L1596.8,590.4 L1597.5,591.5 L1598.2,592.3 L1599.0,592.9 L1599.8,593.4 L1600.5,593.9 L1600.6,593.9 L1601.2,594.1 L1602.0,594.2 L1602.8,594.3 L1603.5,594.4 L1604.2,594.5 L1604.7,594.6 L1605.0,594.8 L1605.8,595.2 L1606.5,594.7 L1607.2,593.7 L1608.0,593.3 L1608.8,593.1 L1609.5,592.3 L1610.2,591.2 L1611.0,591.4 L1611.8,592.1 L1612.5,591.9 L1613.2,591.4 L1613.4,591.4 L1614.0,590.9 L1614.8,590.4 L1615.5,591.2 L1616.2,592.2 L1617.0,592.8 L1617.8,593.4 L1618.5,593.6 L1619.2,593.6 L1620.0,593.5 L1620.8,593.2 L1621.5,593.4 L1622.2,593.6 L1623.0,593.1 L1623.8,592.6 L1624.5,592.7 L1625.2,592.8 L1626.0,592.7 L1626.8,592.7 L1627.5,592.8 L1628.2,592.8 L1629.0,592.4 L1629.8,592.2 L1630.5,592.9 L1631.2,593.5 L1631.2,593.5 L1632.0,593.0 L1632.8,592.6 L1633.5,592.3 L1634.2,592.2 L1635.0,592.5 L1635.8,592.8 L1636.5,593.1 L1637.2,593.2 L1638.0,593.2 L1638.8,593.2 L1639.5,593.6 L1640.2,593.7 L1641.0,593.3 L1641.4,593.0 L1641.8,592.9 L1642.5,592.8 L1643.2,592.9 L1644.0,593.2 L1644.8,593.5 L1645.5,593.7 L1646.2,593.4 L1647.0,592.6 L1647.8,592.1 L1648.5,591.8 L1649.2,591.8 L1650.0,591.9 L1650.8,592.0 L1651.5,592.0 L1652.2,591.8 L1653.0,591.4 L1653.7,591.3 L1653.8,591.3 L1654.5,591.2 L1655.2,590.6 L1656.0,589.8 L1656.8,589.1 L1657.5,588.4 L1658.2,587.3 L1658.8,586.3 L1659.0,586.0 L1659.8,584.4 L1660.5,582.7 L1661.2,581.3 L1662.0,580.5 L1662.3,580.4 L1662.8,580.6 L1663.5,581.5 L1664.2,582.8 L1665.0,584.3 L1665.8,585.7 L1666.5,586.8 L1666.9,587.4 L1667.2,588.0 L1668.0,589.1 L1668.8,590.2 L1669.5,591.2 L1670.2,592.1 L1671.0,592.7 L1671.8,592.4 L1672.5,592.0 L1673.2,592.0 L1674.0,592.0 L1674.8,592.5 L1675.5,592.9 L1676.1,592.8 L1676.2,592.7 L1677.0,592.3 L1677.8,592.1 L1678.5,591.6 L1679.2,590.5 L1680.0,589.6 L1680.8,589.3 L1681.2,589.2 L1681.5,589.2 L1682.2,588.9 L1683.0,588.8 L1683.8,589.0 L1684.5,589.4 L1685.2,589.7 L1686.0,589.7 L1686.8,589.3 L1687.5,588.9 L1688.2,588.7 L1689.0,588.7 L1689.8,589.4 L1690.5,589.6 L1691.2,589.3 L1692.0,589.2 L1692.8,589.3 L1693.5,589.3 L1694.2,589.1 L1695.0,589.3 L1695.8,589.8 L1696.5,589.9 L1697.2,589.5 L1698.0,589.6 L1698.8,589.9 L1699.5,590.4 L1700.2,590.9 L1701.0,591.3 L1701.6,591.5 L1701.8,591.6 L1702.5,591.5 L1703.2,591.4 L1704.0,592.1 L1704.8,593.3 L1705.5,593.5 L1706.2,593.4 L1707.0,593.8 L1707.8,594.2 L1707.8,594.3 L1708.5,594.1 L1709.2,593.8 L1710.0,593.7 L1710.8,593.5 L1711.5,593.1 L1712.2,592.6 L1712.9,592.3 L1713.0,592.2 L1713.8,591.7 L1714.5,591.4 L1715.2,591.1 L1716.0,590.5 L1716.8,589.8 L1717.5,589.3 L1718.0,589.0 L1718.2,588.9 L1719.0,588.2 L1719.8,587.5 L1720.5,586.8 L1721.2,586.2 L1722.0,585.6 L1722.8,584.8 L1723.5,583.7 L1723.6,583.6 L1724.2,581.6 L1725.0,577.7 L1725.8,573.2 L1726.1,571.2 L1726.5,568.7 L1727.2,562.8 L1728.0,556.9 L1728.8,552.9 L1729.2,552.1 L1729.5,552.4 L1730.2,555.1 L1731.0,560.0 L1731.8,566.3 L1732.3,571.2 L1732.5,573.3 L1733.2,584.9 L1733.8,591.6 L1734.0,593.1 L1734.8,597.7 L1735.5,601.0 L1735.8,601.8 L1736.2,602.8 L1737.0,604.1 L1737.8,605.2 L1738.5,606.0 L1739.2,606.5 L1739.4,606.7 L1740.0,606.9 L1740.8,607.5 L1741.5,608.3 L1742.2,609.2 L1743.0,610.1 L1743.8,610.6 L1744.5,610.4 L1745.2,610.8 L1746.0,611.5 L1746.8,611.4 L1747.5,610.9 L1747.6,610.8 L1748.2,610.9 L1749.0,611.0 L1749.8,610.7 L1750.5,610.1 L1751.2,609.3 L1751.7,608.8 L1752.0,608.5 L1752.8,607.2 L1753.5,605.2 L1754.2,602.4 L1754.6,600.8 L1755.0,596.9 L1755.6,588.9 L1755.8,587.3 L1756.5,579.9 L1756.6,578.9 L1757.2,571.6 L1757.6,567.4 L1758.0,562.2 L1758.7,552.7 L1758.8,552.0 L1759.5,542.5 L1759.7,540.1 L1760.2,533.5 L1760.7,529.5 L1761.0,527.7 L1761.5,526.1 L1761.8,526.4 L1762.5,529.7 L1763.1,537.9 L1763.2,546.5 L1763.6,574.5 L1764.0,584.2 L1764.4,591.2 L1764.8,598.5 L1765.0,603.1 L1765.5,610.4 L1765.9,614.4 L1766.2,616.5 L1767.0,619.6 L1767.4,620.7 L1767.8,621.5 L1768.5,622.9 L1769.2,623.9 L1769.7,624.1 L1770.0,624.1 L1770.8,624.2 L1771.5,624.1 L1772.2,624.4 L1773.0,624.6 L1773.8,624.3 L1774.5,624.0 L1775.2,624.0 L1776.0,624.1 L1776.8,624.3 L1777.5,624.4 L1778.2,624.6 L1779.0,624.7 L1779.8,624.8 L1780.5,624.9 L1781.2,624.8 L1782.0,624.8 L1782.8,624.9 L1783.5,624.9 L1784.2,624.8 L1785.0,624.8 L1785.8,624.7 L1786.5,624.6 L1787.2,624.6 L1788.0,624.6 L1788.8,624.8 L1789.5,624.8 L1790.0,624.7 L1790.2,624.7 L1791.0,624.7 L1791.8,624.8 L1792.5,624.9 L1793.2,625.0 L1794.0,624.9 L1794.8,624.7 L1795.5,624.7 L1796.2,624.7 L1797.0,624.7 L1797.8,624.7 L1798.5,624.8 L1799.2,624.9 L1800.0,624.9 L1800.8,624.9 L1801.5,624.8 L1802.2,624.7 L1803.0,624.8 L1803.8,624.9 L1804.5,625.0 L1805.2,625.2 L1806.0,625.1 L1806.8,625.0 L1807.5,624.9 L1808.2,624.9 L1809.0,624.9 L1809.8,624.8 L1810.5,624.7 L1811.2,624.7 L1812.0,624.8 L1812.8,624.9 L1813.5,624.9 L1814.2,624.9 L1815.0,624.9 L1815.8,624.8 L1816.5,625.0 L1817.2,625.2 L1818.0,625.0 L1818.8,624.9 L1819.5,624.9 L1820.2,624.9 L1821.0,624.9 L1821.8,625.0 L1822.5,625.0 L1823.2,625.0 L1824.0,624.7 L1824.8,624.6 L1825.5,624.8 L1826.2,625.0 L1827.0,625.1 L1827.8,625.1 L1828.5,624.9 L1829.2,624.8 L1830.0,624.9 L1830.8,625.0 L1831.5,624.9 L1832.2,624.8 L1833.0,624.8 L1833.8,624.8 L1834.5,625.0 L1835.2,625.0 L1836.0,625.0 L1836.8,624.8 L1837.5,624.6 L1838.2,624.6 L1839.0,624.8 L1839.8,624.9 L1840.5,625.1 L1841.2,625.1 L1842.0,624.9 L1842.8,624.9 L1843.5,624.8 L1844.2,624.9 L1845.0,624.9 L1845.8,624.9 L1846.5,624.9 L1847.2,625.0 L1848.0,625.1 L1848.8,625.0 L1849.5,624.9 L1850.2,624.8 L1851.0,624.8 L1851.8,624.9 L1852.5,625.1 L1853.2,625.2 L1854.0,625.2 L1854.8,625.2 L1855.5,625.2 L1856.2,625.2 L1857.0,625.2 L1857.8,625.1 L1858.5,624.9 L1859.2,624.8 L1860.0,624.7 L1860.8,624.8 L1861.5,624.9 L1862.2,625.0 L1863.0,625.0 L1863.8,624.8 L1864.5,624.7 L1865.2,624.8 L1866.0,625.0 L1866.8,625.1 L1867.5,625.2 L1868.2,625.0 L1869.0,624.9 L1869.8,625.2 L1870.5,625.5 L1871.2,625.3 L1872.0,625.2 L1872.8,625.0 L1873.5,624.8 L1874.2,624.8 L1875.0,624.8 L1875.8,624.9 L1876.5,625.0 L1877.2,625.1 L1878.0,625.2 L1878.8,625.2 L1879.5,625.1 L1880.2,625.0 L1881.0,625.0 L1881.8,625.1 L1882.5,625.1 L1883.2,625.2 L1884.0,625.2 L1884.8,625.2 L1885.5,625.1 L1886.2,624.8 L1887.0,624.8 L1887.8,624.8 L1888.5,624.8 L1889.2,624.9 L1890.0,624.8 L1890.8,624.7 L1891.5,624.9 L1892.2,625.2 L1893.0,625.2 L1893.8,625.0 L1894.5,624.9 L1895.2,624.9 L1896.0,624.9 L1896.8,624.9 L1897.5,625.0 L1898.2,625.1 L1899.0,625.2 L1899.8,625.2 L1900.5,625.2 L1901.2,625.2 L1902.0,625.3 L1902.8,625.3 L1903.5,625.1 L1904.2,624.9 L1905.0,625.1 L1905.8,625.4 L1906.5,625.5 L1907.2,625.6 L1908.0,625.3 L1908.8,625.0 L1909.5,625.0 L1910.2,625.0 L1911.0,625.1 L1911.8,625.2 L1912.5,625.3 L1913.2,625.3 L1914.0,625.2 L1914.8,625.0 L1915.5,625.0 L1916.2,625.0 L1917.0,625.3 L1917.8,625.5 L1918.5,625.2 L1919.2,624.9 L1920.0,624.8 L1920.8,624.7 L1921.5,625.0 L1922.2,625.2 L1923.0,625.3 L1923.8,625.3 L1924.5,625.4 L1925.2,625.5 L1926.0,625.5 L1926.8,625.5 L1927.5,625.6 L1928.2,625.5 L1929.0,625.1 L1929.8,625.0 L1930.5,624.9 L1931.2,624.9 L1932.0,624.8 L1932.8,625.0 L1933.5,625.3 L1934.0,625.4 L1934.2,625.3 L1935.0,625.1 L1935.8,624.9 L1936.5,624.8 L1937.2,624.7 L1938.0,624.7 L1938.8,624.8 L1939.5,625.0 L1940.2,625.1 L1941.0,625.0 L1941.8,625.0 L1942.5,625.0 L1943.2,624.9 L1944.0,624.6 L1944.8,624.0 L1945.5,623.2 L1946.2,621.9 L1947.0,620.1 L1947.8,618.0 L1948.5,615.7 L1949.2,613.8 L1950.0,612.6 L1950.5,612.3 L1950.8,612.4 L1951.5,613.2 L1952.2,615.0 L1953.0,617.2 L1953.8,619.4 L1954.5,621.4 L1955.2,622.8 L1956.0,623.8 L1956.8,624.5 L1957.5,624.8 L1958.2,625.0 L1959.0,625.1 L1959.8,625.1 L1960.5,625.0 L1961.2,625.0 L1962.0,625.1 L1962.8,625.1 L1963.5,625.1 L1964.2,625.2 L1965.0,625.2 L1965.8,625.2 L1966.5,625.2 L1967.2,625.2 L1968.0,625.2 L1968.8,625.2 L1969.5,625.2 L1970.2,625.1 L1971.0,625.1 L1971.8,625.1 L1972.5,625.1 L1973.2,625.0 L1974.0,624.9 L1974.8,624.8 L1975.5,624.8 L1976.2,625.0 L1977.0,625.1 L1977.8,624.8 L1978.5,624.8 L1979.2,625.0 L1980.0,625.2 L1980.8,625.3 L1981.5,625.4 L1982.2,625.3 L1983.0,625.2 L1983.8,625.0 L1984.5,625.0 L1985.2,625.2 L1986.0,625.2 L1986.8,625.2 L1987.5,625.1 L1988.2,625.0 L1989.0,625.0 L1989.8,625.1 L1990.5,625.1 L1991.2,625.0 L1992.0,625.0 L1992.8,625.1 L1993.5,625.1 L1994.2,625.2 L1995.0,625.1 L1995.8,624.9 L1996.5,625.1 L1997.2,625.3 L1998.0,625.5 L1998.8,625.6 L1999.5,625.4 L2000.2,625.2 L2001.0,625.1 L2001.8,625.0 L2002.5,625.1 L2003.2,625.1 L2004.0,625.3 L2004.8,625.5 L2005.5,625.3 L2006.2,625.1 L2007.0,625.3 L2007.8,625.4 L2008.5,625.6 L2009.2,625.7 L2010.0,625.4 L2010.8,625.1 L2011.5,625.2 L2012.2,625.3 L2013.0,625.2 L2013.8,625.2 L2014.5,625.2 L2015.2,625.3 L2016.0,625.3 L2016.8,625.3 L2017.5,625.3 L2018.2,625.2 L2019.0,625.4 L2019.8,625.5 L2020.5,625.4 L2021.2,625.5 L2022.0,625.6 L2022.8,625.6 L2023.5,625.6 L2024.2,625.6 L2025.0,625.5 L2025.8,625.6 L2026.5,625.7 L2027.2,625.7 L2028.0,625.5 L2028.8,625.5 L2029.5,625.6 L2030.2,625.6 L2031.0,625.4 L2031.8,625.5 L2032.5,625.8 L2033.2,625.7 L2034.0,625.5 L2034.8,625.5 L2035.5,625.7 L2036.2,625.7 L2037.0,625.5 L2037.8,625.5 L2038.5,625.5 L2039.2,625.3 L2040.0,625.0 L2040.8,624.7 L2041.5,624.3 L2042.2,623.7 L2043.0,623.1 L2043.8,622.7 L2044.5,622.5 L2045.1,622.4 L2045.2,622.4 L2046.0,622.6 L2046.8,623.1 L2047.5,623.7 L2048.2,624.3 L2049.0,624.8 L2049.8,625.1 L2050.5,625.4 L2051.2,625.6 L2052.0,625.8 L2052.8,626.0 L2053.5,626.1 L2054.2,625.9 L2055.0,625.8 L2055.8,625.7 L2056.5,625.7 L2057.2,625.9 L2058.0,626.0 L2058.8,626.2 L2059.5,626.3 L2060.2,626.1 L2061.0,625.9 L2061.8,625.9 L2062.5,625.9 L2063.2,625.8 L2064.0,625.8 L2064.8,625.8 L2065.5,625.8 L2066.2,625.8 L2067.0,625.8 L2067.8,625.8 L2068.0,625.8 L2068.5,625.9 L2069.2,626.1 L2070.0,626.3 L2070.8,626.3 L2071.5,626.3 L2072.2,626.2 L2073.0,626.1 L2073.8,626.1 L2074.5,626.2 L2075.2,626.3 L2076.0,626.3 L2076.8,626.2 L2077.5,626.2 L2078.2,626.2 L2079.0,626.2 L2079.8,626.3 L2080.5,626.3 L2081.2,626.2 L2082.0,626.3 L2082.8,626.5 L2083.5,626.6 L2084.2,626.7 L2085.0,626.6 L2085.8,626.3 L2086.5,626.3 L2087.2,626.3 L2088.0,626.3 L2088.8,626.2 L2089.5,626.2 L2090.2,626.2 L2091.0,626.3 L2091.8,626.4 L2092.5,626.4 L2093.2,626.4 L2094.0,626.4 L2094.8,626.2 L2095.5,626.0 L2096.2,625.7 L2097.0,625.6 L2097.8,625.4 L2098.5,624.9 L2099.2,624.5 L2100.0,624.3 L2100.8,624.3 L2100.8,624.3 L2101.5,624.3 L2102.2,624.6 L2103.0,624.9 L2103.8,625.4 L2104.5,625.8 L2105.2,626.1 L2106.0,626.1 L2106.8,626.1 L2107.5,626.6 L2108.2,626.8 L2109.0,626.7 L2109.8,626.5 L2110.5,626.7 L2111.2,626.8 L2112.0,626.9 L2112.8,626.8 L2113.5,626.7 L2114.2,626.6 L2115.0,626.6 L2115.8,626.6 L2116.5,626.8 L2117.2,626.9 L2118.0,626.8 L2118.8,626.7 L2119.5,626.8 L2120.2,626.9 L2121.0,627.0 L2121.8,627.0 L2122.5,626.9 L2123.2,626.8 L2124.0,626.7 L2124.8,626.7 L2125.5,626.9 L2126.2,627.0 L2127.0,627.2 L2127.8,627.2 L2128.5,627.0 L2129.2,627.1 L2130.0,627.3 L2130.8,627.1 L2131.5,626.8 L2132.2,626.6 L2133.0,626.4 L2133.8,626.1 L2134.5,625.7 L2135.2,625.4 L2136.0,625.2 L2136.8,625.3 L2136.9,625.4 L2137.5,625.7 L2138.2,625.9 L2139.0,626.2 L2139.8,626.5 L2140.5,626.8 L2141.2,627.1 L2142.0,627.3 L2142.8,627.7 L2143.5,628.0 L2144.2,627.9 L2145.0,627.9 L2145.8,627.8 L2146.5,627.8 L2147.2,628.1 L2148.0,628.4 L2148.8,628.1 L2149.5,627.9 L2150.2,628.1 L2151.0,628.2 L2151.8,628.3 L2152.5,628.4 L2153.2,628.5 L2154.0,628.6 L2154.8,628.7 L2155.5,628.8 L2156.2,628.7 L2157.0,628.6 L2157.8,628.5 L2158.5,628.4 L2159.2,628.7 L2160.0,628.8 L2160.8,628.7 L2161.0,628.7 L2161.5,628.6 L2162.2,628.5 L2163.0,628.4 L2163.8,628.5 L2164.5,628.5 L2165.2,628.5 L2166.0,628.5 L2166.8,628.4 L2167.5,628.5 L2168.2,628.8 L2169.0,629.0 L2169.8,629.0 L2170.5,629.0 L2171.2,629.0 L2172.0,629.0 L2172.8,628.8 L2173.5,628.8 L2174.2,629.0 L2175.0,629.1 L2175.8,629.2 L2176.5,629.3 L2177.2,629.2 L2178.0,629.1 L2178.8,629.1 L2179.5,629.0 L2180.2,629.0 L2181.0,629.1 L2181.8,629.2 L2182.5,629.3 L2183.0,629.4"/>
<path id="c-purple" stroke="#C479E4" d="M186.0,449.0 L186.8,448.8 L187.5,448.6 L188.2,448.4 L189.0,448.8 L189.8,449.4 L190.5,449.9 L191.2,450.4 L192.0,450.1 L192.8,449.8 L193.5,449.8 L194.2,450.0 L195.0,450.1 L195.8,450.3 L196.5,449.7 L197.2,449.2 L198.0,450.0 L198.8,450.9 L199.5,450.0 L200.2,449.1 L201.0,449.5 L201.8,449.8 L202.5,450.4 L203.2,450.9 L204.0,450.1 L204.8,449.5 L205.5,449.6 L206.2,449.6 L207.0,449.4 L207.8,449.3 L208.5,449.5 L209.2,449.5 L210.0,448.8 L210.8,448.3 L211.5,448.7 L212.2,449.2 L213.0,449.9 L213.8,450.3 L214.5,449.8 L215.2,449.5 L216.0,449.3 L216.8,449.3 L217.5,449.4 L218.2,449.5 L219.0,449.5 L219.8,449.5 L220.5,449.4 L221.2,449.4 L222.0,449.5 L222.8,449.2 L223.5,448.5 L224.2,448.5 L225.0,449.2 L225.8,449.3 L226.5,448.8 L227.2,448.9 L228.0,449.3 L228.8,449.3 L229.5,449.1 L230.2,448.8 L231.0,448.4 L231.8,448.5 L232.5,448.8 L233.2,448.6 L234.0,448.3 L234.8,448.7 L235.5,449.3 L236.2,449.1 L237.0,448.8 L237.8,448.9 L238.5,449.2 L239.2,448.7 L240.0,448.1 L240.8,448.6 L241.5,449.5 L242.2,449.0 L243.0,448.4 L243.8,448.8 L244.5,449.3 L245.2,449.1 L246.0,448.9 L246.8,448.3 L247.5,447.7 L248.2,448.1 L249.0,448.5 L249.8,448.2 L250.5,447.9 L251.2,448.2 L252.0,448.4 L252.8,448.7 L253.5,448.9 L254.2,448.7 L255.0,448.5 L255.8,448.5 L256.5,448.5 L257.2,447.7 L258.0,447.3 L258.8,447.7 L259.5,447.9 L260.2,448.0 L261.0,448.0 L261.8,448.2 L262.5,448.2 L263.2,447.6 L264.0,447.4 L264.8,447.7 L265.5,447.9 L266.2,447.8 L267.0,447.5 L267.8,446.8 L268.5,446.5 L269.2,446.6 L270.0,446.9 L270.8,447.3 L271.5,447.2 L272.2,446.7 L273.0,446.4 L273.8,446.4 L274.5,446.7 L275.2,447.3 L276.0,447.4 L276.8,447.2 L277.5,447.0 L278.2,446.8 L279.0,446.7 L279.8,446.8 L280.5,446.7 L281.2,446.5 L282.0,446.4 L282.8,446.3 L283.5,446.3 L284.2,446.2 L285.0,446.4 L285.8,446.6 L286.5,446.9 L287.2,447.1 L288.0,446.6 L288.8,446.1 L289.5,446.1 L290.2,446.1 L291.0,446.1 L291.8,446.0 L292.5,445.6 L293.2,445.3 L294.0,445.7 L294.8,446.1 L295.5,446.2 L296.2,446.3 L297.0,445.8 L297.8,445.3 L298.5,445.7 L299.2,446.1 L300.0,445.6 L300.8,445.3 L301.5,445.8 L302.2,446.2 L303.0,446.1 L303.8,446.0 L304.5,445.5 L305.2,444.9 L306.0,444.4 L306.8,444.1 L307.5,444.6 L308.2,444.8 L309.0,444.4 L309.8,444.2 L310.5,444.1 L311.2,444.2 L312.0,444.5 L312.8,444.8 L313.5,445.3 L314.2,445.3 L315.0,444.8 L315.8,444.5 L316.5,444.4 L317.2,444.1 L318.0,443.6 L318.8,443.5 L319.5,443.8 L320.2,443.8 L321.0,443.5 L321.8,443.7 L322.5,444.2 L323.2,444.2 L324.0,443.9 L324.8,443.8 L325.5,443.9 L326.2,443.9 L327.0,443.9 L327.8,443.8 L328.5,443.7 L329.2,443.9 L330.0,444.2 L330.8,444.1 L331.5,443.9 L332.2,443.6 L333.0,443.3 L333.8,443.3 L334.5,443.4 L335.2,443.5 L336.0,443.6 L336.8,443.8 L337.5,444.0 L338.2,443.6 L339.0,443.2 L339.8,443.5 L340.0,443.6 L340.5,443.8 L341.2,443.2 L342.0,442.5 L342.8,442.5 L343.5,442.6 L344.2,442.1 L345.0,441.7 L345.8,442.3 L346.5,442.9 L347.2,442.2 L348.0,441.6 L348.8,441.6 L349.5,441.6 L350.2,442.0 L351.0,442.3 L351.8,441.8 L352.5,441.4 L353.2,441.3 L354.0,441.3 L354.8,441.7 L355.5,441.9 L356.2,441.5 L357.0,441.3 L357.8,441.5 L358.5,441.5 L359.2,441.1 L360.0,440.9 L360.8,441.2 L361.5,441.3 L362.2,441.4 L363.0,441.2 L363.8,440.9 L364.5,440.9 L365.2,441.3 L366.0,441.2 L366.8,440.5 L367.5,440.2 L368.2,440.2 L369.0,440.2 L369.8,440.3 L370.0,440.3 L370.5,440.5 L371.2,440.8 L372.0,440.8 L372.8,440.5 L373.5,440.4 L374.2,440.5 L375.0,440.8 L375.8,441.2 L376.5,441.6 L377.2,442.1 L378.0,442.0 L378.8,441.7 L379.5,441.5 L380.2,441.5 L381.0,441.8 L381.8,442.3 L382.0,442.5 L382.5,442.7 L383.2,443.1 L384.0,442.9 L384.8,442.7 L385.5,443.0 L386.2,443.3 L387.0,442.9 L387.8,442.5 L388.5,443.2 L389.2,443.9 L390.0,444.0 L390.8,444.2 L391.5,444.5 L392.2,444.8 L393.0,444.8 L393.8,444.8 L394.5,445.0 L395.2,445.2 L396.0,444.7 L396.8,444.4 L397.5,444.9 L398.2,445.3 L399.0,444.6 L399.8,444.1 L400.5,444.4 L401.2,444.8 L402.0,445.3 L402.8,445.6 L403.5,445.6 L404.2,445.2 L405.0,444.4 L405.8,444.1 L406.5,444.9 L407.2,445.2 L408.0,444.9 L408.8,444.7 L409.5,444.5 L410.2,444.6 L411.0,444.9 L411.8,445.0 L412.5,445.0 L413.2,445.2 L414.0,445.6 L414.8,445.3 L415.5,444.4 L416.2,444.2 L417.0,444.5 L417.8,444.7 L418.5,444.7 L419.2,444.4 L420.0,443.9 L420.8,444.3 L421.5,445.2 L422.2,445.6 L423.0,445.8 L423.8,445.3 L424.5,444.6 L425.2,444.6 L426.0,444.9 L426.8,444.8 L427.5,444.6 L428.2,444.7 L429.0,444.8 L429.8,444.6 L430.5,444.3 L431.2,444.6 L432.0,445.1 L432.8,444.6 L433.5,444.0 L434.2,444.6 L435.0,445.4 L435.8,445.1 L436.5,444.8 L437.2,445.3 L438.0,445.8 L438.8,444.6 L439.5,443.5 L440.0,443.8 L440.2,444.0 L441.0,444.4 L441.8,444.0 L442.5,443.7 L443.2,444.1 L444.0,444.4 L444.8,444.5 L445.5,444.6 L446.2,444.1 L447.0,443.8 L447.8,443.6 L448.5,443.4 L449.2,443.3 L450.0,443.4 L450.8,444.0 L451.5,444.5 L452.2,444.8 L453.0,445.0 L453.8,444.9 L454.5,444.7 L455.2,444.4 L456.0,444.0 L456.8,443.7 L457.5,443.6 L458.2,443.7 L459.0,443.6 L459.8,443.3 L460.5,443.0 L461.2,443.0 L462.0,443.4 L462.8,444.2 L463.5,444.3 L464.2,443.8 L465.0,443.7 L465.8,443.9 L466.5,443.8 L467.2,443.6 L468.0,443.8 L468.8,444.3 L469.5,444.4 L470.2,444.4 L471.0,443.9 L471.8,443.2 L472.5,443.1 L473.2,443.2 L474.0,443.1 L474.8,443.0 L475.5,443.4 L476.2,444.0 L477.0,444.1 L477.8,444.0 L478.5,443.6 L479.2,443.1 L480.0,443.7 L480.8,444.4 L481.5,443.8 L482.2,443.1 L483.0,442.7 L483.8,442.3 L484.5,442.0 L485.2,441.7 L486.0,442.2 L486.8,442.8 L487.5,442.9 L488.2,442.9 L489.0,442.6 L489.8,442.4 L490.5,442.6 L491.2,442.9 L492.0,443.1 L492.8,443.2 L493.5,442.8 L494.2,442.5 L495.0,442.7 L495.8,443.0 L496.5,443.2 L497.2,443.2 L498.0,442.8 L498.8,442.4 L499.5,442.1 L500.2,441.9 L501.0,442.2 L501.8,442.4 L502.5,442.3 L503.2,442.5 L504.0,443.0 L504.8,442.9 L505.5,442.1 L506.2,441.4 L507.0,441.0 L507.8,441.1 L508.5,441.6 L509.2,441.9 L510.0,441.8 L510.8,441.7 L511.5,441.4 L512.2,441.4 L513.0,441.7 L513.8,441.7 L514.5,441.6 L515.2,441.7 L516.0,441.9 L516.8,441.6 L517.5,440.9 L518.2,440.7 L519.0,440.7 L519.8,440.8 L520.5,441.0 L521.2,440.9 L522.0,440.7 L522.8,441.1 L523.5,441.6 L524.2,441.4 L525.0,441.2 L525.8,441.0 L526.5,440.7 L527.2,441.1 L528.0,441.5 L528.8,441.2 L529.5,440.9 L530.2,441.0 L531.0,441.1 L531.8,441.0 L532.5,440.9 L533.2,440.5 L534.0,440.2 L534.8,440.2 L535.5,440.2 L536.2,440.2 L537.0,440.1 L537.8,439.8 L538.5,439.5 L539.2,439.6 L540.0,439.8 L540.8,440.2 L541.5,440.4 L542.2,440.2 L543.0,439.9 L543.8,439.5 L544.5,439.4 L545.2,440.4 L546.0,440.7 L546.8,439.7 L547.5,439.1 L548.2,439.6 L549.0,439.9 L549.8,439.9 L550.5,440.0 L551.2,440.1 L552.0,439.9 L552.8,439.2 L553.5,438.9 L554.2,439.1 L555.0,439.2 L555.8,439.1 L556.5,439.3 L557.2,439.6 L558.0,439.7 L558.8,439.4 L559.5,439.3 L560.0,439.2 L560.2,439.2 L561.0,439.2 L561.8,439.2 L562.5,439.5 L563.2,439.9 L564.0,439.7 L564.8,439.3 L565.5,439.2 L566.2,439.2 L567.0,438.8 L567.8,438.2 L568.5,438.4 L569.2,438.9 L570.0,438.5 L570.8,437.9 L571.5,438.3 L572.2,438.9 L573.0,438.8 L573.8,438.5 L574.5,438.2 L575.2,437.9 L576.0,437.7 L576.8,437.6 L577.5,437.9 L578.2,438.2 L579.0,438.2 L579.8,438.2 L580.5,438.0 L581.2,437.8 L582.0,437.8 L582.8,437.8 L583.5,437.8 L584.2,437.8 L585.0,437.7 L585.8,437.6 L586.5,437.7 L587.2,437.8 L588.0,437.9 L588.8,438.0 L589.5,438.3 L590.2,438.5 L591.0,438.2 L591.8,438.0 L592.5,437.6 L593.2,437.5 L594.0,438.1 L594.8,438.5 L595.5,438.3 L596.2,438.1 L597.0,437.6 L597.8,437.4 L598.5,437.8 L599.2,437.8 L600.0,437.3 L600.8,437.0 L601.5,436.9 L602.2,436.8 L603.0,436.8 L603.8,437.1 L604.5,437.8 L605.2,437.9 L606.0,437.4 L606.8,437.2 L607.5,437.2 L608.2,437.2 L609.0,437.1 L609.8,436.9 L610.5,436.7 L611.2,436.8 L612.0,437.1 L612.8,437.2 L613.5,437.2 L614.2,437.5 L615.0,437.8 L615.8,437.3 L616.5,436.4 L617.2,436.7 L618.0,437.4 L618.8,437.3 L619.5,437.0 L620.2,436.3 L621.0,435.6 L621.8,436.2 L622.5,436.9 L623.2,437.2 L624.0,437.3 L624.8,437.2 L625.5,437.0 L626.2,436.7 L627.0,436.4 L627.8,436.3 L628.5,436.3 L629.2,435.6 L630.0,435.0 L630.8,435.6 L631.5,436.2 L632.2,436.2 L633.0,436.1 L633.8,435.7 L634.5,435.4 L635.2,435.7 L636.0,435.9 L636.8,435.6 L637.5,435.6 L638.2,436.4 L639.0,436.7 L639.8,435.7 L640.5,434.9 L641.2,435.0 L642.0,434.9 L642.8,434.5 L643.5,434.4 L644.2,434.9 L645.0,435.2 L645.8,435.4 L646.5,435.4 L647.2,435.3 L648.0,435.2 L648.8,435.0 L649.5,435.0 L650.2,435.5 L651.0,435.6 L651.8,435.3 L652.5,435.3 L653.2,435.6 L654.0,435.5 L654.8,435.0 L655.5,434.5 L656.2,434.0 L657.0,434.1 L657.8,434.5 L658.5,434.5 L659.2,434.2 L660.0,434.4 L660.8,435.0 L661.5,434.8 L662.2,434.3 L663.0,434.2 L663.8,434.3 L664.5,434.3 L665.2,434.4 L666.0,434.0 L666.8,433.5 L667.5,433.6 L668.2,433.9 L669.0,434.3 L669.8,434.6 L670.5,434.2 L671.2,433.7 L672.0,433.8 L672.8,433.8 L673.5,433.9 L674.2,434.0 L675.0,433.7 L675.8,433.4 L676.5,433.4 L677.2,433.5 L678.0,433.7 L678.8,433.8 L679.5,433.5 L680.0,433.3 L680.2,433.3 L681.0,433.4 L681.8,433.4 L682.5,433.3 L683.2,433.1 L684.0,432.8 L684.8,432.5 L685.5,432.3 L686.2,432.5 L687.0,433.4 L687.8,434.0 L688.5,433.7 L689.2,433.4 L690.0,432.8 L690.8,432.6 L691.5,432.8 L692.2,433.0 L693.0,433.0 L693.8,432.9 L694.5,432.8 L695.2,432.6 L696.0,432.1 L696.8,431.7 L697.5,431.4 L698.2,431.2 L699.0,431.2 L699.8,431.4 L700.0,431.5 L700.5,431.7 L701.2,432.1 L702.0,432.7 L702.8,432.9 L703.5,433.0 L704.2,432.8 L705.0,432.3 L705.8,432.1 L706.5,432.1 L707.2,432.5 L708.0,433.1 L708.8,433.5 L709.5,433.8 L710.2,433.3 L711.0,432.5 L711.8,432.7 L712.5,433.2 L713.2,433.3 L714.0,433.3 L714.8,433.2 L715.5,433.2 L716.2,433.3 L717.0,433.3 L717.8,433.4 L718.5,433.5 L719.2,433.7 L720.0,433.8 L720.8,433.4 L721.5,433.0 L722.2,433.5 L723.0,434.0 L723.8,434.3 L724.5,434.5 L725.2,434.5 L726.0,434.5 L726.8,434.5 L727.5,434.3 L728.2,433.8 L729.0,433.3 L729.8,432.9 L730.5,432.4 L731.2,432.4 L732.0,432.2 L732.8,431.1 L733.5,430.2 L734.2,430.0 L735.0,429.8 L735.8,429.9 L736.4,430.0 L736.5,430.0 L737.2,429.7 L738.0,429.4 L738.8,429.0 L739.5,428.9 L740.2,429.2 L741.0,429.5 L741.8,429.6 L742.5,429.8 L743.2,430.1 L744.0,430.2 L744.8,430.3 L745.5,430.6 L746.2,431.2 L746.8,431.5 L747.0,431.5 L747.8,431.8 L748.5,432.2 L749.2,432.8 L750.0,433.4 L750.8,433.9 L751.5,434.9 L752.2,436.1 L753.0,437.0 L753.8,437.8 L754.5,438.6 L755.2,439.5 L756.0,439.5 L756.8,439.1 L757.2,439.1 L757.5,439.1 L758.2,439.3 L759.0,439.7 L759.8,440.1 L760.5,439.7 L761.2,439.0 L762.0,439.2 L762.8,439.7 L763.5,439.7 L764.2,439.8 L765.0,439.7 L765.8,439.7 L766.5,439.4 L767.2,439.2 L768.0,439.4 L768.8,439.8 L769.5,439.3 L770.2,438.9 L771.0,439.7 L771.8,440.5 L772.5,440.0 L773.2,439.5 L774.0,439.7 L774.8,439.9 L775.5,439.9 L776.2,439.8 L777.0,439.9 L777.8,439.9 L778.0,439.9 L778.5,439.9 L779.2,439.9 L780.0,440.0 L780.8,440.0 L781.5,439.8 L782.2,439.6 L783.0,439.7 L783.8,439.7 L784.5,439.4 L785.2,439.1 L786.0,439.1 L786.8,439.2 L787.5,439.2 L788.2,439.2 L789.0,439.2 L789.8,439.1 L790.5,439.0 L791.2,439.0 L792.0,439.2 L792.8,439.5 L793.5,439.8 L794.2,440.0 L795.0,439.9 L795.8,439.7 L796.5,439.5 L797.2,439.5 L798.0,439.7 L798.8,439.7 L799.5,439.7 L800.2,440.1 L801.0,440.6 L801.8,440.0 L802.5,438.8 L803.2,438.9 L804.0,439.4 L804.8,439.2 L805.5,438.7 L806.2,439.1 L807.0,439.9 L807.8,439.7 L808.5,439.2 L809.2,439.3 L810.0,439.4 L810.8,439.4 L811.5,439.3 L812.2,439.4 L813.0,439.5 L813.8,438.7 L814.5,437.8 L815.2,438.0 L816.0,438.3 L816.8,438.6 L817.5,439.0 L818.2,438.5 L819.0,438.1 L819.8,438.6 L820.5,439.2 L821.2,439.3 L822.0,439.4 L822.8,438.6 L823.5,438.0 L824.2,438.2 L825.0,438.4 L825.8,438.7 L826.5,439.0 L827.2,439.3 L828.0,439.5 L828.8,439.2 L829.5,439.0 L830.2,438.9 L831.0,438.6 L831.8,438.1 L832.5,437.9 L833.2,438.1 L834.0,438.2 L834.8,438.2 L835.5,438.1 L836.2,437.9 L837.0,437.8 L837.8,438.1 L838.5,438.1 L839.2,437.9 L840.0,437.7 L840.8,437.6 L841.5,438.0 L842.2,438.7 L843.0,438.7 L843.8,437.9 L844.5,438.0 L845.2,438.5 L846.0,438.3 L846.8,437.6 L847.5,437.4 L848.2,437.4 L849.0,437.2 L849.8,436.8 L850.5,436.8 L851.2,437.0 L852.0,437.5 L852.8,438.1 L853.5,437.8 L854.2,437.3 L855.0,436.7 L855.8,436.0 L856.5,436.8 L857.2,437.7 L858.0,437.3 L858.8,436.5 L859.5,436.5 L860.2,436.6 L861.0,436.7 L861.8,436.8 L862.5,436.2 L863.2,435.6 L864.0,436.6 L864.8,437.6 L865.5,437.5 L866.2,437.4 L867.0,436.8 L867.8,436.4 L868.5,436.5 L869.2,436.7 L870.0,436.4 L870.8,436.2 L871.5,436.1 L872.2,436.0 L873.0,436.1 L873.8,436.0 L874.5,435.6 L875.2,435.4 L876.0,435.7 L876.8,435.9 L877.5,435.8 L878.2,435.9 L879.0,436.7 L879.8,436.8 L880.5,435.8 L881.2,435.3 L882.0,436.1 L882.8,436.6 L883.5,436.4 L884.2,436.2 L885.0,436.0 L885.8,435.7 L886.5,435.5 L887.2,435.7 L888.0,436.4 L888.8,436.6 L889.5,436.5 L890.2,436.2 L891.0,435.7 L891.8,435.4 L892.5,435.4 L893.2,435.4 L894.0,435.5 L894.8,435.8 L895.5,436.3 L896.2,435.8 L897.0,435.0 L897.8,434.9 L898.5,435.2 L899.2,435.5 L900.0,435.7 L900.8,435.2 L901.5,434.4 L902.2,434.5 L903.0,434.9 L903.8,435.2 L904.5,435.6 L905.2,435.2 L906.0,434.7 L906.8,434.7 L907.5,434.7 L908.2,434.3 L909.0,433.8 L909.8,434.3 L910.5,434.9 L911.2,434.4 L912.0,433.9 L912.8,434.1 L913.5,434.3 L914.2,434.5 L915.0,434.7 L915.8,434.3 L916.5,434.1 L917.2,434.5 L918.0,434.8 L918.8,434.8 L919.5,434.7 L920.2,434.6 L921.0,434.5 L921.8,434.6 L922.5,434.6 L923.2,434.3 L924.0,433.8 L924.8,433.2 L925.5,433.0 L926.2,433.9 L927.0,434.4 L927.8,434.4 L928.5,434.2 L929.2,433.8 L930.0,433.5 L930.8,433.3 L931.5,433.5 L932.2,434.0 L933.0,434.1 L933.8,433.6 L934.5,433.3 L935.2,433.3 L936.0,433.3 L936.8,433.2 L937.5,433.6 L938.2,434.4 L939.0,434.2 L939.8,433.3 L940.5,432.6 L941.2,432.1 L942.0,432.3 L942.8,432.9 L943.5,432.9 L944.2,432.6 L945.0,432.3 L945.8,432.1 L946.5,432.4 L947.2,432.9 L948.0,432.9 L948.8,432.6 L949.5,432.9 L950.2,433.3 L951.0,433.0 L951.8,432.6 L952.5,432.9 L953.2,433.4 L954.0,433.3 L954.8,433.2 L955.5,432.9 L956.2,432.6 L957.0,432.8 L957.8,433.0 L958.5,433.3 L959.2,433.5 L960.0,433.2 L960.8,432.8 L961.5,432.1 L962.2,431.5 L963.0,431.9 L963.8,432.3 L964.5,432.3 L965.2,432.4 L966.0,432.7 L966.8,432.8 L967.5,432.4 L968.2,432.1 L969.0,432.4 L969.8,432.6 L970.5,432.2 L971.2,431.9 L972.0,431.9 L972.8,431.9 L973.5,431.8 L974.2,431.8 L975.0,431.8 L975.8,431.8 L976.5,431.7 L977.2,431.7 L978.0,431.8 L978.8,431.8 L979.5,431.4 L980.2,431.1 L981.0,431.0 L981.8,431.1 L982.5,431.4 L983.2,431.5 L984.0,431.6 L984.8,431.5 L985.5,431.3 L986.2,431.3 L987.0,431.5 L987.8,431.6 L988.5,431.5 L989.2,431.8 L990.0,432.1 L990.8,431.6 L991.5,430.6 L992.2,431.0 L993.0,432.0 L993.8,431.4 L994.5,430.2 L995.2,429.9 L996.0,430.0 L996.8,430.4 L997.5,431.0 L998.2,430.8 L999.0,430.4 L999.8,430.5 L1000.5,430.7 L1001.2,430.6 L1002.0,430.5 L1002.8,430.3 L1003.5,430.0 L1004.2,429.9 L1005.0,429.9 L1005.8,430.1 L1006.5,430.4 L1007.2,430.6 L1008.0,430.8 L1008.8,430.8 L1009.5,430.9 L1010.2,430.7 L1011.0,430.6 L1011.8,430.4 L1012.5,430.3 L1013.2,430.7 L1014.0,430.9 L1014.8,429.9 L1015.5,429.2 L1016.2,429.8 L1017.0,430.4 L1017.8,430.7 L1018.5,431.0 L1019.2,431.1 L1020.0,431.1 L1020.8,430.9 L1021.5,430.8 L1022.2,430.8 L1023.0,430.8 L1023.8,430.7 L1024.5,430.5 L1025.2,430.2 L1026.0,429.8 L1026.8,429.1 L1027.5,428.9 L1028.2,429.3 L1029.0,429.6 L1029.8,429.6 L1030.5,429.9 L1031.2,430.4 L1032.0,430.4 L1032.8,429.7 L1033.5,429.4 L1034.2,429.4 L1035.0,429.6 L1035.8,429.9 L1036.5,429.7 L1037.2,429.1 L1038.0,429.1 L1038.8,429.4 L1039.5,429.6 L1040.2,429.7 L1041.0,429.5 L1041.8,429.3 L1042.5,429.2 L1043.2,429.3 L1044.0,428.9 L1044.8,428.3 L1045.5,428.3 L1046.2,428.4 L1047.0,428.7 L1047.8,429.0 L1048.5,429.3 L1049.2,429.7 L1050.0,429.3 L1050.8,428.7 L1051.5,428.6 L1052.2,428.4 L1053.0,428.4 L1053.8,428.4 L1054.5,428.8 L1055.2,429.2 L1056.0,428.6 L1056.8,428.0 L1057.5,428.4 L1058.2,428.8 L1059.0,428.6 L1059.8,428.5 L1060.5,428.6 L1061.2,428.6 L1062.0,428.3 L1062.8,428.1 L1063.5,428.4 L1064.0,428.5 L1064.2,428.6 L1065.0,429.0 L1065.8,429.1 L1066.5,428.6 L1067.2,428.2 L1068.0,428.1 L1068.8,427.9 L1069.5,427.4 L1070.2,427.3 L1071.0,428.0 L1071.8,428.3 L1072.5,427.9 L1073.2,427.8 L1074.0,428.1 L1074.8,428.2 L1075.5,428.1 L1076.2,427.9 L1077.0,427.6 L1077.8,427.4 L1078.5,427.4 L1079.2,427.3 L1080.0,427.1 L1080.8,427.5 L1081.5,428.5 L1082.2,428.7 L1083.0,428.3 L1083.8,428.1 L1084.5,428.1 L1085.2,428.1 L1086.0,428.2 L1086.8,428.2 L1087.5,428.2 L1088.2,428.1 L1089.0,427.9 L1089.8,427.9 L1090.5,427.9 L1091.2,428.2 L1092.0,428.5 L1092.8,427.6 L1093.5,426.3 L1094.2,426.6 L1095.0,427.1 L1095.8,426.9 L1096.5,426.7 L1097.2,426.8 L1098.0,426.9 L1098.8,426.3 L1099.5,425.6 L1100.2,425.9 L1101.0,426.1 L1101.8,426.7 L1102.5,427.2 L1103.2,426.5 L1104.0,425.9 L1104.8,426.4 L1105.5,426.8 L1106.2,426.4 L1107.0,426.0 L1107.8,426.2 L1108.5,426.2 L1109.2,425.8 L1110.0,425.5 L1110.8,425.7 L1111.5,425.8 L1112.2,425.5 L1113.0,425.4 L1113.8,426.0 L1114.5,426.2 L1115.2,425.5 L1116.0,425.2 L1116.8,425.8 L1117.5,426.1 L1118.2,425.8 L1119.0,425.6 L1119.8,425.7 L1120.5,425.9 L1121.2,426.3 L1122.0,426.4 L1122.8,425.8 L1123.5,425.4 L1124.2,425.3 L1125.0,425.3 L1125.8,425.5 L1126.5,425.6 L1127.2,425.8 L1128.0,425.6 L1128.8,425.2 L1129.5,425.4 L1130.2,426.1 L1131.0,426.0 L1131.8,425.5 L1132.5,425.2 L1133.2,425.0 L1134.0,424.9 L1134.8,424.7 L1135.5,424.8 L1136.2,424.9 L1137.0,425.1 L1137.8,425.3 L1138.5,425.4 L1139.2,425.5 L1140.0,425.3 L1140.8,424.9 L1141.5,424.7 L1142.2,424.4 L1143.0,424.5 L1143.8,424.7 L1144.5,424.1 L1145.2,423.4 L1146.0,424.2 L1146.8,425.2 L1147.5,425.1 L1148.2,425.0 L1149.0,424.7 L1149.8,424.3 L1150.5,424.6 L1151.2,424.8 L1152.0,424.2 L1152.8,423.8 L1153.5,424.6 L1154.2,425.3 L1155.0,424.7 L1155.8,424.1 L1156.5,424.0 L1157.2,424.0 L1158.0,424.8 L1158.8,425.2 L1159.5,424.3 L1160.2,423.6 L1161.0,424.0 L1161.8,424.2 L1162.5,423.8 L1163.2,423.5 L1164.0,423.6 L1164.8,423.7 L1165.5,423.7 L1166.2,423.7 L1167.0,423.6 L1167.8,423.8 L1168.0,424.0 L1168.5,424.4 L1169.2,424.6 L1170.0,424.5 L1170.8,424.2 L1171.5,423.7 L1172.2,423.7 L1173.0,424.5 L1173.8,424.5 L1174.5,423.9 L1175.2,423.6 L1176.0,423.5 L1176.8,423.6 L1177.5,423.7 L1178.2,423.5 L1179.0,423.0 L1179.8,423.3 L1180.5,424.0 L1181.2,423.8 L1182.0,423.1 L1182.8,422.8 L1183.5,422.6 L1184.2,423.1 L1185.0,423.8 L1185.8,423.5 L1186.5,422.9 L1187.2,422.9 L1188.0,423.0 L1188.8,422.8 L1189.5,422.5 L1190.2,422.6 L1191.0,422.8 L1191.8,423.0 L1192.5,423.1 L1193.2,422.4 L1194.0,421.7 L1194.8,422.3 L1195.5,422.9 L1196.2,422.7 L1197.0,422.5 L1197.8,423.1 L1198.5,423.7 L1199.2,423.9 L1200.0,424.0 L1200.8,423.6 L1201.5,423.1 L1202.2,423.1 L1203.0,423.2 L1203.8,423.3 L1204.5,423.4 L1205.2,423.4 L1206.0,423.2 L1206.8,422.4 L1207.5,421.8 L1208.2,421.8 L1209.0,421.9 L1209.8,422.1 L1210.5,422.2 L1211.2,421.9 L1212.0,421.8 L1212.8,422.1 L1213.5,422.3 L1214.2,422.4 L1215.0,422.4 L1215.8,422.1 L1216.5,422.1 L1217.2,422.4 L1218.0,422.7 L1218.8,423.0 L1219.5,423.0 L1220.2,422.5 L1221.0,422.3 L1221.8,422.4 L1222.5,422.4 L1223.2,422.2 L1224.0,422.1 L1224.8,422.1 L1225.5,422.0 L1226.2,421.8 L1227.0,421.6 L1227.8,421.4 L1228.5,421.7 L1229.2,422.2 L1230.0,422.4 L1230.8,422.5 L1231.5,422.3 L1232.2,421.9 L1233.0,421.9 L1233.8,421.9 L1234.5,421.5 L1235.2,421.1 L1236.0,421.2 L1236.8,421.5 L1237.5,421.7 L1238.2,421.8 L1239.0,421.7 L1239.8,421.6 L1240.0,421.6 L1240.5,421.6 L1241.2,421.6 L1242.0,421.3 L1242.8,420.9 L1243.5,420.8 L1244.2,420.7 L1245.0,421.0 L1245.8,421.2 L1246.5,421.7 L1247.2,422.2 L1248.0,421.6 L1248.8,421.0 L1249.5,420.6 L1250.2,420.3 L1251.0,420.5 L1251.8,420.7 L1252.5,420.8 L1253.2,421.0 L1254.0,421.4 L1254.8,421.7 L1255.5,421.6 L1256.2,421.4 L1257.0,420.8 L1257.8,420.3 L1258.5,420.2 L1259.2,420.2 L1260.0,420.4 L1260.8,420.5 L1261.5,420.6 L1262.2,420.4 L1263.0,420.1 L1263.8,420.1 L1264.5,420.7 L1265.2,420.8 L1266.0,420.3 L1266.8,420.2 L1267.5,420.3 L1268.2,420.3 L1269.0,420.1 L1269.8,420.2 L1270.5,420.3 L1271.2,420.3 L1272.0,420.0 L1272.8,420.0 L1273.5,420.1 L1274.2,420.2 L1275.0,420.5 L1275.8,420.4 L1276.5,420.0 L1277.2,420.1 L1278.0,420.5 L1278.8,419.9 L1279.5,419.1 L1280.2,419.1 L1281.0,419.4 L1281.8,419.2 L1282.5,418.9 L1283.2,418.7 L1284.0,418.6 L1284.8,418.8 L1285.5,419.2 L1286.2,419.7 L1287.0,420.3 L1287.8,419.9 L1288.5,419.3 L1289.2,419.5 L1290.0,419.7 L1290.8,418.8 L1291.5,417.9 L1292.0,418.3 L1292.2,418.5 L1293.0,419.0 L1293.8,418.6 L1294.5,418.2 L1295.2,418.6 L1296.0,418.9 L1296.8,419.1 L1297.5,419.2 L1298.2,418.7 L1299.0,418.4 L1299.8,418.8 L1300.5,419.0 L1301.2,418.4 L1302.0,418.0 L1302.8,418.2 L1303.5,418.3 L1304.2,418.0 L1305.0,417.9 L1305.8,418.1 L1306.5,418.1 L1307.2,418.0 L1308.0,417.7 L1308.8,417.1 L1309.5,416.9 L1310.2,417.3 L1311.0,417.6 L1311.8,417.5 L1312.5,417.7 L1313.2,418.3 L1314.0,418.1 L1314.8,416.9 L1315.5,416.7 L1316.2,417.3 L1317.0,417.7 L1317.8,417.9 L1318.5,418.1 L1319.2,418.4 L1320.0,418.4 L1320.8,418.2 L1321.5,417.8 L1322.2,417.4 L1323.0,417.5 L1323.8,417.9 L1324.5,417.7 L1325.2,417.3 L1326.0,417.1 L1326.8,417.1 L1327.5,417.0 L1328.2,416.9 L1329.0,416.9 L1329.8,416.9 L1330.5,417.4 L1331.0,417.7 L1331.2,417.9 L1332.0,417.2 L1332.8,416.3 L1333.5,416.2 L1334.2,416.3 L1335.0,417.0 L1335.8,417.8 L1336.5,417.8 L1337.2,417.8 L1338.0,417.9 L1338.8,418.1 L1339.5,417.9 L1340.2,417.6 L1341.0,418.0 L1341.8,418.3 L1342.5,418.1 L1343.2,417.9 L1344.0,417.9 L1344.8,417.9 L1345.5,418.0 L1346.2,418.1 L1347.0,418.3 L1347.8,418.5 L1348.5,418.4 L1349.0,418.4 L1349.2,418.4 L1350.0,418.2 L1350.8,418.1 L1351.5,418.5 L1352.2,418.6 L1353.0,418.0 L1353.8,417.4 L1354.5,416.9 L1355.2,416.3 L1356.0,415.7 L1356.8,415.4 L1357.5,415.4 L1358.2,415.2 L1359.0,414.6 L1359.8,414.3 L1360.5,414.4 L1361.0,414.5 L1361.2,414.4 L1362.0,414.4 L1362.8,414.5 L1363.5,414.7 L1364.2,415.1 L1365.0,415.6 L1365.8,415.7 L1366.5,415.3 L1367.2,415.9 L1368.0,417.2 L1368.8,417.8 L1369.5,417.8 L1370.2,417.9 L1371.0,418.1 L1371.8,418.3 L1372.5,418.7 L1373.2,419.3 L1374.0,420.0 L1374.8,420.3 L1375.0,420.3 L1375.5,420.4 L1376.2,421.1 L1377.0,422.0 L1377.8,422.1 L1378.5,422.0 L1379.2,422.1 L1380.0,422.4 L1380.8,422.7 L1381.5,423.0 L1382.2,423.7 L1383.0,424.5 L1383.8,425.2 L1384.5,425.8 L1385.2,425.5 L1386.0,425.2 L1386.8,426.2 L1387.5,426.6 L1388.2,426.7 L1389.0,426.7 L1389.8,426.4 L1390.5,425.5 L1391.2,423.7 L1392.0,420.2 L1392.8,414.6 L1393.5,406.3 L1394.2,395.9 L1395.0,384.3 L1395.8,373.4 L1396.5,365.5 L1397.2,362.5 L1397.3,362.5 L1398.0,365.1 L1398.8,372.8 L1399.5,383.8 L1400.2,395.8 L1401.0,406.8 L1401.8,415.6 L1402.5,422.0 L1403.2,426.0 L1404.0,428.4 L1404.8,429.6 L1405.5,430.3 L1406.2,430.6 L1406.4,430.6 L1407.0,430.7 L1407.8,430.8 L1408.5,430.6 L1409.2,430.3 L1410.0,430.3 L1410.8,430.9 L1411.5,431.2 L1412.2,431.3 L1413.0,431.3 L1413.8,431.4 L1414.5,431.1 L1415.2,430.7 L1416.0,430.5 L1416.8,430.4 L1417.5,430.7 L1418.2,431.3 L1419.0,431.3 L1419.8,431.1 L1420.5,431.0 L1421.2,431.0 L1422.0,431.2 L1422.8,431.6 L1423.5,431.7 L1424.2,431.7 L1425.0,431.5 L1425.8,431.4 L1426.5,431.2 L1427.2,430.9 L1428.0,431.3 L1428.8,431.9 L1429.5,431.2 L1430.2,430.5 L1431.0,430.7 L1431.8,431.0 L1432.5,431.1 L1433.2,431.2 L1434.0,430.7 L1434.8,430.2 L1435.5,430.3 L1436.2,430.5 L1437.0,431.0 L1437.8,431.4 L1438.5,431.1 L1439.2,430.8 L1440.0,430.5 L1440.8,430.4 L1441.5,431.2 L1442.2,431.8 L1443.0,431.3 L1443.8,430.9 L1444.5,430.9 L1445.2,431.0 L1446.0,431.5 L1446.8,431.6 L1447.5,430.6 L1448.2,430.0 L1449.0,430.2 L1449.8,430.4 L1450.5,430.2 L1451.2,430.4 L1452.0,431.1 L1452.8,431.2 L1453.5,430.5 L1454.2,430.5 L1455.0,431.5 L1455.8,431.7 L1456.5,431.2 L1457.2,430.8 L1458.0,430.8 L1458.8,430.8 L1459.5,431.0 L1460.2,430.9 L1461.0,430.5 L1461.8,430.2 L1462.5,430.0 L1463.2,429.9 L1464.0,430.0 L1464.8,430.2 L1465.5,430.3 L1466.2,430.2 L1467.0,429.8 L1467.8,430.0 L1468.5,430.3 L1469.2,430.2 L1470.0,429.9 L1470.8,430.0 L1471.5,430.1 L1472.2,430.1 L1473.0,430.1 L1473.8,430.6 L1474.5,431.0 L1475.2,431.3 L1476.0,431.5 L1476.8,431.4 L1477.5,431.3 L1478.2,430.7 L1479.0,430.1 L1479.8,429.9 L1480.5,429.7 L1481.2,430.2 L1482.0,430.7 L1482.8,430.8 L1483.5,430.9 L1484.2,430.7 L1485.0,430.6 L1485.8,430.1 L1486.5,429.7 L1487.2,430.0 L1488.0,430.2 L1488.8,430.0 L1489.5,429.9 L1490.2,430.3 L1491.0,430.6 L1491.8,430.6 L1492.5,430.5 L1493.2,430.3 L1494.0,430.0 L1494.8,429.8 L1495.5,429.9 L1496.2,430.5 L1497.0,430.8 L1497.8,430.3 L1498.5,430.1 L1499.2,430.3 L1500.0,430.4 L1500.8,430.3 L1501.5,430.3 L1502.2,430.3 L1503.0,430.4 L1503.8,430.5 L1504.5,430.4 L1505.2,429.9 L1506.0,429.7 L1506.8,429.6 L1507.5,429.8 L1508.2,430.1 L1509.0,429.7 L1509.8,428.9 L1510.5,428.9 L1511.2,429.6 L1512.0,429.7 L1512.8,429.6 L1513.5,429.8 L1514.2,430.2 L1515.0,430.2 L1515.8,430.1 L1516.5,429.9 L1517.2,429.7 L1518.0,429.5 L1518.8,429.2 L1519.5,429.3 L1520.2,429.6 L1521.0,429.7 L1521.8,429.6 L1522.5,429.7 L1523.2,429.8 L1524.0,429.9 L1524.8,429.9 L1525.5,429.6 L1526.2,429.4 L1527.0,429.7 L1527.8,430.1 L1528.5,429.7 L1529.2,429.4 L1530.0,429.7 L1530.8,430.0 L1531.5,429.9 L1532.2,429.9 L1533.0,430.2 L1533.8,430.4 L1534.5,430.0 L1535.2,429.8 L1536.0,430.3 L1536.8,430.6 L1537.5,430.0 L1538.2,429.4 L1539.0,429.3 L1539.8,429.3 L1540.5,429.7 L1541.2,429.9 L1542.0,429.3 L1542.8,429.1 L1543.5,429.6 L1544.2,429.9 L1545.0,429.9 L1545.8,429.9 L1546.5,429.8 L1547.2,429.8 L1548.0,429.9 L1548.8,429.9 L1549.5,429.8 L1550.2,429.9 L1551.0,430.2 L1551.8,430.2 L1552.5,429.8 L1553.2,429.3 L1554.0,428.7 L1554.8,428.7 L1555.5,429.2 L1556.2,429.6 L1557.0,430.0 L1557.8,430.2 L1558.5,430.2 L1559.2,430.2 L1560.0,430.1 L1560.8,429.9 L1561.5,429.7 L1562.2,429.4 L1563.0,429.1 L1563.8,429.6 L1564.5,430.4 L1565.2,430.1 L1566.0,429.4 L1566.8,429.1 L1567.5,429.0 L1568.2,428.7 L1569.0,428.3 L1569.8,429.3 L1570.0,429.8 L1570.5,430.6 L1571.2,430.3 L1572.0,429.7 L1572.8,429.2 L1573.5,428.8 L1574.2,429.6 L1575.0,430.5 L1575.8,430.6 L1576.5,430.6 L1577.2,430.1 L1578.0,429.5 L1578.8,430.4 L1579.5,431.2 L1580.2,431.0 L1581.0,430.9 L1581.8,431.1 L1582.5,431.2 L1583.2,431.3 L1584.0,431.3 L1584.3,431.2 L1584.8,430.9 L1585.5,429.5 L1586.2,427.5 L1587.0,425.2 L1587.5,423.6 L1587.8,422.8 L1588.5,419.8 L1589.2,416.4 L1590.0,413.0 L1590.8,410.2 L1591.5,408.5 L1591.9,408.2 L1592.2,408.9 L1593.0,413.5 L1593.8,419.8 L1594.3,423.5 L1594.5,424.5 L1595.2,428.5 L1596.0,431.2 L1596.3,431.6 L1596.8,431.8 L1597.5,432.0 L1598.2,432.1 L1599.0,432.3 L1599.8,432.5 L1600.5,432.7 L1601.2,432.7 L1602.0,432.6 L1602.7,432.4 L1602.8,432.4 L1603.5,432.6 L1604.2,432.9 L1605.0,432.6 L1605.8,431.8 L1606.5,431.8 L1607.2,432.2 L1608.0,431.9 L1608.8,431.3 L1609.5,431.3 L1610.2,431.7 L1610.8,431.6 L1611.0,431.5 L1611.8,430.9 L1612.5,431.2 L1613.2,431.8 L1614.0,431.8 L1614.8,431.6 L1615.5,431.4 L1616.2,431.3 L1617.0,431.5 L1617.8,431.6 L1618.5,431.6 L1619.2,431.6 L1620.0,431.8 L1620.8,432.2 L1621.5,431.8 L1622.2,431.3 L1623.0,431.7 L1623.8,432.0 L1624.5,431.8 L1625.2,431.6 L1626.0,431.5 L1626.8,431.5 L1627.5,431.5 L1628.2,431.6 L1629.0,431.4 L1629.8,431.3 L1630.5,431.8 L1631.2,432.2 L1631.2,432.2 L1632.0,432.1 L1632.8,432.1 L1633.5,432.2 L1634.2,432.2 L1635.0,431.6 L1635.8,431.3 L1636.5,431.7 L1637.2,432.2 L1638.0,432.8 L1638.8,433.2 L1639.5,433.2 L1640.2,433.0 L1641.0,432.7 L1641.8,432.5 L1642.5,432.6 L1643.2,432.7 L1644.0,432.8 L1644.8,433.0 L1645.5,433.3 L1646.2,433.5 L1647.0,433.7 L1647.8,433.6 L1648.5,433.3 L1649.2,433.2 L1650.0,433.2 L1650.8,433.1 L1651.5,433.1 L1652.2,433.1 L1653.0,433.3 L1653.8,433.5 L1654.5,433.9 L1654.7,434.0 L1655.2,433.6 L1656.0,432.7 L1656.8,432.3 L1657.5,432.1 L1658.2,431.3 L1659.0,430.2 L1659.8,429.5 L1660.5,429.1 L1661.2,428.6 L1662.0,428.2 L1662.3,428.2 L1662.8,428.4 L1663.5,428.9 L1664.2,429.8 L1665.0,430.9 L1665.8,431.5 L1666.5,432.1 L1667.2,432.5 L1668.0,432.7 L1668.8,432.8 L1669.0,432.8 L1669.5,432.7 L1670.2,433.2 L1671.0,433.6 L1671.8,433.2 L1672.5,432.7 L1673.2,432.7 L1674.0,432.8 L1674.8,433.0 L1675.5,433.2 L1676.1,433.3 L1676.2,433.3 L1677.0,433.2 L1677.8,432.4 L1678.5,431.5 L1679.2,431.2 L1680.0,431.1 L1680.8,431.4 L1681.2,431.8 L1681.5,431.8 L1682.2,431.3 L1683.0,430.9 L1683.8,430.9 L1684.5,430.8 L1685.2,430.7 L1686.0,430.8 L1686.8,431.3 L1687.5,431.6 L1688.2,431.6 L1689.0,431.6 L1689.8,431.5 L1690.5,431.4 L1691.2,431.4 L1692.0,431.1 L1692.8,430.6 L1693.5,430.5 L1694.2,430.7 L1695.0,431.0 L1695.8,431.4 L1696.5,431.6 L1697.2,431.6 L1697.6,431.7 L1698.0,431.7 L1698.8,431.9 L1699.5,432.1 L1700.2,432.3 L1701.0,432.9 L1701.8,433.8 L1702.5,434.2 L1703.2,434.3 L1704.0,434.1 L1704.8,433.7 L1705.5,434.2 L1706.2,435.0 L1707.0,435.3 L1707.8,435.4 L1708.5,435.4 L1709.2,435.5 L1710.0,435.5 L1710.8,435.4 L1710.8,435.4 L1711.5,435.6 L1712.2,435.7 L1713.0,436.0 L1713.8,436.3 L1714.5,435.5 L1715.2,434.6 L1716.0,434.5 L1716.8,434.4 L1717.5,434.2 L1718.0,434.0 L1718.2,433.9 L1719.0,433.3 L1719.8,432.6 L1720.5,432.8 L1721.2,432.9 L1722.0,432.4 L1722.8,431.8 L1723.5,431.4 L1724.2,430.9 L1724.6,430.6 L1725.0,430.1 L1725.8,428.5 L1726.5,426.8 L1727.1,425.8 L1727.2,425.6 L1728.0,424.5 L1728.8,423.7 L1729.5,423.3 L1729.7,423.3 L1730.2,423.8 L1731.0,425.6 L1731.7,427.7 L1731.8,427.8 L1732.5,431.1 L1733.2,434.9 L1733.8,436.8 L1734.0,437.2 L1734.8,438.5 L1735.5,439.7 L1736.2,440.6 L1737.0,441.5 L1737.3,441.9 L1737.8,442.4 L1738.5,443.4 L1739.2,444.2 L1740.0,444.8 L1740.8,445.5 L1741.5,446.2 L1742.2,446.8 L1743.0,447.3 L1743.5,447.6 L1743.8,447.8 L1744.5,448.2 L1745.2,448.7 L1746.0,449.2 L1746.8,449.3 L1747.5,449.2 L1748.2,449.2 L1748.2,449.2 L1749.0,449.3 L1749.8,449.0 L1750.5,448.5 L1751.2,447.8 L1751.7,447.3 L1752.0,446.9 L1752.8,445.4 L1753.5,442.9 L1754.1,440.3 L1754.2,439.3 L1755.0,430.8 L1755.1,429.8 L1755.8,424.2 L1756.1,421.1 L1756.5,417.3 L1757.1,411.1 L1757.2,409.5 L1758.0,400.6 L1758.2,398.3 L1758.8,392.0 L1759.2,387.2 L1759.5,384.1 L1760.2,378.0 L1760.2,377.7 L1761.0,375.0 L1761.8,376.8 L1762.0,378.0 L1762.5,383.2 L1762.6,385.0 L1763.1,415.9 L1763.2,419.7 L1763.9,430.1 L1764.0,431.9 L1764.5,440.1 L1764.8,443.4 L1765.4,449.7 L1765.5,450.2 L1766.2,453.4 L1766.9,455.0 L1767.0,455.2 L1767.8,456.5 L1768.5,457.5 L1769.2,457.9 L1769.2,458.0 L1770.0,458.4 L1770.8,458.6 L1771.5,458.5 L1772.2,458.4 L1773.0,458.4 L1773.8,458.5 L1774.1,458.5 L1774.5,458.5 L1775.2,458.6 L1776.0,458.6 L1776.8,458.5 L1777.5,458.5 L1778.2,458.5 L1779.0,458.5 L1779.8,458.5 L1780.5,458.5 L1781.2,458.5 L1782.0,458.5 L1782.8,458.5 L1783.5,458.6 L1784.2,458.6 L1785.0,458.6 L1785.8,458.6 L1786.5,458.5 L1787.2,458.5 L1788.0,458.4 L1788.8,458.4 L1789.5,458.4 L1790.0,458.4 L1790.2,458.5 L1791.0,458.5 L1791.8,458.4 L1792.5,458.4 L1793.2,458.4 L1794.0,458.4 L1794.8,458.5 L1795.5,458.5 L1796.2,458.5 L1797.0,458.6 L1797.8,458.6 L1798.5,458.6 L1799.2,458.6 L1800.0,458.5 L1800.8,458.5 L1801.5,458.5 L1802.2,458.6 L1803.0,458.6 L1803.8,458.5 L1804.5,458.6 L1805.2,458.6 L1806.0,458.5 L1806.8,458.4 L1807.5,458.4 L1808.2,458.4 L1809.0,458.5 L1809.8,458.5 L1810.5,458.6 L1811.2,458.7 L1812.0,458.6 L1812.8,458.4 L1813.5,458.2 L1814.2,457.9 L1815.0,457.6 L1815.8,457.3 L1816.5,457.3 L1817.2,457.5 L1818.0,457.6 L1818.8,457.8 L1819.5,458.1 L1820.2,458.3 L1821.0,458.4 L1821.8,458.5 L1822.5,458.5 L1823.2,458.5 L1824.0,458.5 L1824.8,458.5 L1825.5,458.6 L1826.2,458.6 L1827.0,458.6 L1827.8,458.5 L1828.5,458.4 L1829.2,458.4 L1830.0,458.6 L1830.8,458.7 L1831.5,458.6 L1832.2,458.6 L1833.0,458.5 L1833.8,458.4 L1834.5,458.5 L1835.2,458.4 L1836.0,458.4 L1836.8,458.4 L1837.5,458.6 L1838.2,458.6 L1839.0,458.5 L1839.8,458.5 L1840.5,458.5 L1841.2,458.6 L1842.0,458.6 L1842.8,458.6 L1843.5,458.7 L1844.2,458.6 L1845.0,458.6 L1845.8,458.5 L1846.5,458.5 L1847.2,458.5 L1848.0,458.6 L1848.8,458.6 L1849.5,458.6 L1850.2,458.6 L1851.0,458.5 L1851.8,458.5 L1852.5,458.5 L1853.2,458.5 L1854.0,458.4 L1854.8,458.5 L1855.5,458.7 L1856.2,458.6 L1857.0,458.5 L1857.8,458.6 L1858.5,458.6 L1859.2,458.6 L1860.0,458.6 L1860.8,458.6 L1861.5,458.6 L1862.2,458.6 L1863.0,458.7 L1863.8,458.6 L1864.5,458.5 L1865.2,458.5 L1866.0,458.6 L1866.8,458.5 L1867.5,458.5 L1868.2,458.5 L1869.0,458.5 L1869.8,458.5 L1870.5,458.5 L1871.2,458.7 L1872.0,458.8 L1872.8,458.7 L1873.5,458.6 L1874.2,458.7 L1875.0,458.7 L1875.8,458.6 L1876.5,458.5 L1877.2,458.7 L1878.0,458.7 L1878.8,458.6 L1879.5,458.6 L1880.2,458.6 L1881.0,458.6 L1881.8,458.6 L1882.5,458.5 L1883.2,458.4 L1884.0,458.4 L1884.8,458.4 L1885.5,458.4 L1886.2,458.6 L1887.0,458.6 L1887.8,458.5 L1888.5,458.5 L1889.2,458.6 L1890.0,458.7 L1890.8,458.8 L1891.5,458.7 L1892.2,458.6 L1893.0,458.7 L1893.8,458.8 L1894.5,458.8 L1895.2,458.7 L1896.0,458.6 L1896.8,458.5 L1897.5,458.6 L1898.2,458.7 L1899.0,458.7 L1899.8,458.7 L1900.5,458.7 L1901.2,458.7 L1902.0,458.6 L1902.8,458.6 L1903.5,458.5 L1904.2,458.5 L1905.0,458.6 L1905.8,458.7 L1906.5,458.8 L1907.2,458.9 L1908.0,458.8 L1908.8,458.8 L1909.5,458.7 L1910.2,458.6 L1911.0,458.6 L1911.8,458.6 L1912.5,458.7 L1913.2,458.7 L1914.0,458.7 L1914.8,458.8 L1915.5,458.7 L1916.2,458.7 L1917.0,458.7 L1917.8,458.7 L1918.5,458.7 L1919.2,458.6 L1920.0,458.5 L1920.8,458.4 L1921.5,458.5 L1922.2,458.6 L1923.0,458.6 L1923.8,458.7 L1924.5,458.6 L1925.2,458.6 L1926.0,458.8 L1926.8,458.9 L1927.5,458.7 L1928.2,458.6 L1929.0,458.7 L1929.8,458.8 L1930.5,458.8 L1931.2,458.8 L1932.0,458.8 L1932.8,458.8 L1933.5,458.6 L1934.0,458.6 L1934.2,458.6 L1935.0,458.7 L1935.8,458.7 L1936.5,458.9 L1937.2,458.8 L1938.0,458.8 L1938.8,458.8 L1939.5,458.8 L1940.2,458.7 L1941.0,458.5 L1941.8,458.6 L1942.5,458.7 L1943.2,458.8 L1944.0,458.8 L1944.8,458.8 L1945.5,458.8 L1946.2,458.7 L1947.0,458.6 L1947.8,458.6 L1948.5,458.6 L1949.2,458.4 L1950.0,458.1 L1950.8,457.6 L1951.5,456.7 L1952.2,455.6 L1953.0,454.3 L1953.8,453.3 L1954.5,452.6 L1955.1,452.4 L1955.2,452.4 L1956.0,452.8 L1956.8,453.7 L1957.5,454.9 L1958.2,456.2 L1959.0,457.3 L1959.8,457.9 L1960.5,458.3 L1961.2,458.6 L1962.0,458.8 L1962.8,459.0 L1963.5,459.1 L1964.2,459.0 L1965.0,459.0 L1965.8,459.0 L1966.5,458.9 L1967.2,459.0 L1968.0,459.0 L1968.8,459.0 L1969.5,458.9 L1970.2,458.9 L1971.0,458.9 L1971.8,458.9 L1972.5,458.9 L1973.2,459.0 L1974.0,459.0 L1974.8,459.0 L1975.0,459.0 L1975.5,459.0 L1976.2,459.0 L1977.0,459.0 L1977.8,459.0 L1978.5,459.0 L1979.2,459.0 L1980.0,459.1 L1980.8,459.1 L1981.5,459.1 L1982.2,459.0 L1983.0,459.0 L1983.8,459.2 L1984.5,459.2 L1985.2,459.0 L1986.0,459.0 L1986.8,459.0 L1987.5,459.0 L1988.2,459.0 L1989.0,459.0 L1989.8,458.9 L1990.5,458.9 L1991.2,458.9 L1992.0,458.9 L1992.8,458.9 L1993.5,459.0 L1994.2,459.1 L1995.0,459.0 L1995.8,459.0 L1996.5,459.1 L1997.2,459.3 L1998.0,459.2 L1998.8,459.1 L1999.5,459.1 L2000.2,459.1 L2001.0,459.1 L2001.8,459.1 L2002.5,459.1 L2003.2,459.2 L2004.0,459.2 L2004.8,459.2 L2005.5,459.2 L2006.2,459.2 L2007.0,459.2 L2007.8,459.3 L2008.5,459.3 L2009.2,459.3 L2010.0,459.2 L2010.8,459.1 L2011.5,459.2 L2012.2,459.3 L2013.0,459.2 L2013.8,459.2 L2014.5,459.2 L2015.2,459.2 L2016.0,459.2 L2016.8,459.2 L2017.5,459.2 L2018.2,459.3 L2019.0,459.3 L2019.8,459.3 L2020.5,459.3 L2021.2,459.2 L2022.0,459.2 L2022.8,459.2 L2023.5,459.2 L2024.2,459.1 L2025.0,458.8 L2025.8,458.3 L2026.5,457.6 L2027.2,456.6 L2028.0,455.4 L2028.8,454.1 L2029.5,453.0 L2030.2,452.3 L2030.6,452.2 L2031.0,452.3 L2031.8,453.0 L2032.5,454.2 L2033.2,455.5 L2034.0,456.8 L2034.8,457.8 L2035.5,458.5 L2036.2,458.9 L2037.0,459.1 L2037.8,459.2 L2038.5,459.2 L2039.2,459.2 L2040.0,459.2 L2040.8,459.2 L2041.5,459.2 L2042.2,459.2 L2043.0,459.3 L2043.8,459.3 L2044.5,459.2 L2045.2,459.3 L2046.0,459.4 L2046.8,459.3 L2047.5,459.3 L2048.2,459.4 L2049.0,459.5 L2049.8,459.4 L2050.5,459.3 L2051.2,459.3 L2052.0,459.4 L2052.8,459.4 L2053.5,459.3 L2054.2,459.3 L2055.0,459.4 L2055.8,459.5 L2056.5,459.5 L2057.2,459.4 L2058.0,459.3 L2058.8,459.3 L2059.5,459.3 L2060.2,459.3 L2061.0,459.4 L2061.8,459.4 L2062.5,459.4 L2063.2,459.3 L2064.0,459.3 L2064.8,459.5 L2065.5,459.5 L2066.2,459.4 L2067.0,459.3 L2067.8,459.3 L2068.5,459.4 L2069.2,459.4 L2070.0,459.4 L2070.8,459.4 L2071.5,459.4 L2072.2,459.3 L2073.0,459.4 L2073.8,459.5 L2074.5,459.6 L2075.2,459.6 L2076.0,459.6 L2076.8,459.5 L2077.5,459.5 L2078.2,459.5 L2079.0,459.5 L2079.8,459.5 L2080.5,459.6 L2081.2,459.7 L2082.0,459.6 L2082.8,459.5 L2083.5,459.5 L2084.2,459.5 L2085.0,459.5 L2085.8,459.4 L2086.5,459.5 L2087.2,459.5 L2088.0,459.5 L2088.8,459.5 L2089.5,459.4 L2090.2,459.4 L2091.0,459.4 L2091.8,459.5 L2092.5,459.5 L2093.2,459.6 L2094.0,459.5 L2094.8,459.5 L2095.5,459.5 L2096.2,459.6 L2097.0,459.5 L2097.8,459.5 L2098.5,459.6 L2099.2,459.6 L2100.0,459.5 L2100.8,459.4 L2101.5,459.4 L2102.2,459.4 L2103.0,459.5 L2103.8,459.6 L2104.5,459.7 L2105.2,459.7 L2106.0,459.6 L2106.8,459.5 L2107.5,459.4 L2108.2,459.3 L2109.0,459.5 L2109.8,459.7 L2110.5,459.6 L2111.2,459.6 L2112.0,459.5 L2112.8,459.5 L2113.5,459.7 L2114.2,459.7 L2115.0,459.7 L2115.8,459.7 L2116.5,459.6 L2117.2,459.5 L2118.0,459.6 L2118.8,459.6 L2119.5,459.7 L2120.2,459.7 L2121.0,459.7 L2121.8,459.7 L2122.5,459.8 L2123.2,459.8 L2124.0,459.7 L2124.8,459.8 L2125.5,459.8 L2126.2,459.8 L2127.0,459.7 L2127.8,459.6 L2128.5,459.6 L2129.2,459.6 L2130.0,459.6 L2130.8,459.6 L2131.5,459.6 L2132.2,459.6 L2133.0,459.7 L2133.8,459.7 L2134.5,459.6 L2135.2,459.7 L2136.0,459.8 L2136.8,459.9 L2137.5,459.9 L2138.2,459.9 L2139.0,460.0 L2139.8,459.9 L2140.5,459.7 L2141.2,459.7 L2142.0,459.7 L2142.8,459.7 L2143.5,459.8 L2144.2,459.8 L2145.0,459.9 L2145.8,459.8 L2146.5,459.8 L2147.2,459.9 L2148.0,460.0 L2148.8,460.0 L2149.5,460.0 L2150.2,460.1 L2151.0,460.1 L2151.8,460.0 L2152.5,460.0 L2153.2,460.1 L2154.0,460.2 L2154.8,460.2 L2155.5,460.1 L2156.2,460.1 L2157.0,460.1 L2157.8,460.3 L2158.5,460.4 L2159.2,460.5 L2160.0,460.6 L2160.8,460.6 L2161.5,460.6 L2162.2,460.5 L2163.0,460.6 L2163.8,460.7 L2164.5,460.9 L2165.2,461.1 L2166.0,461.2 L2166.8,461.3 L2167.5,461.4 L2168.2,461.4 L2169.0,461.5 L2169.8,461.6 L2170.5,461.7 L2171.2,461.9 L2172.0,462.0 L2172.8,462.1 L2173.5,462.2 L2174.2,462.5 L2175.0,462.6 L2175.8,462.6 L2176.5,462.7 L2177.0,462.7 L2177.2,462.8 L2178.0,462.8 L2178.8,462.7 L2179.5,462.8 L2180.2,462.9 L2181.0,463.1 L2181.8,463.2 L2182.5,463.3 L2183.0,463.3"/>
<path id="c-orange" stroke="#DE9C00" d="M186.0,272.9 L186.8,273.3 L187.5,273.2 L188.2,272.9 L189.0,273.0 L189.8,273.3 L190.5,273.4 L191.2,273.5 L192.0,272.9 L192.8,272.2 L193.5,272.7 L194.2,273.4 L195.0,273.1 L195.8,272.6 L196.5,273.2 L197.2,274.0 L198.0,273.7 L198.8,273.2 L199.5,272.8 L200.2,272.4 L201.0,272.6 L201.8,272.8 L202.5,272.8 L203.2,272.8 L204.0,272.8 L204.8,272.8 L205.5,273.1 L206.2,273.4 L207.0,273.1 L207.8,272.9 L208.5,273.2 L209.2,273.4 L210.0,273.1 L210.8,272.7 L211.5,272.5 L212.2,272.2 L213.0,271.7 L213.8,271.4 L214.5,271.4 L215.2,271.5 L216.0,272.1 L216.8,272.4 L217.5,272.6 L218.2,272.7 L219.0,272.9 L219.8,272.8 L220.5,272.1 L221.2,271.9 L222.0,272.1 L222.8,272.0 L223.5,271.7 L224.2,271.6 L225.0,271.7 L225.8,271.5 L226.5,270.9 L227.2,271.2 L228.0,272.1 L228.8,272.1 L229.5,271.7 L230.2,271.6 L231.0,271.8 L231.8,271.9 L232.5,272.1 L233.2,272.1 L234.0,272.0 L234.8,271.7 L235.5,271.1 L236.2,271.6 L237.0,272.5 L237.8,272.5 L238.5,272.2 L239.2,272.1 L240.0,272.0 L240.8,271.7 L241.5,271.3 L242.2,271.0 L243.0,270.7 L243.8,270.7 L244.5,270.6 L245.2,271.0 L246.0,271.4 L246.8,271.5 L247.5,271.6 L248.2,271.4 L249.0,271.1 L249.8,271.9 L250.0,272.1 L250.5,272.4 L251.2,272.0 L252.0,271.6 L252.8,271.6 L253.5,271.5 L254.2,271.0 L255.0,270.3 L255.8,269.2 L256.5,268.5 L257.0,268.7 L257.2,268.9 L258.0,269.6 L258.8,270.0 L259.5,270.4 L260.2,270.4 L261.0,270.5 L261.8,271.2 L262.0,271.4 L262.5,271.7 L263.2,271.8 L264.0,271.8 L264.8,271.8 L265.5,271.8 L266.2,271.8 L267.0,271.5 L267.8,270.7 L268.5,270.4 L269.2,270.8 L270.0,270.9 L270.8,270.8 L271.5,270.8 L272.2,270.9 L273.0,271.0 L273.8,271.0 L274.5,271.1 L275.2,271.4 L276.0,271.4 L276.8,271.3 L277.5,270.9 L278.2,270.4 L279.0,270.6 L279.8,271.0 L280.5,271.3 L281.2,271.5 L282.0,271.3 L282.8,270.8 L283.5,270.3 L284.2,269.7 L285.0,269.7 L285.8,269.9 L286.5,270.1 L287.2,270.2 L288.0,269.8 L288.8,269.3 L289.5,269.6 L290.2,270.0 L291.0,269.7 L291.8,269.3 L292.5,269.8 L293.2,270.4 L294.0,270.3 L294.8,270.3 L295.5,270.0 L296.2,269.7 L297.0,269.3 L297.8,268.9 L298.5,269.4 L299.2,269.7 L300.0,269.4 L300.8,269.1 L301.5,269.0 L302.2,269.0 L303.0,269.5 L303.8,269.8 L304.5,269.2 L305.2,268.7 L306.0,268.4 L306.8,268.4 L307.5,269.0 L308.2,269.5 L309.0,269.8 L309.8,269.9 L310.5,269.8 L311.2,269.6 L312.0,269.3 L312.8,269.2 L313.5,269.6 L314.2,269.5 L315.0,268.7 L315.8,268.5 L316.5,269.2 L317.2,269.6 L318.0,269.5 L318.8,269.1 L319.5,268.3 L320.2,268.0 L321.0,268.2 L321.8,267.9 L322.5,267.3 L323.2,267.1 L324.0,267.1 L324.8,267.4 L325.5,267.8 L326.2,267.6 L327.0,267.0 L327.8,267.1 L328.5,267.4 L329.2,267.5 L330.0,267.6 L330.8,267.4 L331.5,267.3 L332.2,267.4 L333.0,267.6 L333.8,267.8 L334.5,268.1 L335.2,267.6 L336.0,267.0 L336.8,267.1 L337.5,267.3 L338.2,267.4 L339.0,267.5 L339.8,266.9 L340.0,266.7 L340.5,266.2 L341.2,266.1 L342.0,265.9 L342.8,265.4 L343.5,264.9 L344.2,265.6 L345.0,266.3 L345.8,266.4 L346.5,266.5 L347.2,266.2 L348.0,266.1 L348.8,266.5 L349.5,266.8 L350.2,266.5 L351.0,266.3 L351.8,266.0 L352.5,265.7 L353.2,265.3 L354.0,265.0 L354.8,264.7 L355.5,264.5 L356.2,264.7 L357.0,264.9 L357.8,264.9 L358.5,264.9 L359.2,264.6 L360.0,264.5 L360.8,264.3 L361.5,264.2 L362.2,264.1 L363.0,264.2 L363.8,264.4 L364.5,264.2 L365.2,263.4 L366.0,263.2 L366.8,263.5 L367.5,263.8 L368.2,263.8 L369.0,264.0 L369.8,264.2 L370.0,264.2 L370.5,264.2 L371.2,264.3 L372.0,264.2 L372.8,264.0 L373.5,264.0 L374.2,264.1 L375.0,264.1 L375.8,264.2 L376.5,264.8 L377.2,265.7 L378.0,266.0 L378.8,266.1 L379.5,266.2 L380.2,266.3 L381.0,266.2 L381.8,266.1 L382.0,266.1 L382.5,266.1 L383.2,266.1 L384.0,266.9 L384.8,267.7 L385.5,267.7 L386.2,267.5 L387.0,267.8 L387.8,268.1 L388.5,268.7 L389.2,269.2 L390.0,268.4 L390.8,267.6 L391.5,268.0 L392.2,268.4 L393.0,268.8 L393.8,269.3 L394.5,269.5 L395.2,269.6 L396.0,269.2 L396.8,268.8 L397.5,269.2 L398.2,269.4 L399.0,269.3 L399.8,269.2 L400.5,269.2 L401.2,269.2 L402.0,269.5 L402.8,269.7 L403.5,269.7 L404.2,269.7 L405.0,270.0 L405.8,270.1 L406.5,270.0 L407.2,270.0 L408.0,270.2 L408.8,270.1 L409.5,269.4 L410.2,269.1 L411.0,269.5 L411.8,269.4 L412.5,268.9 L413.2,268.5 L414.0,268.5 L414.8,268.5 L415.5,268.5 L416.2,268.9 L417.0,269.5 L417.8,269.7 L418.5,269.5 L419.2,269.1 L420.0,268.6 L420.8,268.9 L421.5,269.8 L422.2,270.0 L423.0,269.9 L423.8,269.6 L424.5,269.2 L425.2,269.1 L426.0,269.1 L426.8,269.1 L427.5,269.2 L428.2,268.9 L429.0,268.5 L429.8,269.3 L430.5,270.3 L431.2,269.8 L432.0,268.9 L432.8,268.9 L433.5,269.0 L434.2,268.9 L435.0,268.9 L435.8,268.8 L436.5,268.7 L437.2,268.6 L438.0,268.5 L438.8,268.9 L439.5,269.2 L440.0,268.9 L440.2,268.7 L441.0,268.2 L441.8,268.3 L442.5,268.3 L443.2,268.4 L444.0,268.5 L444.8,269.0 L445.5,269.3 L446.2,268.7 L447.0,268.3 L447.8,268.2 L448.5,268.3 L449.2,268.7 L450.0,268.9 L450.8,268.4 L451.5,268.1 L452.2,268.4 L453.0,268.6 L453.8,269.0 L454.5,269.2 L455.2,269.0 L456.0,268.8 L456.8,268.7 L457.5,268.8 L458.2,269.2 L459.0,269.2 L459.8,268.6 L460.5,268.2 L461.2,268.1 L462.0,267.9 L462.8,267.5 L463.5,267.6 L464.2,268.2 L465.0,268.5 L465.8,268.6 L466.5,268.4 L467.2,268.0 L468.0,268.4 L468.8,269.1 L469.5,269.2 L470.2,268.9 L471.0,268.7 L471.8,268.7 L472.5,268.2 L473.2,267.5 L474.0,267.7 L474.8,268.1 L475.5,268.2 L476.2,268.2 L477.0,267.5 L477.8,266.8 L478.5,267.2 L479.2,267.8 L480.0,267.7 L480.8,267.6 L481.5,267.2 L482.2,266.7 L483.0,267.3 L483.8,267.9 L484.5,268.4 L485.2,268.8 L486.0,268.4 L486.8,268.0 L487.5,267.4 L488.2,267.0 L489.0,267.1 L489.8,267.3 L490.5,267.7 L491.2,267.9 L492.0,267.3 L492.8,266.8 L493.5,267.2 L494.2,267.4 L495.0,267.3 L495.8,267.2 L496.5,267.2 L497.2,267.3 L498.0,267.7 L498.8,267.7 L499.5,266.7 L500.2,266.3 L501.0,267.1 L501.8,267.5 L502.5,267.2 L503.2,266.9 L504.0,266.8 L504.8,266.5 L505.5,265.9 L506.2,265.9 L507.0,266.5 L507.8,266.7 L508.5,266.4 L509.2,266.0 L510.0,265.4 L510.8,265.3 L511.5,265.5 L512.2,265.6 L513.0,265.6 L513.8,265.6 L514.5,265.6 L515.2,265.7 L516.0,265.8 L516.8,265.7 L517.5,265.6 L518.2,266.1 L519.0,266.8 L519.8,266.8 L520.5,266.6 L521.2,266.3 L522.0,265.9 L522.8,266.1 L523.5,266.6 L524.2,266.8 L525.0,267.0 L525.8,266.5 L526.5,266.0 L527.2,265.4 L528.0,264.8 L528.8,265.2 L529.5,265.7 L530.2,266.0 L531.0,266.3 L531.8,265.5 L532.5,264.8 L533.2,265.0 L534.0,265.3 L534.8,265.5 L535.5,265.8 L536.2,265.8 L537.0,265.8 L537.8,265.7 L538.5,265.5 L539.2,265.4 L540.0,265.2 L540.8,265.0 L541.5,264.8 L542.2,264.6 L543.0,264.6 L543.8,265.0 L544.5,265.3 L545.2,265.3 L546.0,265.1 L546.8,264.6 L547.5,264.3 L548.2,264.2 L549.0,264.3 L549.8,264.9 L550.5,265.2 L551.2,265.1 L552.0,264.8 L552.8,264.2 L553.5,263.7 L554.2,263.4 L555.0,263.5 L555.8,264.0 L556.5,264.3 L557.2,264.5 L558.0,264.6 L558.8,264.6 L559.5,264.6 L560.0,264.5 L560.2,264.5 L561.0,264.0 L561.8,263.3 L562.5,263.3 L563.2,263.7 L564.0,263.8 L564.8,263.6 L565.5,263.4 L566.2,263.3 L567.0,263.9 L567.8,264.7 L568.5,264.4 L569.2,263.7 L570.0,263.6 L570.8,263.6 L571.5,263.5 L572.2,263.3 L573.0,263.5 L573.8,263.7 L574.5,263.9 L575.2,264.0 L576.0,263.6 L576.8,263.1 L577.5,263.1 L578.2,263.1 L579.0,263.0 L579.8,262.8 L580.5,262.6 L581.2,262.4 L582.0,262.6 L582.8,262.9 L583.5,263.0 L584.2,263.1 L585.0,263.0 L585.8,262.8 L586.5,262.7 L587.2,262.5 L588.0,262.0 L588.8,261.7 L589.5,262.3 L590.2,262.8 L591.0,262.7 L591.8,262.8 L592.5,263.1 L593.2,263.2 L594.0,262.5 L594.8,262.0 L595.5,261.7 L596.2,261.5 L597.0,261.3 L597.8,261.3 L598.5,261.6 L599.2,261.9 L600.0,262.0 L600.8,262.1 L601.5,262.2 L602.2,262.0 L603.0,261.4 L603.8,261.2 L604.5,261.5 L605.2,261.9 L606.0,262.3 L606.8,262.3 L607.5,262.0 L608.2,261.8 L609.0,261.6 L609.8,261.5 L610.5,261.5 L611.2,261.2 L612.0,260.8 L612.8,260.7 L613.5,260.7 L614.2,260.9 L615.0,261.1 L615.8,261.5 L616.5,262.0 L617.2,262.1 L618.0,262.0 L618.8,261.7 L619.5,261.2 L620.2,261.3 L621.0,261.5 L621.8,261.5 L622.5,261.4 L623.2,261.5 L624.0,261.7 L624.8,261.2 L625.5,260.6 L626.2,260.8 L627.0,261.0 L627.8,261.2 L628.5,261.4 L629.2,260.6 L630.0,260.0 L630.8,260.3 L631.5,260.6 L632.2,260.7 L633.0,260.7 L633.8,260.7 L634.5,260.7 L635.2,260.7 L636.0,260.7 L636.8,260.7 L637.5,260.7 L638.2,260.8 L639.0,260.9 L639.8,261.0 L640.5,260.9 L641.2,260.6 L642.0,260.5 L642.8,261.0 L643.5,261.0 L644.2,260.2 L645.0,259.7 L645.8,259.7 L646.5,259.8 L647.2,259.9 L648.0,259.8 L648.8,259.4 L649.5,259.1 L650.2,258.8 L651.0,258.7 L651.8,258.7 L652.5,259.1 L653.2,259.8 L654.0,259.7 L654.8,259.1 L655.5,258.7 L656.2,258.5 L657.0,259.0 L657.8,259.9 L658.5,259.9 L659.2,259.4 L660.0,259.2 L660.8,259.0 L661.5,258.7 L662.2,258.3 L663.0,258.5 L663.8,258.8 L664.5,258.6 L665.2,258.3 L666.0,258.4 L666.8,258.6 L667.5,258.5 L668.2,258.4 L669.0,258.3 L669.8,258.1 L670.5,258.2 L671.2,258.3 L672.0,257.9 L672.8,257.5 L673.5,257.6 L674.2,257.7 L675.0,257.5 L675.8,257.4 L676.5,257.7 L677.2,257.9 L678.0,258.0 L678.8,258.0 L679.5,258.0 L680.0,258.0 L680.2,257.8 L681.0,257.0 L681.8,256.3 L682.5,257.4 L683.2,258.1 L684.0,257.4 L684.8,256.8 L685.5,256.7 L686.2,256.6 L687.0,256.6 L687.8,256.5 L688.5,256.3 L689.2,256.3 L690.0,256.6 L690.8,256.7 L691.5,256.2 L692.2,255.9 L693.0,255.9 L693.8,255.9 L694.5,256.0 L695.2,256.1 L696.0,256.1 L696.8,255.8 L697.5,255.0 L698.2,254.6 L699.0,254.5 L699.8,254.3 L700.0,254.3 L700.5,254.1 L701.2,254.1 L702.0,254.1 L702.8,254.5 L703.5,255.2 L704.2,255.5 L705.0,255.4 L705.8,255.4 L706.5,255.5 L707.2,255.6 L708.0,255.8 L708.8,255.9 L709.5,255.9 L710.2,256.2 L711.0,256.5 L711.8,256.8 L712.5,257.0 L713.2,256.5 L714.0,255.8 L714.8,256.4 L715.5,257.2 L716.2,257.2 L717.0,257.2 L717.8,256.7 L718.5,256.2 L719.2,256.5 L720.0,256.9 L720.8,256.7 L721.5,256.6 L722.2,256.3 L723.0,255.9 L723.8,256.5 L724.5,257.0 L725.2,256.5 L726.0,256.1 L726.8,256.6 L727.5,256.8 L728.2,256.3 L729.0,255.7 L729.8,255.6 L730.5,255.4 L731.2,255.3 L732.0,255.1 L732.8,254.5 L733.5,253.9 L734.2,253.3 L735.0,252.8 L735.8,252.9 L736.5,252.9 L737.2,252.9 L737.7,253.0 L738.0,253.0 L738.8,253.2 L739.5,253.1 L740.2,252.8 L741.0,252.9 L741.8,253.7 L742.5,254.1 L743.2,254.0 L744.0,254.1 L744.8,254.3 L745.5,254.9 L746.2,255.7 L747.0,256.2 L747.8,256.4 L748.5,256.7 L749.2,257.1 L750.0,257.3 L750.8,257.5 L751.5,257.5 L752.2,257.4 L753.0,258.0 L753.8,259.1 L754.5,259.8 L755.2,260.3 L756.0,260.7 L756.8,261.0 L757.5,261.7 L758.2,262.6 L759.0,262.8 L759.8,262.6 L760.5,263.2 L761.2,263.8 L762.0,263.8 L762.4,263.8 L762.8,263.7 L763.5,263.2 L764.2,262.7 L765.0,262.6 L765.8,262.5 L766.5,262.7 L767.2,262.8 L768.0,262.9 L768.8,263.0 L769.5,263.2 L770.2,263.4 L771.0,263.0 L771.8,262.6 L772.5,262.5 L773.2,262.4 L774.0,263.4 L774.8,264.2 L775.5,263.5 L776.2,263.0 L777.0,263.1 L777.8,263.2 L778.5,263.6 L779.2,263.9 L780.0,263.4 L780.8,262.8 L781.5,262.1 L782.2,261.8 L783.0,262.6 L783.8,263.1 L784.5,262.7 L785.2,262.6 L786.0,263.1 L786.8,263.1 L787.5,262.3 L788.2,262.0 L789.0,262.6 L789.8,263.0 L790.5,263.1 L791.2,263.3 L792.0,263.5 L792.8,263.5 L793.5,263.4 L794.2,263.3 L795.0,263.3 L795.8,263.1 L796.5,262.8 L797.2,262.7 L798.0,262.6 L798.8,262.4 L799.5,262.1 L800.2,262.4 L801.0,263.0 L801.8,263.3 L802.5,263.4 L803.2,263.3 L804.0,263.0 L804.8,262.6 L805.5,262.1 L806.2,261.9 L807.0,261.7 L807.8,261.8 L808.5,262.1 L809.2,262.7 L810.0,263.3 L810.8,263.0 L811.5,262.5 L812.2,262.2 L813.0,261.8 L813.8,261.9 L814.5,262.1 L815.2,262.4 L816.0,262.8 L816.8,262.3 L817.5,261.9 L818.2,261.9 L819.0,261.9 L819.8,261.9 L820.5,261.8 L821.2,261.7 L822.0,261.7 L822.8,262.5 L823.5,263.1 L824.2,262.3 L825.0,261.6 L825.8,261.9 L826.5,262.2 L827.2,262.5 L828.0,262.6 L828.8,262.1 L829.5,261.8 L830.2,261.7 L831.0,261.6 L831.8,261.7 L832.5,261.7 L833.2,261.7 L834.0,261.7 L834.8,261.6 L835.5,261.6 L836.2,261.5 L837.0,261.4 L837.8,261.4 L838.5,261.4 L839.2,261.6 L840.0,261.9 L840.8,262.3 L841.5,262.2 L842.2,261.5 L843.0,261.4 L843.8,261.7 L844.5,261.7 L845.2,261.4 L846.0,261.1 L846.8,260.8 L847.5,260.7 L848.2,260.6 L849.0,260.8 L849.8,261.2 L850.5,261.0 L851.2,260.5 L852.0,260.7 L852.8,261.2 L853.5,261.1 L854.2,260.9 L855.0,261.3 L855.8,261.9 L856.5,261.3 L857.2,260.4 L858.0,260.8 L858.8,261.4 L859.5,261.5 L860.2,261.6 L861.0,261.4 L861.8,261.2 L862.5,260.8 L863.2,260.4 L864.0,260.6 L864.8,260.8 L865.5,260.7 L866.2,260.6 L867.0,260.5 L867.8,260.4 L868.5,260.7 L869.2,260.9 L870.0,260.6 L870.8,260.3 L871.5,260.4 L872.2,260.5 L873.0,260.7 L873.8,260.8 L874.5,260.4 L875.2,260.1 L876.0,260.0 L876.8,260.0 L877.5,260.1 L878.2,260.2 L879.0,259.9 L879.8,259.6 L880.5,259.0 L881.2,258.8 L882.0,259.3 L882.8,259.7 L883.5,259.7 L884.2,259.6 L885.0,259.3 L885.8,259.0 L886.5,258.8 L887.2,259.0 L888.0,259.7 L888.8,259.8 L889.5,259.4 L890.2,259.5 L891.0,259.8 L891.8,259.9 L892.5,259.9 L893.2,260.0 L894.0,260.3 L894.8,260.2 L895.5,259.9 L896.2,259.8 L897.0,259.9 L897.8,260.0 L898.5,260.1 L899.2,259.7 L900.0,259.2 L900.8,259.4 L901.5,259.8 L902.2,259.9 L903.0,259.9 L903.8,259.1 L904.5,258.2 L905.2,258.2 L906.0,258.4 L906.8,258.7 L907.5,259.0 L908.2,259.5 L909.0,259.9 L909.8,259.3 L910.5,258.7 L911.2,258.4 L912.0,258.0 L912.8,257.9 L913.5,257.8 L914.2,258.4 L915.0,258.9 L915.8,258.8 L916.5,258.7 L917.2,258.4 L918.0,258.2 L918.8,258.5 L919.5,258.6 L920.2,258.4 L921.0,258.3 L921.8,258.7 L922.5,258.9 L923.2,258.1 L924.0,257.5 L924.8,257.8 L925.5,258.1 L926.2,258.5 L927.0,258.7 L927.8,258.1 L928.5,257.7 L929.2,257.6 L930.0,257.6 L930.8,257.7 L931.5,258.1 L932.2,258.7 L933.0,258.8 L933.8,258.3 L934.5,258.2 L935.2,258.5 L936.0,258.3 L936.8,257.6 L937.5,257.3 L938.2,257.5 L939.0,257.7 L939.8,258.0 L940.5,257.9 L941.2,257.8 L942.0,257.6 L942.8,257.3 L943.5,256.8 L944.2,256.3 L945.0,256.7 L945.8,257.5 L946.5,257.7 L947.2,257.8 L948.0,257.7 L948.8,257.6 L949.5,257.0 L950.2,256.3 L951.0,256.2 L951.8,256.3 L952.5,256.5 L953.2,256.7 L954.0,256.6 L954.8,256.4 L955.5,256.9 L956.2,257.5 L957.0,256.9 L957.8,256.3 L958.5,256.4 L959.2,256.6 L960.0,256.4 L960.8,256.1 L961.5,255.9 L962.2,255.7 L963.0,256.5 L963.8,257.2 L964.5,256.9 L965.2,256.7 L966.0,256.4 L966.8,256.1 L967.5,256.3 L968.2,256.4 L969.0,255.7 L969.8,255.4 L970.5,256.5 L971.2,257.1 L972.0,256.3 L972.8,255.6 L973.5,255.3 L974.2,255.2 L975.0,255.4 L975.8,255.7 L976.5,256.0 L977.2,256.2 L978.0,256.1 L978.8,256.1 L979.5,256.3 L980.2,256.4 L981.0,256.4 L981.8,256.3 L982.5,256.0 L983.2,256.0 L984.0,256.3 L984.8,256.0 L985.5,255.1 L986.2,255.0 L987.0,255.7 L987.8,256.0 L988.5,255.9 L989.2,255.9 L990.0,255.8 L990.8,255.7 L991.5,255.5 L992.2,255.3 L993.0,255.2 L993.8,255.1 L994.5,255.1 L995.2,254.8 L996.0,254.4 L996.8,254.6 L997.5,254.9 L998.2,255.4 L999.0,255.8 L999.8,255.9 L1000.5,256.0 L1001.2,255.5 L1002.0,254.9 L1002.8,254.8 L1003.5,254.7 L1004.2,254.7 L1005.0,254.7 L1005.8,254.8 L1006.5,254.8 L1007.2,254.9 L1008.0,254.9 L1008.8,255.0 L1009.5,255.1 L1010.2,255.4 L1011.0,255.5 L1011.8,254.4 L1012.5,253.5 L1013.2,253.8 L1014.0,254.0 L1014.8,254.2 L1015.5,254.3 L1016.2,254.4 L1017.0,254.5 L1017.8,254.6 L1018.5,254.8 L1019.2,255.2 L1020.0,255.2 L1020.8,254.4 L1021.5,253.9 L1022.2,254.4 L1023.0,254.6 L1023.8,254.3 L1024.5,254.2 L1025.2,254.2 L1026.0,254.2 L1026.8,254.3 L1027.5,254.3 L1028.2,254.5 L1029.0,254.4 L1029.8,254.2 L1030.5,253.9 L1031.2,253.5 L1032.0,253.5 L1032.8,254.0 L1033.5,254.1 L1034.2,254.1 L1035.0,253.7 L1035.8,253.1 L1036.5,253.2 L1037.2,253.7 L1038.0,253.8 L1038.8,253.6 L1039.5,253.5 L1040.2,253.5 L1041.0,253.5 L1041.8,253.5 L1042.5,253.9 L1043.2,254.4 L1044.0,253.7 L1044.8,252.6 L1045.5,252.8 L1046.2,253.3 L1047.0,252.9 L1047.8,252.2 L1048.5,252.6 L1049.2,253.2 L1050.0,253.4 L1050.8,253.7 L1051.5,252.9 L1052.2,252.0 L1053.0,252.8 L1053.8,253.7 L1054.5,253.5 L1055.2,253.2 L1056.0,253.0 L1056.8,252.8 L1057.5,252.8 L1058.2,252.7 L1059.0,252.8 L1059.8,252.8 L1060.5,252.8 L1061.2,252.8 L1062.0,252.7 L1062.8,252.7 L1063.5,253.0 L1064.0,253.2 L1064.2,253.2 L1065.0,253.1 L1065.8,252.9 L1066.5,252.4 L1067.2,252.1 L1068.0,252.7 L1068.8,253.1 L1069.5,253.3 L1070.2,253.4 L1071.0,253.3 L1071.8,253.1 L1072.5,252.7 L1073.2,252.2 L1074.0,251.6 L1074.8,251.4 L1075.5,251.7 L1076.2,251.9 L1077.0,252.0 L1077.8,252.0 L1078.5,252.0 L1079.2,251.7 L1080.0,251.3 L1080.8,251.4 L1081.5,252.0 L1082.2,252.3 L1083.0,252.4 L1083.8,251.9 L1084.5,251.2 L1085.2,251.1 L1086.0,251.2 L1086.8,251.2 L1087.5,251.1 L1088.2,251.3 L1089.0,251.5 L1089.8,251.8 L1090.5,252.2 L1091.2,251.4 L1092.0,250.4 L1092.8,251.1 L1093.5,252.2 L1094.2,252.2 L1095.0,252.0 L1095.8,251.3 L1096.5,250.6 L1097.2,251.3 L1098.0,252.1 L1098.8,252.0 L1099.5,251.9 L1100.2,251.7 L1101.0,251.4 L1101.8,251.3 L1102.5,251.2 L1103.2,250.8 L1104.0,250.5 L1104.8,250.8 L1105.5,251.2 L1106.2,250.7 L1107.0,250.4 L1107.8,250.6 L1108.5,250.9 L1109.2,251.1 L1110.0,251.3 L1110.8,250.8 L1111.5,250.4 L1112.2,250.3 L1113.0,250.3 L1113.8,250.6 L1114.5,250.9 L1115.2,251.0 L1116.0,251.0 L1116.8,251.0 L1117.5,250.9 L1118.2,250.5 L1119.0,250.4 L1119.8,250.8 L1120.5,251.1 L1121.2,251.2 L1122.0,250.9 L1122.8,250.3 L1123.5,250.1 L1124.2,250.3 L1125.0,250.1 L1125.8,249.3 L1126.5,249.2 L1127.2,249.6 L1128.0,249.7 L1128.8,249.4 L1129.5,249.4 L1130.2,249.8 L1131.0,249.7 L1131.8,249.5 L1132.5,249.0 L1133.2,248.5 L1134.0,248.9 L1134.8,249.7 L1135.5,249.6 L1136.2,249.1 L1137.0,249.4 L1137.8,250.1 L1138.5,250.2 L1139.2,250.3 L1140.0,250.1 L1140.8,249.8 L1141.5,249.5 L1142.2,249.3 L1143.0,249.3 L1143.8,249.4 L1144.5,248.9 L1145.2,248.4 L1146.0,248.7 L1146.8,249.2 L1147.5,249.4 L1148.2,249.6 L1149.0,249.5 L1149.8,249.4 L1150.5,248.9 L1151.2,248.4 L1152.0,249.1 L1152.8,249.8 L1153.5,249.4 L1154.2,249.1 L1155.0,248.6 L1155.8,248.2 L1156.5,248.6 L1157.2,248.9 L1158.0,248.4 L1158.8,248.1 L1159.5,248.2 L1160.2,248.3 L1161.0,248.4 L1161.8,248.7 L1162.5,249.2 L1163.2,249.6 L1164.0,249.6 L1164.8,249.3 L1165.5,248.2 L1166.2,247.6 L1167.0,248.0 L1167.8,248.2 L1168.0,248.2 L1168.5,248.2 L1169.2,248.2 L1170.0,248.4 L1170.8,248.5 L1171.5,248.4 L1172.2,248.2 L1173.0,247.8 L1173.8,247.8 L1174.5,248.0 L1175.2,248.0 L1176.0,247.6 L1176.8,247.4 L1177.5,247.4 L1178.2,247.6 L1179.0,247.9 L1179.8,248.0 L1180.5,247.8 L1181.2,247.6 L1182.0,247.3 L1182.8,247.5 L1183.5,247.8 L1184.2,247.7 L1185.0,247.3 L1185.8,247.1 L1186.5,246.9 L1187.2,247.0 L1188.0,247.2 L1188.8,247.4 L1189.5,247.6 L1190.2,247.3 L1191.0,246.8 L1191.8,247.3 L1192.5,247.9 L1193.2,247.5 L1194.0,246.9 L1194.8,247.0 L1195.5,247.1 L1196.2,247.2 L1197.0,247.3 L1197.8,247.1 L1198.5,246.8 L1199.2,246.6 L1200.0,246.4 L1200.8,246.5 L1201.5,246.6 L1202.2,246.9 L1203.0,247.2 L1203.8,247.3 L1204.5,247.3 L1205.2,247.1 L1206.0,246.8 L1206.8,246.5 L1207.5,246.1 L1208.2,246.0 L1209.0,245.8 L1209.8,245.9 L1210.5,246.0 L1211.2,246.0 L1212.0,246.1 L1212.8,246.3 L1213.5,246.4 L1214.2,246.3 L1215.0,246.1 L1215.8,245.9 L1216.5,245.9 L1217.2,246.3 L1218.0,246.4 L1218.8,245.9 L1219.5,245.8 L1220.2,246.0 L1221.0,246.0 L1221.8,245.7 L1222.5,245.9 L1223.2,246.4 L1224.0,246.6 L1224.8,246.4 L1225.5,246.2 L1226.2,246.2 L1227.0,246.3 L1227.8,246.6 L1228.0,246.7 L1228.5,246.6 L1229.2,246.4 L1230.0,246.1 L1230.8,245.9 L1231.5,245.9 L1232.2,245.7 L1233.0,244.9 L1233.8,243.4 L1234.5,241.2 L1235.2,238.5 L1236.0,236.1 L1236.8,235.0 L1236.9,234.9 L1237.5,235.6 L1238.2,237.7 L1239.0,240.6 L1239.8,243.3 L1240.5,245.2 L1241.2,246.5 L1242.0,247.0 L1242.8,247.3 L1243.5,247.4 L1244.2,247.6 L1245.0,247.5 L1245.8,247.3 L1246.5,247.3 L1247.2,247.2 L1248.0,247.2 L1248.8,247.2 L1249.5,247.2 L1250.2,247.1 L1251.0,246.9 L1251.8,246.8 L1252.5,247.1 L1253.2,247.2 L1254.0,246.8 L1254.8,246.5 L1255.5,246.5 L1256.2,246.4 L1257.0,246.2 L1257.8,246.1 L1258.5,246.6 L1259.2,246.8 L1260.0,246.5 L1260.8,246.3 L1261.5,246.3 L1262.2,246.4 L1263.0,246.4 L1263.8,246.3 L1264.5,245.9 L1265.2,245.9 L1266.0,246.1 L1266.8,246.2 L1267.5,246.1 L1268.2,246.0 L1269.0,245.9 L1269.8,245.5 L1270.5,244.9 L1271.2,245.1 L1272.0,245.9 L1272.8,246.0 L1273.5,245.8 L1274.2,245.7 L1275.0,245.7 L1275.8,245.8 L1276.5,246.1 L1277.2,245.6 L1278.0,244.7 L1278.8,245.0 L1279.5,245.9 L1280.2,245.5 L1281.0,244.8 L1281.8,244.9 L1282.5,245.2 L1283.2,245.3 L1284.0,245.3 L1284.8,244.7 L1285.5,244.0 L1286.2,244.2 L1287.0,244.6 L1287.8,244.4 L1288.5,244.1 L1289.2,244.3 L1290.0,244.6 L1290.8,244.0 L1291.5,243.5 L1292.0,244.1 L1292.2,244.4 L1293.0,245.3 L1293.8,244.9 L1294.5,244.5 L1295.2,244.3 L1296.0,244.1 L1296.8,243.9 L1297.5,243.8 L1298.2,244.5 L1299.0,244.9 L1299.8,244.4 L1300.5,244.0 L1301.2,244.3 L1302.0,244.5 L1302.8,243.9 L1303.5,243.6 L1304.2,244.1 L1305.0,244.3 L1305.8,243.5 L1306.5,243.2 L1307.2,243.9 L1308.0,244.2 L1308.8,243.8 L1309.5,243.5 L1310.2,243.5 L1311.0,243.7 L1311.8,244.3 L1312.5,244.6 L1313.2,244.5 L1314.0,244.3 L1314.8,243.9 L1315.5,243.7 L1316.2,243.7 L1317.0,243.9 L1317.8,244.5 L1318.5,244.3 L1319.2,243.5 L1320.0,243.4 L1320.8,243.7 L1321.5,243.8 L1322.2,243.7 L1323.0,243.7 L1323.8,244.0 L1324.5,244.0 L1325.2,244.0 L1326.0,243.9 L1326.8,243.9 L1327.5,243.7 L1328.2,243.3 L1329.0,243.6 L1329.8,244.0 L1330.5,244.2 L1331.2,244.2 L1332.0,244.0 L1332.8,243.7 L1333.5,244.2 L1334.2,244.9 L1335.0,244.3 L1335.8,243.7 L1336.5,243.8 L1337.2,243.9 L1338.0,244.5 L1338.8,245.0 L1339.5,244.3 L1340.2,243.7 L1341.0,243.7 L1341.8,243.7 L1342.5,243.3 L1343.2,243.0 L1344.0,243.4 L1344.8,243.7 L1345.5,243.6 L1346.2,243.4 L1347.0,243.5 L1347.8,243.5 L1348.5,243.0 L1349.2,242.6 L1350.0,243.2 L1350.8,243.4 L1351.5,243.1 L1352.2,242.8 L1353.0,242.7 L1353.8,242.5 L1354.5,242.0 L1355.2,241.4 L1356.0,240.8 L1356.8,240.7 L1357.5,241.1 L1358.2,241.3 L1359.0,241.1 L1359.8,240.9 L1360.5,240.7 L1361.2,240.9 L1362.0,241.5 L1362.8,241.6 L1363.5,241.3 L1364.2,241.3 L1365.0,241.4 L1365.8,241.7 L1366.5,242.1 L1367.2,242.4 L1368.0,242.7 L1368.8,243.1 L1369.5,243.5 L1370.2,243.9 L1371.0,244.4 L1371.8,244.7 L1372.5,244.9 L1373.2,245.2 L1374.0,245.4 L1374.8,245.7 L1375.0,245.7 L1375.5,245.9 L1376.2,246.5 L1377.0,247.2 L1377.8,247.8 L1378.5,248.3 L1379.2,248.8 L1380.0,249.4 L1380.8,249.5 L1381.5,249.5 L1382.2,249.7 L1383.0,250.0 L1383.8,250.4 L1384.5,250.7 L1385.2,251.8 L1386.0,252.9 L1386.8,252.8 L1387.5,252.7 L1388.2,252.8 L1389.0,252.9 L1389.8,252.9 L1390.5,252.5 L1391.2,251.2 L1392.0,248.0 L1392.8,241.9 L1393.5,231.8 L1394.2,218.0 L1395.0,202.2 L1395.8,188.4 L1396.5,180.7 L1396.8,180.0 L1397.2,181.8 L1398.0,191.3 L1398.8,206.2 L1399.5,222.1 L1400.2,235.6 L1401.0,245.1 L1401.8,250.9 L1402.5,253.9 L1403.2,255.3 L1404.0,256.0 L1404.8,256.2 L1405.5,256.4 L1406.2,256.3 L1406.4,256.3 L1407.0,256.1 L1407.8,256.3 L1408.5,256.5 L1409.2,256.4 L1410.0,256.6 L1410.8,257.0 L1411.5,257.2 L1412.2,257.1 L1413.0,257.2 L1413.8,257.3 L1414.5,257.2 L1415.2,257.1 L1416.0,257.5 L1416.8,258.2 L1417.5,257.9 L1418.2,257.2 L1419.0,257.3 L1419.8,257.8 L1420.5,257.9 L1421.2,257.8 L1422.0,258.0 L1422.8,258.3 L1423.5,257.9 L1424.2,257.3 L1425.0,257.7 L1425.8,258.3 L1426.5,257.9 L1427.2,257.3 L1428.0,257.5 L1428.8,257.8 L1429.5,257.8 L1430.2,257.6 L1431.0,258.3 L1431.8,259.0 L1432.5,258.0 L1433.2,256.9 L1434.0,257.1 L1434.8,257.3 L1435.5,256.9 L1436.2,256.6 L1437.0,256.8 L1437.8,257.0 L1438.5,257.3 L1439.2,257.5 L1440.0,257.4 L1440.8,257.3 L1441.5,257.2 L1442.2,257.0 L1443.0,257.1 L1443.8,257.1 L1444.5,257.2 L1445.2,257.4 L1446.0,257.4 L1446.8,257.6 L1447.5,258.1 L1448.2,258.2 L1449.0,257.9 L1449.8,257.5 L1450.5,257.4 L1451.2,257.3 L1452.0,257.2 L1452.8,257.2 L1453.5,257.5 L1454.2,257.7 L1455.0,257.9 L1455.8,257.8 L1456.5,257.3 L1457.2,257.2 L1458.0,257.5 L1458.8,257.6 L1459.5,257.5 L1460.2,257.0 L1461.0,256.2 L1461.8,256.5 L1462.5,257.7 L1463.2,258.0 L1464.0,257.6 L1464.8,257.1 L1465.5,256.4 L1466.2,256.0 L1467.0,255.8 L1467.8,256.2 L1468.5,256.8 L1469.2,256.8 L1470.0,256.6 L1470.8,256.7 L1471.5,257.0 L1472.2,256.8 L1473.0,256.6 L1473.8,256.9 L1474.5,257.3 L1475.2,256.9 L1476.0,256.4 L1476.8,256.6 L1477.5,256.8 L1478.2,256.9 L1479.0,257.0 L1479.8,256.7 L1480.5,256.4 L1481.2,256.7 L1482.0,257.0 L1482.8,256.7 L1483.5,256.5 L1484.2,256.4 L1485.0,256.4 L1485.8,256.3 L1486.5,256.2 L1487.2,255.6 L1488.0,255.1 L1488.8,255.4 L1489.5,255.8 L1490.2,256.6 L1491.0,257.2 L1491.8,256.5 L1492.5,255.9 L1493.2,255.8 L1494.0,255.7 L1494.8,255.9 L1495.5,256.0 L1496.2,255.9 L1497.0,256.1 L1497.8,256.8 L1498.5,256.9 L1499.2,255.9 L1500.0,255.4 L1500.8,255.5 L1501.5,255.7 L1502.2,256.1 L1503.0,255.9 L1503.8,255.2 L1504.5,254.8 L1505.2,254.8 L1506.0,254.9 L1506.8,255.0 L1507.5,255.1 L1508.2,255.2 L1509.0,255.6 L1509.8,256.0 L1510.5,256.3 L1511.2,256.3 L1512.0,256.2 L1512.8,255.9 L1513.5,256.1 L1514.2,256.5 L1515.0,255.8 L1515.8,254.6 L1516.5,254.9 L1517.2,255.8 L1518.0,255.6 L1518.8,255.0 L1519.5,255.1 L1520.2,255.5 L1521.0,255.3 L1521.8,255.0 L1522.5,254.7 L1523.2,254.3 L1524.0,254.9 L1524.8,255.7 L1525.5,255.8 L1526.2,255.8 L1527.0,255.5 L1527.8,255.1 L1528.5,254.7 L1529.2,254.4 L1530.0,255.2 L1530.8,256.0 L1531.5,254.7 L1532.2,253.5 L1533.0,254.2 L1533.8,254.8 L1534.5,254.5 L1535.2,254.2 L1536.0,254.2 L1536.8,254.3 L1537.5,254.8 L1538.2,255.1 L1539.0,254.6 L1539.8,254.4 L1540.5,254.8 L1541.2,255.1 L1542.0,254.8 L1542.8,254.7 L1543.5,255.1 L1544.2,255.2 L1545.0,255.1 L1545.8,255.0 L1546.5,255.0 L1547.2,254.8 L1548.0,254.6 L1548.8,254.4 L1549.5,254.4 L1550.2,254.2 L1551.0,254.0 L1551.8,254.0 L1552.0,254.2 L1552.5,254.5 L1553.2,254.7 L1554.0,254.8 L1554.8,254.7 L1555.5,254.3 L1556.2,254.3 L1557.0,254.7 L1557.8,254.6 L1558.5,254.3 L1559.2,254.4 L1560.0,254.7 L1560.8,254.6 L1561.5,254.4 L1562.2,254.6 L1563.0,255.0 L1563.8,255.4 L1564.5,255.8 L1565.2,255.7 L1566.0,255.6 L1566.8,255.1 L1567.5,254.6 L1568.2,255.1 L1569.0,255.9 L1569.8,255.8 L1570.0,255.7 L1570.5,255.6 L1571.2,256.0 L1572.0,256.6 L1572.8,256.5 L1573.5,256.4 L1574.2,256.4 L1575.0,256.5 L1575.8,256.3 L1576.5,256.1 L1577.2,256.3 L1578.0,256.4 L1578.8,256.2 L1579.5,256.0 L1580.2,256.4 L1581.0,256.6 L1581.8,256.8 L1582.5,256.7 L1583.2,256.6 L1584.0,256.5 L1584.8,256.6 L1585.0,256.6 L1585.5,256.2 L1586.2,254.1 L1587.0,251.3 L1587.5,249.6 L1587.8,248.8 L1588.5,246.0 L1589.2,243.3 L1590.0,241.2 L1590.7,240.4 L1590.8,240.4 L1591.5,241.8 L1592.2,244.9 L1593.0,248.5 L1593.8,251.5 L1593.8,251.7 L1594.5,253.8 L1595.2,256.1 L1596.0,257.6 L1596.3,257.9 L1596.8,258.2 L1597.5,258.5 L1598.2,258.7 L1599.0,258.9 L1599.8,259.2 L1600.5,259.5 L1601.2,259.5 L1601.6,259.5 L1602.0,259.3 L1602.8,258.8 L1603.5,258.6 L1604.2,258.7 L1605.0,258.9 L1605.8,259.1 L1606.5,259.0 L1607.2,258.7 L1608.0,258.6 L1608.8,258.5 L1609.5,258.3 L1610.2,257.9 L1610.8,257.8 L1611.0,257.8 L1611.8,257.7 L1612.5,257.8 L1613.2,258.0 L1614.0,257.3 L1614.8,256.3 L1615.5,256.2 L1616.2,256.2 L1616.9,256.6 L1617.0,256.6 L1617.8,257.2 L1618.5,257.3 L1619.2,257.4 L1620.0,257.6 L1620.8,257.8 L1621.5,257.9 L1622.2,257.9 L1623.0,257.9 L1623.8,257.8 L1624.5,257.5 L1625.2,257.2 L1626.0,257.8 L1626.8,258.3 L1627.5,258.3 L1628.2,258.3 L1629.0,258.0 L1629.8,257.7 L1630.5,257.5 L1631.2,257.3 L1631.2,257.4 L1632.0,257.7 L1632.8,258.1 L1633.5,258.4 L1634.2,258.6 L1635.0,258.4 L1635.8,258.4 L1636.5,258.7 L1637.2,258.8 L1638.0,258.3 L1638.8,258.0 L1639.5,257.9 L1640.2,257.8 L1641.0,257.8 L1641.8,257.9 L1642.5,258.0 L1643.2,258.2 L1644.0,258.2 L1644.8,258.3 L1645.5,258.5 L1646.2,258.4 L1647.0,258.1 L1647.8,257.7 L1648.5,257.4 L1649.2,257.3 L1650.0,257.3 L1650.8,257.5 L1651.5,257.8 L1651.6,257.8 L1652.2,257.8 L1653.0,257.6 L1653.8,257.5 L1654.5,257.4 L1655.2,257.1 L1656.0,256.7 L1656.8,256.5 L1657.5,256.3 L1658.2,256.1 L1658.8,255.9 L1659.0,255.9 L1659.8,255.5 L1660.5,255.1 L1661.2,254.9 L1662.0,254.7 L1662.8,254.8 L1663.5,254.9 L1663.9,254.8 L1664.2,254.7 L1665.0,254.6 L1665.8,255.2 L1666.5,255.9 L1667.2,256.3 L1668.0,256.4 L1668.8,257.4 L1669.0,257.6 L1669.5,258.1 L1670.2,258.1 L1671.0,258.1 L1671.8,258.7 L1672.5,259.2 L1673.2,259.1 L1674.0,259.0 L1674.8,259.3 L1675.5,259.5 L1676.1,259.0 L1676.2,258.8 L1677.0,258.2 L1677.8,258.4 L1678.5,258.5 L1679.2,258.2 L1680.0,257.8 L1680.8,257.0 L1681.5,256.5 L1682.2,256.7 L1683.0,256.7 L1683.3,256.4 L1683.8,256.0 L1684.5,255.8 L1685.2,256.5 L1686.0,257.1 L1686.8,257.2 L1687.5,257.5 L1688.2,258.0 L1688.4,258.1 L1689.0,258.0 L1689.8,257.3 L1690.5,257.2 L1691.2,258.0 L1692.0,258.6 L1692.8,258.9 L1693.5,258.6 L1694.2,257.9 L1695.0,257.7 L1695.8,258.3 L1696.5,258.4 L1697.2,257.8 L1698.0,257.9 L1698.8,258.4 L1699.5,258.7 L1700.2,258.8 L1701.0,258.5 L1701.8,257.8 L1702.5,258.2 L1702.7,258.4 L1703.2,259.1 L1704.0,259.1 L1704.8,258.8 L1705.5,258.9 L1706.2,259.2 L1707.0,259.7 L1707.8,260.1 L1708.5,260.4 L1709.2,260.7 L1710.0,260.6 L1710.8,260.4 L1710.8,260.4 L1711.5,260.5 L1712.2,260.6 L1713.0,260.6 L1713.8,260.5 L1714.5,259.9 L1715.2,259.3 L1716.0,259.5 L1716.8,259.8 L1717.5,259.6 L1718.0,259.5 L1718.2,259.4 L1719.0,259.1 L1719.8,258.7 L1720.5,258.5 L1721.2,258.2 L1722.0,257.4 L1722.8,256.6 L1723.5,255.8 L1724.1,255.2 L1724.2,255.1 L1725.0,254.7 L1725.8,253.9 L1726.5,252.7 L1727.2,251.4 L1728.0,250.0 L1728.2,249.6 L1728.8,248.4 L1729.5,246.2 L1730.2,244.6 L1730.7,244.3 L1731.0,244.6 L1731.8,246.8 L1732.5,250.2 L1732.8,251.6 L1733.2,254.6 L1734.0,260.4 L1734.3,261.8 L1734.8,263.0 L1735.5,264.5 L1736.2,265.7 L1737.0,266.6 L1737.3,266.9 L1737.8,267.4 L1738.5,268.0 L1739.2,268.6 L1740.0,269.6 L1740.8,270.1 L1741.5,270.0 L1742.2,270.4 L1743.0,271.3 L1743.5,271.9 L1743.8,272.2 L1744.5,273.1 L1745.2,273.8 L1746.0,274.5 L1746.8,274.9 L1747.5,275.2 L1748.2,275.6 L1749.0,275.9 L1749.6,275.7 L1749.8,275.7 L1750.5,275.3 L1751.2,274.9 L1752.0,274.2 L1752.8,273.4 L1752.8,273.3 L1753.5,271.9 L1754.2,269.4 L1754.9,266.3 L1755.0,265.6 L1755.8,257.4 L1755.9,255.9 L1756.5,250.6 L1756.9,247.1 L1757.2,243.8 L1757.9,237.2 L1758.0,236.1 L1758.8,227.2 L1759.0,224.3 L1759.5,218.6 L1760.0,213.3 L1760.2,210.7 L1761.0,204.1 L1761.8,201.1 L1761.8,201.1 L1762.5,202.7 L1762.8,204.1 L1763.2,208.4 L1763.4,211.0 L1763.9,241.4 L1764.0,244.0 L1764.7,255.4 L1764.8,256.3 L1765.3,265.2 L1765.5,267.8 L1766.2,274.7 L1766.2,275.0 L1767.0,278.1 L1767.7,279.8 L1767.8,279.9 L1768.5,281.2 L1769.2,282.3 L1770.0,282.6 L1770.8,282.7 L1771.5,283.1 L1772.2,283.0 L1773.0,283.2 L1773.8,283.3 L1774.5,283.3 L1775.2,283.2 L1776.0,283.1 L1776.8,283.3 L1777.5,283.3 L1778.2,283.3 L1779.0,283.2 L1779.8,283.3 L1780.5,283.3 L1781.2,283.4 L1782.0,283.4 L1782.8,283.2 L1783.5,283.1 L1784.2,283.1 L1785.0,283.2 L1785.8,283.3 L1786.5,283.5 L1787.2,283.7 L1788.0,283.7 L1788.8,283.5 L1789.5,283.5 L1790.0,283.5 L1790.2,283.5 L1791.0,283.5 L1791.8,283.6 L1792.5,283.5 L1793.2,283.3 L1794.0,283.1 L1794.8,282.9 L1795.5,282.9 L1796.2,283.0 L1797.0,283.1 L1797.8,283.1 L1798.5,283.3 L1799.2,283.6 L1800.0,283.5 L1800.8,283.3 L1801.5,283.3 L1802.2,283.3 L1803.0,283.3 L1803.8,283.3 L1804.5,283.3 L1805.2,283.2 L1806.0,283.3 L1806.8,283.3 L1807.5,283.3 L1808.2,283.3 L1809.0,283.4 L1809.8,283.5 L1810.5,283.4 L1811.2,283.3 L1812.0,283.2 L1812.8,283.0 L1813.5,283.2 L1814.2,283.5 L1815.0,283.4 L1815.8,283.4 L1816.5,283.3 L1817.2,283.2 L1818.0,283.3 L1818.8,283.3 L1819.5,283.2 L1820.2,283.2 L1821.0,283.5 L1821.8,283.8 L1822.5,283.6 L1823.2,283.5 L1824.0,283.4 L1824.8,283.3 L1825.5,283.2 L1826.2,283.2 L1827.0,283.3 L1827.8,283.4 L1828.5,283.4 L1829.2,283.4 L1830.0,283.3 L1830.8,283.3 L1831.5,283.3 L1832.2,283.3 L1833.0,283.6 L1833.8,283.6 L1834.5,283.4 L1835.2,283.3 L1836.0,283.4 L1836.8,283.5 L1837.5,283.5 L1838.2,283.4 L1839.0,283.2 L1839.8,283.1 L1840.5,283.3 L1841.2,283.4 L1842.0,283.5 L1842.8,283.5 L1843.5,283.3 L1844.2,283.2 L1845.0,283.0 L1845.8,283.1 L1846.5,283.4 L1847.2,283.5 L1848.0,283.7 L1848.8,283.6 L1849.5,283.4 L1850.2,283.4 L1851.0,283.4 L1851.8,283.3 L1852.5,283.2 L1853.2,283.2 L1854.0,283.3 L1854.8,283.3 L1855.5,283.4 L1856.2,283.2 L1857.0,283.0 L1857.8,283.1 L1858.5,283.1 L1859.2,283.2 L1860.0,283.3 L1860.8,283.3 L1861.5,283.3 L1862.2,283.3 L1863.0,283.3 L1863.8,283.3 L1864.5,283.3 L1865.2,283.5 L1866.0,283.6 L1866.8,283.4 L1867.5,283.3 L1868.2,283.3 L1869.0,283.3 L1869.8,283.2 L1870.5,283.1 L1871.2,283.1 L1872.0,283.1 L1872.8,283.2 L1873.5,283.3 L1874.2,283.6 L1875.0,283.7 L1875.8,283.6 L1876.5,283.5 L1877.2,283.2 L1878.0,283.1 L1878.8,283.4 L1879.5,283.6 L1880.2,283.4 L1881.0,283.2 L1881.8,283.1 L1882.5,283.1 L1883.2,283.3 L1884.0,283.3 L1884.8,283.2 L1885.5,283.1 L1886.2,283.1 L1887.0,283.1 L1887.8,283.1 L1888.5,283.1 L1889.2,283.2 L1890.0,283.1 L1890.8,282.9 L1891.5,283.1 L1892.2,283.4 L1893.0,283.6 L1893.8,283.6 L1894.5,283.5 L1895.2,283.3 L1896.0,283.3 L1896.8,283.3 L1897.5,283.3 L1898.2,283.4 L1899.0,283.3 L1899.8,283.3 L1900.5,283.3 L1901.2,283.3 L1902.0,283.3 L1902.8,283.4 L1903.5,283.5 L1904.2,283.5 L1905.0,283.4 L1905.8,283.2 L1906.5,283.3 L1907.2,283.4 L1908.0,283.4 L1908.8,283.4 L1909.5,283.3 L1910.2,283.2 L1911.0,283.2 L1911.8,283.3 L1912.5,283.1 L1913.2,282.9 L1914.0,283.0 L1914.8,283.1 L1915.5,283.2 L1916.2,283.4 L1917.0,283.4 L1917.8,283.4 L1918.5,283.5 L1919.2,283.5 L1920.0,283.6 L1920.8,283.5 L1921.5,283.3 L1922.2,283.1 L1923.0,283.3 L1923.8,283.3 L1924.5,283.1 L1925.2,283.0 L1926.0,283.2 L1926.8,283.3 L1927.5,283.2 L1928.2,283.2 L1929.0,283.3 L1929.8,283.4 L1930.5,283.3 L1931.2,283.3 L1932.0,283.3 L1932.8,283.3 L1933.5,283.2 L1934.0,283.2 L1934.2,283.2 L1935.0,283.3 L1935.8,283.4 L1936.5,283.5 L1937.2,283.5 L1938.0,283.3 L1938.8,283.0 L1939.5,282.5 L1940.2,281.7 L1941.0,281.0 L1941.8,280.5 L1942.0,280.5 L1942.5,280.6 L1943.2,281.2 L1944.0,282.0 L1944.8,282.7 L1945.5,283.1 L1946.2,283.3 L1947.0,283.4 L1947.8,283.4 L1948.5,283.3 L1949.2,283.2 L1950.0,283.0 L1950.8,282.6 L1951.5,282.0 L1952.2,281.2 L1953.0,279.9 L1953.8,278.1 L1954.5,276.1 L1955.2,274.2 L1956.0,272.8 L1956.8,272.0 L1956.9,272.0 L1957.5,272.2 L1958.2,273.5 L1959.0,275.3 L1959.8,277.4 L1960.5,279.3 L1961.2,280.7 L1962.0,281.8 L1962.8,282.5 L1963.5,282.9 L1964.2,283.2 L1965.0,283.2 L1965.8,283.3 L1966.5,283.3 L1967.2,283.4 L1968.0,283.4 L1968.8,283.4 L1969.5,283.4 L1970.2,283.6 L1971.0,283.7 L1971.8,283.6 L1972.5,283.5 L1973.2,283.4 L1974.0,283.4 L1974.8,283.5 L1975.0,283.5 L1975.5,283.5 L1976.2,283.4 L1977.0,283.3 L1977.8,283.1 L1978.5,283.2 L1979.2,283.5 L1980.0,283.6 L1980.8,283.5 L1981.5,283.5 L1982.2,283.7 L1983.0,283.7 L1983.8,283.6 L1984.5,283.6 L1985.2,283.8 L1986.0,283.8 L1986.8,283.8 L1987.5,283.6 L1988.2,283.4 L1989.0,283.5 L1989.8,283.9 L1990.5,283.8 L1991.2,283.6 L1992.0,283.6 L1992.8,283.6 L1993.5,283.6 L1994.2,283.5 L1995.0,283.5 L1995.8,283.6 L1996.5,283.8 L1997.2,284.2 L1998.0,284.0 L1998.8,283.8 L1999.5,283.5 L2000.2,283.3 L2001.0,283.7 L2001.8,284.1 L2002.5,284.0 L2003.2,283.8 L2004.0,283.7 L2004.8,283.7 L2005.5,283.8 L2006.2,284.0 L2007.0,283.9 L2007.8,283.9 L2008.5,283.8 L2009.2,283.7 L2010.0,284.0 L2010.8,284.2 L2011.5,284.1 L2012.2,284.0 L2013.0,284.1 L2013.8,284.1 L2014.5,284.1 L2015.2,284.0 L2016.0,284.0 L2016.8,284.0 L2017.5,284.0 L2018.2,284.0 L2019.0,283.9 L2019.8,283.8 L2019.8,283.8 L2020.5,283.8 L2021.2,283.9 L2022.0,284.1 L2022.8,284.2 L2023.5,284.1 L2024.2,284.0 L2025.0,284.0 L2025.8,283.9 L2026.5,283.6 L2027.2,283.2 L2028.0,282.4 L2028.8,281.6 L2029.5,280.7 L2030.2,279.8 L2031.0,279.2 L2031.3,279.1 L2031.8,279.2 L2032.5,279.8 L2033.2,280.7 L2034.0,281.8 L2034.8,282.8 L2035.5,283.5 L2036.2,284.0 L2037.0,284.2 L2037.8,284.2 L2038.5,284.1 L2039.2,284.1 L2040.0,284.1 L2040.8,284.1 L2041.5,284.2 L2042.2,284.2 L2043.0,284.1 L2043.8,284.2 L2044.5,284.4 L2045.2,284.4 L2046.0,284.5 L2046.8,284.4 L2047.5,284.1 L2048.2,283.7 L2049.0,283.2 L2049.8,282.7 L2050.5,282.3 L2051.0,282.2 L2051.2,282.3 L2052.0,282.6 L2052.8,283.2 L2053.5,283.8 L2054.2,284.2 L2055.0,284.5 L2055.8,284.4 L2056.5,284.3 L2057.2,284.5 L2058.0,284.7 L2058.8,284.7 L2059.5,284.8 L2060.2,285.0 L2061.0,285.1 L2061.8,284.7 L2062.5,284.5 L2063.2,284.6 L2064.0,284.7 L2064.8,284.8 L2065.5,284.9 L2066.2,284.9 L2067.0,284.9 L2067.8,284.9 L2068.5,285.0 L2069.2,284.9 L2070.0,284.9 L2070.8,285.0 L2071.5,285.0 L2072.2,284.9 L2073.0,284.9 L2073.8,284.9 L2074.5,284.8 L2075.2,284.6 L2076.0,284.8 L2076.8,285.2 L2077.5,285.2 L2078.2,284.8 L2079.0,284.8 L2079.8,285.0 L2080.5,285.1 L2081.2,285.1 L2082.0,285.0 L2082.8,284.9 L2083.5,284.8 L2084.2,284.8 L2085.0,284.9 L2085.8,285.1 L2086.5,285.0 L2087.2,284.8 L2088.0,285.0 L2088.8,285.3 L2089.5,285.5 L2090.0,285.6 L2090.2,285.7 L2091.0,285.6 L2091.8,285.5 L2092.5,285.2 L2093.2,284.8 L2094.0,285.0 L2094.8,285.4 L2095.5,285.3 L2096.2,285.3 L2097.0,285.3 L2097.8,285.3 L2098.5,285.4 L2099.2,285.5 L2100.0,285.4 L2100.8,285.3 L2101.5,285.4 L2102.2,285.5 L2103.0,285.3 L2103.8,285.1 L2104.5,284.9 L2105.2,284.6 L2106.0,284.3 L2106.8,283.9 L2107.5,283.5 L2108.2,283.2 L2108.6,283.1 L2109.0,283.1 L2109.8,283.3 L2110.5,284.0 L2111.2,284.7 L2112.0,285.0 L2112.8,285.1 L2113.5,285.3 L2114.2,285.4 L2115.0,285.4 L2115.8,285.5 L2116.5,285.5 L2117.2,285.6 L2118.0,285.7 L2118.8,285.8 L2119.5,285.8 L2120.2,285.8 L2121.0,285.8 L2121.8,285.8 L2122.5,286.0 L2123.2,285.9 L2124.0,285.7 L2124.8,285.7 L2125.5,285.8 L2126.2,285.9 L2127.0,285.9 L2127.8,285.7 L2128.5,285.5 L2129.2,285.6 L2130.0,285.8 L2130.8,285.9 L2131.5,285.8 L2132.2,286.0 L2133.0,286.2 L2133.8,286.1 L2134.5,285.9 L2135.2,286.0 L2136.0,286.2 L2136.8,286.2 L2137.5,286.1 L2138.2,285.9 L2139.0,285.7 L2139.8,285.9 L2140.5,286.1 L2141.2,285.9 L2142.0,285.6 L2142.8,285.2 L2143.5,284.8 L2144.2,284.4 L2145.0,284.3 L2145.8,284.6 L2146.5,285.1 L2147.2,285.3 L2148.0,285.5 L2148.8,286.0 L2149.5,286.3 L2150.2,286.4 L2151.0,286.4 L2151.8,286.4 L2152.5,286.3 L2153.2,286.3 L2154.0,286.3 L2154.8,286.4 L2155.0,286.4 L2155.5,286.5 L2156.2,286.5 L2157.0,286.4 L2157.8,286.3 L2158.5,286.3 L2159.2,286.5 L2160.0,286.7 L2160.8,286.7 L2161.5,286.8 L2162.2,286.7 L2163.0,286.7 L2163.8,286.5 L2164.5,286.5 L2165.2,286.8 L2166.0,286.9 L2166.8,286.9 L2167.5,286.9 L2168.2,287.1 L2169.0,287.1 L2169.8,287.0 L2170.0,287.0 L2170.5,287.0 L2171.2,287.0 L2172.0,287.0 L2172.8,287.1 L2173.5,287.2 L2174.2,287.2 L2175.0,287.4 L2175.8,287.7 L2176.5,287.6 L2177.2,287.3 L2178.0,287.2 L2178.8,287.2 L2179.5,287.3 L2180.2,287.5 L2181.0,287.6 L2181.8,287.6 L2182.5,287.5 L2183.0,287.4"/>
</g>
<g font-family="'Liberation Sans', Arial, Helvetica, sans-serif" fill="#000">
<text id="t0" transform="matrix(0.985 0.0 0.0 1.0386 2165.8856 1616.1807)" font-size="62.5" font-weight="bold">0</text>
<text id="t200" transform="matrix(0.985 0.0 0.0 1.0386 1836.4466 1616.1807)" font-size="62.5" font-weight="bold">200</text>
<text id="t400" transform="matrix(0.985 0.0 0.0 1.0386 1541.7288 1616.1807)" font-size="62.5" font-weight="bold">400</text>
<text id="t600" transform="matrix(0.985 0.0 0.0 1.0386 1245.7798 1616.1807)" font-size="62.5" font-weight="bold">600</text>
<text id="t800" transform="matrix(0.985 0.0 0.0 1.0386 950.5695 1616.1807)" font-size="62.5" font-weight="bold">800</text>
<text id="t1000" transform="matrix(0.985 0.0 0.0 1.0386 637.1368 1616.1807)" font-size="62.5" font-weight="bold">1000</text>
<text id="t1200" transform="matrix(0.985 0.0 0.0 1.0386 341.8034 1616.1807)" font-size="62.5" font-weight="bold">1200</text>
<text id="xt" transform="matrix(1.0069 0.0 0.0 1.035 837.8657 1739.0)" font-size="75" font-weight="bold">Binding energy(eV)</text>
<text id="yt" transform="matrix(0.0 -1.0097 1.035 0.0 88.1 1028.9486)" font-size="75" font-weight="bold">Intensity(a.u.)</text>
<text id="l1" transform="matrix(1.0071 0.0 0.0 1.0642 375.5055 221.4048)" font-size="75">Mg-CO</text>
<text id="l2" transform="matrix(1.0107 0.0 0.0 1.0642 382.8829 402.9)" font-size="75">Mg-BR</text>
<text id="l3" transform="matrix(1.0074 0.0 0.0 1.0642 354.8037 567.9)" font-size="75">Mg-SA</text>
<text id="l4" transform="matrix(1.0077 0.0 0.0 1.0642 386.0018 747.3)" font-size="75">Mg-DM</text>
<text id="l5" transform="matrix(1.0164 0.0 0.0 1.0642 392.9478 1024.8)" font-size="75">Mg-OH</text>
<text id="l6" transform="matrix(1.0133 0.0 0.0 1.0642 468.2467 1337.1)" font-size="75">AZ31B</text>
<text id="p1" transform="matrix(1.0041 0.0 0.0 1.0435 1182.3855 199.9)" font-size="42">Mn<tspan font-size="28" dy="11.5">2p</tspan></text>
<text id="p2" transform="matrix(1.0214 0.0 0.0 1.0217 1927.8571 244.7859)" font-size="42">S<tspan font-size="28" dy="11.0">2p</tspan></text>
<text id="p3" transform="matrix(1.0126 0.0 0.0 1.038 1570.3559 735.8418)" font-size="42">N<tspan font-size="28" dy="10.5">1s</tspan></text>
<text id="p4" transform="matrix(0.9965 0.0 0.0 1.0428 1693.9105 849.951)" font-size="37.5">Mg<tspan font-size="37.5" dy="10.4">KLL</tspan></text>
<text id="p5" transform="matrix(0.9992 0.0 0.0 1.0268 1373.9017 1129.9348)" font-size="42">O<tspan font-size="28" dy="11.5">1s</tspan></text>
<text id="p6" transform="matrix(0.9903 0.0 0.0 1.0173 1746.6718 1373.6556)" font-size="42">C<tspan font-size="28" dy="11.0">1s</tspan></text>
<text id="p7" transform="matrix(0.9983 0.0 0.0 1.0395 217.9052 1305.6673)" font-size="37.5">Mg<tspan font-size="37.5" dy="14.4">1s</tspan></text>
</g>
</svg>
</body></html>
